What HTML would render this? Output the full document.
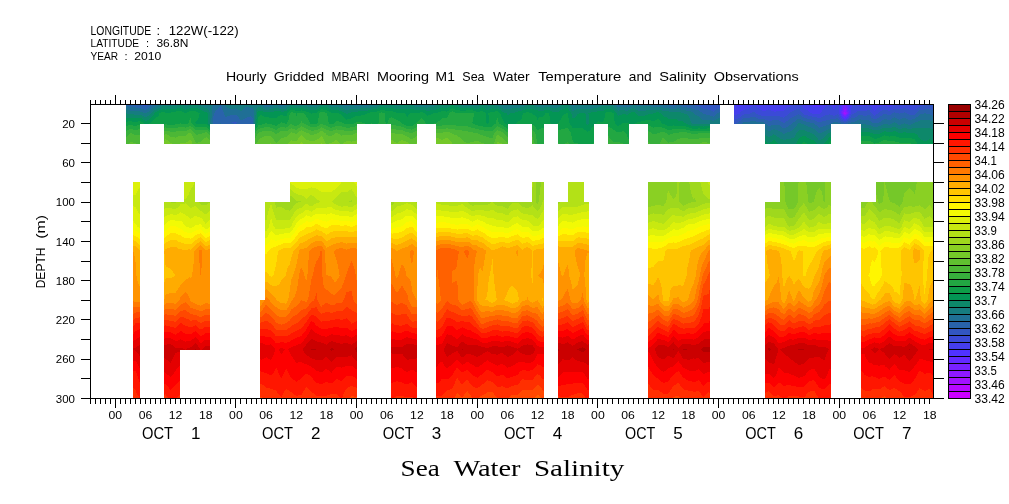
<!DOCTYPE html>
<html><head><meta charset="utf-8"><title>Sea Water Salinity</title>
<style>html,body{margin:0;padding:0;background:#fff;width:1009px;height:504px;overflow:hidden}</style></head>
<body>
<svg width="1009" height="504" viewBox="0 0 1009 504" style="position:absolute;left:0;top:0">
<rect width="1009" height="504" fill="#fff"/>
<g shape-rendering="crispEdges"><path fill="#a311ff" d="M844 112h1v1h-1zM844 113h2v1h-2z"/>
<path fill="#8e19ff" d="M843 112h1v2h-1zM844 109h2v3h-2zM844 114h2v1h-2zM845 112h2v1h-2zM846 113h1v1h-1z"/>
<path fill="#7921ff" d="M842 112h1v2h-1zM842 111h2v1h-2zM843 109h1v2h-1zM843 114h1v1h-1zM843 108h4v1h-4zM844 106h2v2h-2zM844 115h2v1h-2zM846 109h1v3h-1zM846 114h1v1h-1zM847 112h1v2h-1z"/>
<path fill="#6429ff" d="M841 111h1v3h-1zM842 108h1v3h-1zM842 114h1v1h-1zM842 106h2v2h-2zM842 115h2v1h-2zM843 104h4v2h-4zM843 116h4v1h-4zM844 117h1v1h-1zM846 115h1v1h-1zM846 106h2v2h-2zM847 108h1v3h-1zM847 114h1v1h-1zM847 111h2v1h-2zM848 112h1v2h-1z"/>
<path fill="#5032ff" d="M736 104h9v1h-9zM737 105h4v1h-4zM774 104h6v1h-6zM811 104h10v1h-10zM812 105h8v1h-8zM813 106h7v1h-7zM840 111h1v3h-1zM840 108h2v3h-2zM841 106h1v2h-1zM841 114h1v2h-1zM841 104h2v2h-2zM842 116h1v1h-1zM843 117h1v1h-1zM844 118h2v1h-2zM845 117h2v1h-2zM847 116h1v1h-1zM847 115h2v1h-2zM847 104h3v2h-3zM848 114h1v1h-1zM848 106h2v5h-2zM849 111h1v3h-1z"/>
<path fill="#453eec" d="M734 104h2v1h-2zM734 105h3v1h-3zM734 114h3v1h-3zM734 112h6v2h-6zM734 111h7v1h-7zM734 110h9v1h-9zM734 109h11v1h-11zM734 108h15v1h-15zM734 107h17v1h-17zM734 106h18v1h-18zM741 105h50v1h-50zM745 104h29v1h-29zM756 106h34v1h-34zM757 107h31v1h-31zM759 108h27v1h-27zM760 109h8v1h-8zM762 110h4v1h-4zM769 109h16v1h-16zM771 110h13v1h-13zM774 111h2v1h-2zM780 104h12v1h-12zM801 104h10v1h-10zM802 105h10v1h-10zM803 106h10v1h-10zM803 107h22v1h-22zM804 108h20v1h-20zM806 109h17v1h-17zM808 110h14v1h-14zM809 111h13v1h-13zM810 112h11v1h-11zM812 113h8v1h-8zM820 106h6v1h-6zM820 105h8v1h-8zM821 104h16v1h-16zM831 105h6v1h-6zM832 106h4v1h-4zM833 107h2v2h-2zM838 104h3v1h-3zM839 108h1v6h-1zM839 105h2v3h-2zM840 114h1v2h-1zM841 116h1v1h-1zM841 117h2v1h-2zM842 118h2v1h-2zM844 119h2v1h-2zM846 118h2v1h-2zM847 117h2v1h-2zM848 116h1v1h-1zM849 114h1v2h-1zM850 108h1v6h-1zM850 105h2v3h-2zM850 104h52v1h-52zM857 105h11v1h-11zM870 105h23v1h-23zM871 106h10v1h-10zM872 108h5v1h-5zM872 107h6v1h-6zM873 109h3v1h-3zM874 110h1v1h-1zM887 106h4v1h-4zM908 104h7v1h-7z"/>
<path fill="#3b4ad7" d="M712 104h8v1h-8zM734 119h1v1h-1zM734 118h4v1h-4zM734 117h6v1h-6zM734 116h7v1h-7zM734 115h8v1h-8zM737 114h7v1h-7zM740 113h10v1h-10zM740 112h12v1h-12zM741 111h33v1h-33zM743 110h19v1h-19zM745 109h15v1h-15zM749 108h10v1h-10zM751 107h6v1h-6zM752 106h4v1h-4zM755 112h35v1h-35zM756 113h33v1h-33zM758 114h30v1h-30zM761 115h26v1h-26zM766 110h5v1h-5zM768 109h1v1h-1zM776 111h16v1h-16zM780 116h5v1h-5zM783 117h1v1h-1zM784 110h10v1h-10zM785 109h11v1h-11zM786 108h18v1h-18zM788 107h15v1h-15zM790 106h13v1h-13zM791 105h11v1h-11zM792 104h9v1h-9zM800 109h6v1h-6zM800 110h8v1h-8zM801 111h8v1h-8zM802 112h8v1h-8zM803 113h9v1h-9zM804 114h25v1h-25zM808 115h17v1h-17zM812 116h11v1h-11zM817 117h4v1h-4zM820 113h19v1h-19zM821 112h18v1h-18zM822 110h17v2h-17zM823 109h16v1h-16zM824 108h9v1h-9zM825 107h8v1h-8zM826 106h6v1h-6zM828 105h3v1h-3zM830 114h7v1h-7zM833 115h2v1h-2zM835 107h4v2h-4zM836 106h3v1h-3zM837 104h1v1h-1zM837 105h2v1h-2zM838 114h2v1h-2zM839 115h1v1h-1zM839 116h2v1h-2zM840 117h1v1h-1zM840 118h2v1h-2zM841 119h3v1h-3zM843 120h4v1h-4zM846 119h2v1h-2zM848 118h1v1h-1zM849 117h1v1h-1zM849 116h2v1h-2zM850 115h1v1h-1zM850 114h2v1h-2zM851 113h3v1h-3zM851 112h5v1h-5zM851 111h6v1h-6zM851 110h16v1h-16zM851 108h21v1h-21zM851 109h22v1h-22zM852 105h5v1h-5zM852 106h19v1h-19zM852 107h20v1h-20zM868 105h2v1h-2zM870 110h4v1h-4zM870 111h10v1h-10zM871 112h8v1h-8zM872 113h6v1h-6zM873 114h3v1h-3zM874 115h1v1h-1zM875 110h7v1h-7zM876 109h17v1h-17zM877 108h26v1h-26zM878 107h40v1h-40zM881 106h6v1h-6zM888 110h2v1h-2zM891 106h29v1h-29zM893 105h31v1h-31zM902 104h6v1h-6zM906 108h11v1h-11zM909 109h6v1h-6zM915 104h13v1h-13z"/>
<path fill="#3256c1" d="M138 104h10v1h-10zM142 105h5v1h-5zM232 122h5v1h-5zM234 123h2v1h-2zM688 104h24v1h-24zM695 105h25v1h-25zM699 106h21v1h-21zM701 107h19v1h-19zM703 108h16v1h-16zM708 109h8v1h-8zM711 110h4v1h-4zM713 111h1v1h-1zM734 123h2v1h-2zM734 122h4v1h-4zM734 121h5v1h-5zM734 120h7v1h-7zM735 119h7v1h-7zM738 118h5v1h-5zM740 117h10v1h-10zM741 116h39v1h-39zM742 115h19v1h-19zM744 114h14v1h-14zM750 113h6v1h-6zM752 112h3v1h-3zM756 117h27v1h-27zM758 118h32v1h-32zM765 119h24v1h-24zM768 120h4v1h-4zM779 120h9v1h-9zM781 121h5v1h-5zM783 122h2v1h-2zM784 117h8v1h-8zM785 116h9v1h-9zM787 115h9v1h-9zM788 114h10v1h-10zM789 113h14v1h-14zM790 112h12v1h-12zM792 111h9v1h-9zM794 110h6v1h-6zM796 109h4v1h-4zM799 114h5v1h-5zM801 115h7v1h-7zM802 116h10v1h-10zM804 117h13v1h-13zM807 118h29v1h-29zM811 119h19v1h-19zM815 120h11v1h-11zM817 121h5v1h-5zM821 117h19v1h-19zM823 116h16v1h-16zM825 115h8v1h-8zM829 114h1v1h-1zM835 115h4v1h-4zM837 114h1v1h-1zM838 118h2v1h-2zM839 119h2v1h-2zM840 120h3v1h-3zM841 121h7v1h-7zM844 122h2v1h-2zM847 120h3v1h-3zM848 119h3v1h-3zM849 118h2v1h-2zM850 117h5v1h-5zM851 116h6v1h-6zM851 115h7v1h-7zM852 114h21v1h-21zM854 113h18v1h-18zM856 112h15v1h-15zM857 111h13v1h-13zM863 115h4v1h-4zM867 110h3v1h-3zM870 115h4v1h-4zM871 117h8v1h-8zM871 116h9v1h-9zM873 118h4v1h-4zM875 115h7v1h-7zM876 114h7v1h-7zM878 113h14v1h-14zM879 112h15v1h-15zM880 111h38v1h-38zM882 110h6v1h-6zM887 114h4v1h-4zM890 110h29v1h-29zM893 109h16v1h-16zM895 112h9v1h-9zM899 113h1v1h-1zM903 108h3v1h-3zM905 112h12v1h-12zM907 113h9v1h-9zM909 114h6v1h-6zM915 109h9v1h-9zM917 108h17v1h-17zM918 107h16v1h-16zM920 106h14v1h-14zM924 105h10v1h-10zM928 104h6v1h-6zM931 109h3v1h-3z"/>
<path fill="#2963ab" d="M126 104h12v1h-12zM126 105h16v1h-16zM129 106h21v1h-21zM136 107h13v1h-13zM141 108h7v1h-7zM144 109h2v1h-2zM147 105h5v1h-5zM148 104h6v1h-6zM213 123h7v1h-7zM213 116h12v1h-12zM213 122h19v1h-19zM213 117h26v2h-26zM213 119h27v1h-27zM213 120h40v2h-40zM214 113h10v2h-10zM214 115h11v1h-11zM215 111h8v1h-8zM215 112h9v1h-9zM216 110h7v1h-7zM217 109h5v1h-5zM218 108h4v1h-4zM219 107h3v1h-3zM220 105h1v2h-1zM221 123h13v1h-13zM227 116h11v1h-11zM230 115h7v1h-7zM236 123h17v1h-17zM237 122h16v1h-16zM243 119h10v1h-10zM245 118h8v1h-8zM247 117h5v1h-5zM250 116h1v1h-1zM265 104h2v1h-2zM665 104h23v1h-23zM669 105h7v1h-7zM673 106h1v1h-1zM680 105h15v1h-15zM682 106h17v1h-17zM687 107h14v1h-14zM692 108h11v1h-11zM695 109h13v1h-13zM699 110h12v1h-12zM700 111h13v1h-13zM702 112h17v1h-17zM703 113h14v1h-14zM706 114h10v1h-10zM710 115h5v1h-5zM713 116h1v1h-1zM714 111h6v1h-6zM715 110h5v1h-5zM716 109h4v1h-4zM719 108h1v1h-1zM736 123h6v1h-6zM738 122h5v1h-5zM739 121h11v1h-11zM741 120h27v1h-27zM742 119h23v1h-23zM743 118h15v1h-15zM750 117h6v1h-6zM756 121h25v1h-25zM764 122h19v1h-19zM765 123h27v1h-27zM767 124h24v1h-24zM768 125h3v1h-3zM772 120h7v1h-7zM780 125h9v1h-9zM781 126h7v1h-7zM782 127h4v1h-4zM785 122h8v1h-8zM786 121h9v1h-9zM788 120h8v1h-8zM789 119h8v1h-8zM790 118h17v1h-17zM792 117h12v1h-12zM794 116h8v1h-8zM796 115h5v1h-5zM798 114h1v1h-1zM801 119h10v1h-10zM803 120h12v1h-12zM806 121h11v1h-11zM810 122h23v1h-23zM814 123h17v1h-17zM815 124h14v1h-14zM817 125h9v1h-9zM818 126h5v1h-5zM819 127h1v1h-1zM822 121h19v1h-19zM826 120h14v1h-14zM830 119h9v1h-9zM836 118h2v1h-2zM838 122h6v1h-6zM841 123h7v1h-7zM846 122h5v1h-5zM848 121h7v1h-7zM850 120h7v1h-7zM851 119h8v1h-8zM851 118h22v1h-22zM855 117h16v1h-16zM857 116h14v1h-14zM858 115h5v1h-5zM861 119h23v1h-23zM867 115h3v1h-3zM869 120h13v1h-13zM871 121h10v1h-10zM872 122h7v1h-7zM877 118h15v1h-15zM879 117h15v1h-15zM880 116h38v1h-38zM882 115h37v1h-37zM883 114h4v1h-4zM887 119h4v1h-4zM891 114h18v1h-18zM892 113h7v1h-7zM894 112h1v1h-1zM895 117h21v1h-21zM897 118h5v1h-5zM899 119h1v1h-1zM900 113h7v1h-7zM904 112h1v1h-1zM906 118h9v1h-9zM908 119h4v1h-4zM915 114h5v1h-5zM916 113h8v1h-8zM917 112h17v1h-17zM918 111h16v1h-16zM919 110h15v1h-15zM924 109h7v1h-7zM926 113h8v1h-8zM930 114h4v1h-4zM932 115h2v1h-2z"/>
<path fill="#1f6f95" d="M126 106h3v1h-3zM126 107h10v1h-10zM126 108h15v1h-15zM127 109h17v1h-17zM130 110h20v1h-20zM140 111h9v1h-9zM143 112h4v1h-4zM146 109h5v1h-5zM148 108h4v1h-4zM149 107h5v1h-5zM150 106h6v1h-6zM152 105h6v1h-6zM154 104h6v1h-6zM206 104h2v1h-2zM211 118h2v5h-2zM212 116h1v2h-1zM212 123h1v1h-1zM212 113h2v3h-2zM212 111h3v2h-3zM212 110h4v1h-4zM212 109h5v1h-5zM212 108h6v1h-6zM212 107h7v1h-7zM212 106h8v1h-8zM213 105h7v1h-7zM213 104h12v1h-12zM220 123h1v1h-1zM221 105h4v1h-4zM221 106h5v1h-5zM222 107h5v1h-5zM222 108h7v1h-7zM222 109h16v1h-16zM223 110h17v1h-17zM223 111h31v1h-31zM224 112h30v3h-30zM225 116h2v1h-2zM225 115h5v1h-5zM235 108h1v1h-1zM237 115h17v1h-17zM238 116h12v1h-12zM239 118h6v1h-6zM239 117h8v1h-8zM240 119h3v1h-3zM242 110h12v1h-12zM243 109h10v1h-10zM244 108h9v1h-9zM245 107h4v1h-4zM251 116h3v1h-3zM252 117h2v1h-2zM253 118h1v6h-1zM261 104h4v1h-4zM263 105h10v1h-10zM264 106h6v1h-6zM267 104h21v1h-21zM278 105h8v1h-8zM281 106h1v1h-1zM313 104h4v1h-4zM339 104h34v1h-34zM343 105h7v1h-7zM354 105h7v1h-7zM363 105h5v1h-5zM501 104h4v1h-4zM571 104h6v1h-6zM572 105h3v1h-3zM582 104h2v1h-2zM591 104h4v1h-4zM615 104h50v1h-50zM616 105h16v1h-16zM617 106h13v1h-13zM627 107h1v1h-1zM636 105h33v1h-33zM651 106h22v1h-22zM663 107h24v1h-24zM669 108h8v1h-8zM674 106h8v1h-8zM676 105h4v1h-4zM679 108h13v1h-13zM681 109h14v1h-14zM686 110h13v1h-13zM691 111h9v1h-9zM693 112h9v1h-9zM694 113h9v1h-9zM695 114h11v1h-11zM697 115h13v1h-13zM699 116h14v1h-14zM700 117h20v1h-20zM701 118h17v1h-17zM702 119h14v1h-14zM712 120h2v1h-2zM714 116h6v1h-6zM715 115h5v1h-5zM716 114h4v1h-4zM717 113h3v1h-3zM719 112h1v1h-1zM742 123h23v1h-23zM743 122h21v1h-21zM750 121h6v1h-6zM765 124h2v1h-2zM765 125h3v1h-3zM765 126h16v1h-16zM765 127h17v1h-17zM765 128h29v1h-29zM766 129h7v1h-7zM768 130h3v1h-3zM771 125h9v1h-9zM775 129h18v1h-18zM778 130h14v1h-14zM780 131h10v1h-10zM782 132h5v1h-5zM783 133h2v1h-2zM786 127h9v1h-9zM788 126h8v1h-8zM789 125h8v1h-8zM791 124h6v1h-6zM792 123h6v1h-6zM793 122h17v1h-17zM795 121h11v1h-11zM796 120h7v1h-7zM797 119h4v1h-4zM801 123h13v1h-13zM804 124h11v1h-11zM806 125h11v1h-11zM808 126h10v1h-10zM811 127h8v1h-8zM813 128h17v1h-17zM815 129h13v1h-13zM816 130h10v1h-10zM817 131h7v1h-7zM818 132h4v1h-4zM820 127h11v1h-11zM823 126h8v1h-8zM826 125h5v1h-5zM829 124h2v1h-2zM831 123h10v1h-10zM833 122h5v1h-5zM848 123h11v1h-11zM851 122h21v1h-21zM855 121h16v1h-16zM857 120h12v1h-12zM859 119h2v1h-2zM860 123h32v1h-32zM866 124h17v1h-17zM871 125h10v1h-10zM873 126h5v1h-5zM879 122h15v1h-15zM881 121h37v1h-37zM882 120h38v1h-38zM884 119h3v1h-3zM888 124h2v1h-2zM891 119h8v1h-8zM892 118h5v1h-5zM894 117h1v1h-1zM895 122h20v1h-20zM897 123h7v1h-7zM898 124h3v1h-3zM900 119h8v1h-8zM902 118h4v1h-4zM905 123h8v1h-8zM908 124h3v1h-3zM912 119h22v1h-22zM915 118h19v1h-19zM916 117h18v1h-18zM918 116h16v1h-16zM919 115h13v1h-13zM920 114h10v1h-10zM924 113h2v1h-2zM930 120h4v1h-4zM933 121h1v1h-1z"/>
<path fill="#167c80" d="M126 109h1v1h-1zM126 110h4v1h-4zM126 111h14v1h-14zM126 112h17v1h-17zM127 113h24v1h-24zM134 114h16v1h-16zM142 115h7v1h-7zM144 116h3v1h-3zM147 112h5v1h-5zM149 111h4v1h-4zM150 110h4v1h-4zM151 109h5v1h-5zM152 108h6v1h-6zM154 107h6v1h-6zM156 106h6v1h-6zM158 105h19v1h-19zM160 104h19v1h-19zM182 104h11v1h-11zM184 105h4v1h-4zM197 104h9v1h-9zM199 105h14v1h-14zM201 106h11v1h-11zM204 107h8v1h-8zM207 108h5v1h-5zM208 109h4v1h-4zM208 104h5v1h-5zM209 110h3v2h-3zM210 118h1v5h-1zM210 112h2v6h-2zM210 123h2v1h-2zM225 104h36v1h-36zM225 105h38v1h-38zM226 106h38v1h-38zM227 107h18v1h-18zM229 108h6v1h-6zM236 108h8v1h-8zM238 109h5v1h-5zM240 110h2v1h-2zM249 107h9v1h-9zM253 109h3v1h-3zM253 108h4v1h-4zM254 115h1v9h-1zM254 110h2v5h-2zM261 107h26v1h-26zM263 108h10v1h-10zM265 109h4v1h-4zM270 106h11v1h-11zM273 105h5v1h-5zM279 108h7v1h-7zM282 106h7v1h-7zM286 105h4v1h-4zM288 104h25v1h-25zM295 105h25v1h-25zM307 106h11v1h-11zM315 107h1v1h-1zM317 104h4v1h-4zM326 104h13v1h-13zM329 105h14v1h-14zM331 106h46v1h-46zM339 107h31v1h-31zM343 108h17v1h-17zM345 109h4v1h-4zM350 105h4v1h-4zM361 105h2v1h-2zM368 105h11v1h-11zM373 104h8v1h-8zM384 104h7v1h-7zM392 104h48v1h-48zM395 105h5v1h-5zM413 105h24v1h-24zM415 106h19v1h-19zM426 107h2v1h-2zM445 104h3v1h-3zM458 104h23v1h-23zM462 105h17v1h-17zM484 104h17v1h-17zM487 105h3v1h-3zM495 105h32v1h-32zM499 106h25v1h-25zM501 107h19v1h-19zM503 108h9v1h-9zM505 104h26v1h-26zM533 104h29v1h-29zM534 105h27v1h-27zM536 106h24v1h-24zM541 107h3v1h-3zM551 107h7v1h-7zM569 104h2v1h-2zM569 105h3v1h-3zM570 107h28v1h-28zM570 106h31v1h-31zM571 108h22v1h-22zM572 110h2v1h-2zM572 109h4v1h-4zM575 105h41v1h-41zM577 104h5v1h-5zM584 104h7v1h-7zM595 104h20v1h-20zM613 106h4v1h-4zM614 107h13v1h-13zM616 108h16v1h-16zM617 109h13v1h-13zM618 110h1v1h-1zM625 110h3v1h-3zM628 107h35v1h-35zM630 106h21v1h-21zM632 105h4v1h-4zM634 108h35v1h-35zM636 109h45v1h-45zM638 110h8v1h-8zM662 110h24v1h-24zM669 111h22v1h-22zM677 108h2v1h-2zM681 112h12v1h-12zM684 113h10v1h-10zM687 114h8v1h-8zM688 115h9v1h-9zM689 116h10v1h-10zM689 117h11v1h-11zM690 118h11v1h-11zM690 119h12v1h-12zM690 120h22v1h-22zM691 121h29v2h-29zM692 123h28v1h-28zM714 120h6v1h-6zM716 119h4v1h-4zM718 118h2v1h-2zM765 129h1v1h-1zM765 130h3v1h-3zM765 134h8v1h-8zM765 131h15v1h-15zM765 132h17v1h-17zM765 133h18v1h-18zM766 135h6v1h-6zM768 136h2v1h-2zM771 130h7v1h-7zM773 129h2v1h-2zM774 134h22v1h-22zM776 135h19v1h-19zM777 136h18v1h-18zM779 137h15v1h-15zM780 138h11v1h-11zM783 139h3v1h-3zM785 133h11v1h-11zM787 132h10v1h-10zM790 131h8v1h-8zM792 130h7v1h-7zM793 129h22v1h-22zM794 128h19v1h-19zM795 127h16v1h-16zM796 126h12v1h-12zM797 124h7v1h-7zM797 125h9v1h-9zM798 123h3v1h-3zM805 130h11v1h-11zM807 131h10v1h-10zM810 132h8v1h-8zM812 133h16v1h-16zM814 134h13v1h-13zM815 135h11v1h-11zM816 136h9v1h-9zM817 137h7v1h-7zM818 139h3v1h-3zM818 138h5v1h-5zM822 132h8v1h-8zM824 131h7v1h-7zM826 130h5v1h-5zM828 129h3v1h-3zM830 128h1v1h-1zM859 123h1v1h-1zM861 124h5v1h-5zM861 125h10v1h-10zM861 126h12v1h-12zM861 127h31v1h-31zM869 128h13v1h-13zM872 129h8v1h-8zM878 126h56v1h-56zM881 125h53v1h-53zM883 124h5v1h-5zM890 124h8v1h-8zM892 123h5v1h-5zM894 122h1v1h-1zM896 127h38v1h-38zM898 128h4v1h-4zM901 124h7v1h-7zM904 123h1v1h-1zM907 128h5v1h-5zM911 124h23v1h-23zM913 123h21v1h-21zM915 122h19v1h-19zM918 121h15v1h-15zM920 120h10v1h-10zM930 128h4v1h-4zM933 129h1v1h-1z"/>
<path fill="#0d886a" d="M126 113h1v1h-1zM126 114h8v1h-8zM126 115h16v1h-16zM126 116h18v1h-18zM126 117h25v1h-25zM142 118h8v1h-8zM143 119h6v1h-6zM145 120h2v1h-2zM147 116h5v1h-5zM149 115h4v1h-4zM150 114h4v1h-4zM151 113h3v1h-3zM152 112h3v1h-3zM153 111h4v1h-4zM154 110h5v1h-5zM156 109h6v1h-6zM158 108h19v1h-19zM160 107h20v1h-20zM162 106h39v1h-39zM165 109h1v1h-1zM177 105h7v1h-7zM179 104h3v1h-3zM181 107h23v1h-23zM183 108h6v1h-6zM185 109h1v1h-1zM188 105h11v1h-11zM193 104h4v1h-4zM198 108h9v1h-9zM200 109h8v1h-8zM202 110h7v1h-7zM204 111h5v1h-5zM207 112h3v1h-3zM208 113h2v11h-2zM209 124h1v1h-1zM255 119h1v6h-1zM255 115h2v4h-2zM256 112h1v3h-1zM256 111h2v1h-2zM256 109h9v1h-9zM256 110h31v1h-31zM257 108h6v1h-6zM258 107h3v1h-3zM263 111h11v1h-11zM269 109h19v1h-19zM273 108h6v1h-6zM281 111h3v1h-3zM286 108h4v1h-4zM287 107h4v1h-4zM289 106h18v1h-18zM290 105h5v1h-5zM292 107h23v1h-23zM304 108h15v1h-15zM308 109h9v1h-9zM316 107h4v1h-4zM318 106h13v1h-13zM320 105h9v1h-9zM321 104h5v1h-5zM327 107h12v1h-12zM329 108h14v1h-14zM331 109h14v1h-14zM339 110h29v1h-29zM342 111h16v1h-16zM344 112h7v1h-7zM346 113h2v1h-2zM349 109h23v1h-23zM360 108h18v1h-18zM370 107h10v1h-10zM377 106h38v1h-38zM379 105h16v1h-16zM381 104h3v1h-3zM385 107h41v1h-41zM391 104h1v1h-1zM394 108h45v1h-45zM400 105h13v1h-13zM414 109h22v1h-22zM426 110h4v1h-4zM428 107h14v1h-14zM434 106h16v1h-16zM437 105h14v1h-14zM440 104h5v1h-5zM443 107h5v1h-5zM448 104h10v1h-10zM453 105h9v1h-9zM455 106h44v1h-44zM459 107h23v1h-23zM474 108h5v1h-5zM479 105h8v1h-8zM481 104h3v1h-3zM483 107h18v1h-18zM485 108h7v1h-7zM486 109h3v1h-3zM490 105h5v1h-5zM494 108h9v1h-9zM499 109h26v1h-26zM501 110h21v1h-21zM502 111h16v1h-16zM504 112h11v1h-11zM507 114h2v1h-2zM507 113h3v1h-3zM512 108h53v1h-53zM520 107h21v1h-21zM524 106h12v1h-12zM527 105h7v1h-7zM531 104h2v1h-2zM534 109h28v1h-28zM538 110h6v1h-6zM544 107h7v1h-7zM550 110h10v1h-10zM552 111h7v1h-7zM558 107h12v1h-12zM560 106h10v1h-10zM561 105h8v1h-8zM562 104h7v1h-7zM568 108h3v1h-3zM569 109h3v2h-3zM570 111h27v1h-27zM571 113h8v1h-8zM571 112h20v1h-20zM572 117h3v1h-3zM572 116h4v1h-4zM572 114h5v2h-5zM574 110h30v1h-30zM576 109h29v1h-29zM585 113h3v1h-3zM586 114h3v10h-3zM587 124h1v1h-1zM593 108h23v1h-23zM598 107h16v1h-16zM601 106h12v1h-12zM612 109h5v1h-5zM614 110h4v1h-4zM615 111h54v1h-54zM616 112h15v1h-15zM617 114h5v1h-5zM617 113h12v1h-12zM618 115h1v1h-1zM619 110h6v1h-6zM626 114h2v1h-2zM628 110h10v1h-10zM630 109h6v1h-6zM632 108h2v1h-2zM635 112h21v1h-21zM636 113h17v1h-17zM637 114h11v1h-11zM638 115h7v1h-7zM646 110h16v1h-16zM659 112h22v1h-22zM661 113h23v1h-23zM662 114h25v1h-25zM663 115h25v1h-25zM664 116h25v1h-25zM667 117h22v1h-22zM668 118h22v1h-22zM677 119h13v1h-13zM678 120h12v1h-12zM683 121h8v1h-8zM684 122h7v1h-7zM686 123h6v1h-6zM688 124h22v1h-22zM691 125h19v1h-19zM703 126h1v1h-1zM765 135h1v1h-1zM765 136h3v1h-3zM765 140h8v1h-8zM765 137h14v1h-14zM765 138h15v1h-15zM765 139h18v1h-18zM766 141h6v1h-6zM767 142h3v1h-3zM768 143h1v1h-1zM770 136h7v1h-7zM772 135h4v1h-4zM773 134h1v1h-1zM775 140h23v1h-23zM776 141h21v1h-21zM777 142h20v1h-20zM778 143h18v1h-18zM786 139h12v1h-12zM791 138h8v1h-8zM794 137h6v1h-6zM795 136h7v1h-7zM795 135h20v1h-20zM796 133h16v1h-16zM796 134h18v1h-18zM797 132h13v1h-13zM798 131h9v1h-9zM799 130h6v1h-6zM806 136h10v1h-10zM807 137h10v1h-10zM809 138h9v1h-9zM811 139h7v1h-7zM814 140h13v1h-13zM815 141h11v1h-11zM816 142h9v1h-9zM817 143h7v1h-7zM821 139h7v1h-7zM823 138h5v1h-5zM824 137h5v1h-5zM825 136h6v1h-6zM826 135h5v1h-5zM827 134h4v1h-4zM828 133h3v1h-3zM830 132h1v1h-1zM861 128h8v1h-8zM861 129h11v1h-11zM861 131h23v1h-23zM861 130h73v1h-73zM870 132h12v1h-12zM873 133h7v1h-7zM880 129h53v1h-53zM882 128h16v1h-16zM886 131h7v1h-7zM892 127h4v1h-4zM896 131h38v1h-38zM898 132h5v1h-5zM902 128h5v1h-5zM906 132h28v1h-28zM912 128h18v1h-18zM915 133h19v1h-19zM917 134h17v1h-17zM918 135h16v2h-16zM919 137h15v1h-15zM920 138h14v1h-14zM921 139h8v1h-8zM923 140h4v1h-4zM930 139h4v1h-4zM933 140h1v1h-1z"/>
<path fill="#039554" d="M126 121h2v1h-2zM126 118h16v1h-16zM126 119h17v1h-17zM126 120h19v1h-19zM132 121h6v1h-6zM141 121h11v1h-11zM143 122h8v1h-8zM144 123h5v1h-5zM147 120h6v1h-6zM149 119h5v1h-5zM150 118h5v1h-5zM151 117h5v1h-5zM152 116h6v1h-6zM153 115h6v1h-6zM154 113h5v2h-5zM155 112h6v1h-6zM157 111h19v1h-19zM159 110h43v1h-43zM162 109h3v1h-3zM165 112h6v1h-6zM166 109h19v1h-19zM177 108h6v1h-6zM180 107h1v1h-1zM182 111h7v1h-7zM184 112h3v1h-3zM186 109h14v1h-14zM189 108h9v1h-9zM195 122h13v1h-13zM196 111h8v1h-8zM196 121h12v1h-12zM196 123h12v1h-12zM197 120h11v1h-11zM198 112h9v1h-9zM198 118h10v2h-10zM199 114h9v4h-9zM200 113h8v1h-8zM207 124h2v1h-2zM208 125h2v1h-2zM209 126h1v1h-1zM255 125h1v2h-1zM256 123h1v2h-1zM256 119h2v4h-2zM257 117h1v2h-1zM257 116h2v1h-2zM257 115h3v1h-3zM257 113h30v2h-30zM257 112h31v1h-31zM258 111h5v1h-5zM262 115h18v1h-18zM264 116h14v1h-14zM269 117h8v1h-8zM274 111h7v1h-7zM283 115h4v1h-4zM284 111h5v1h-5zM287 110h3v1h-3zM288 109h20v1h-20zM290 108h14v1h-14zM291 107h1v1h-1zM295 110h6v1h-6zM302 110h18v1h-18zM306 111h12v1h-12zM309 112h8v1h-8zM311 113h1v1h-1zM317 109h4v1h-4zM319 108h10v1h-10zM320 107h7v1h-7zM323 109h8v1h-8zM327 110h12v1h-12zM329 111h13v1h-13zM331 112h13v1h-13zM339 113h7v1h-7zM341 114h24v1h-24zM342 115h19v1h-19zM343 116h12v1h-12zM344 117h9v1h-9zM345 118h6v1h-6zM346 119h1v1h-1zM348 113h19v1h-19zM351 112h19v1h-19zM358 111h19v1h-19zM368 110h12v1h-12zM372 109h42v1h-42zM378 108h16v1h-16zM380 107h5v1h-5zM385 110h41v1h-41zM393 111h48v1h-48zM396 112h24v1h-24zM405 113h5v1h-5zM406 115h2v1h-2zM406 114h3v1h-3zM407 116h1v1h-1zM423 112h15v1h-15zM425 113h8v1h-8zM426 114h5v1h-5zM427 115h1v1h-1zM430 110h19v1h-19zM436 109h14v1h-14zM439 108h13v1h-13zM442 107h1v1h-1zM446 111h1v1h-1zM448 107h11v1h-11zM450 106h5v1h-5zM451 105h2v1h-2zM453 108h21v1h-21zM455 109h31v1h-31zM460 110h6v1h-6zM473 110h28v1h-28zM476 111h4v1h-4zM479 108h6v1h-6zM482 107h1v1h-1zM483 111h12v1h-12zM485 112h5v1h-5zM486 113h2v2h-2zM486 115h3v8h-3zM487 123h1v1h-1zM489 109h10v1h-10zM492 108h2v1h-2zM498 111h4v1h-4zM499 112h5v1h-5zM500 113h7v1h-7zM501 114h6v1h-6zM501 115h21v2h-21zM502 117h20v2h-20zM503 120h17v1h-17zM503 119h18v1h-18zM504 122h13v1h-13zM504 121h14v1h-14zM505 123h11v1h-11zM507 124h1v1h-1zM509 114h14v1h-14zM510 113h13v1h-13zM515 112h11v1h-11zM518 111h34v1h-34zM522 110h16v1h-16zM525 109h9v1h-9zM529 112h42v1h-42zM532 113h13v1h-13zM533 114h12v1h-12zM535 115h9v1h-9zM536 116h7v1h-7zM537 118h1v2h-1zM537 117h2v1h-2zM544 110h6v1h-6zM549 115h14v1h-14zM549 114h15v1h-15zM549 113h17v1h-17zM550 121h9v2h-9zM550 120h10v1h-10zM550 118h11v2h-11zM550 116h12v2h-12zM551 123h6v1h-6zM559 111h11v1h-11zM560 110h9v1h-9zM562 109h7v1h-7zM565 108h3v1h-3zM568 113h3v1h-3zM568 114h4v4h-4zM569 118h17v5h-17zM570 123h16v1h-16zM570 124h17v1h-17zM571 125h23v1h-23zM572 127h20v1h-20zM572 126h21v1h-21zM575 117h11v1h-11zM576 116h10v1h-10zM577 114h9v2h-9zM579 113h6v1h-6zM583 128h8v1h-8zM584 129h7v1h-7zM586 130h4v1h-4zM587 131h1v1h-1zM588 124h6v1h-6zM588 113h17v1h-17zM589 123h7v1h-7zM589 122h8v1h-8zM589 121h9v1h-9zM589 118h15v3h-15zM589 114h16v4h-16zM591 112h15v1h-15zM597 111h18v1h-18zM599 121h4v1h-4zM604 110h10v1h-10zM605 109h7v1h-7zM612 112h4v1h-4zM614 113h3v2h-3zM614 115h4v1h-4zM614 120h31v1h-31zM614 119h43v1h-43zM614 116h50v1h-50zM614 117h53v1h-53zM614 118h54v1h-54zM615 123h7v1h-7zM615 122h22v1h-22zM615 121h26v1h-26zM616 124h5v1h-5zM617 125h2v1h-2zM619 115h19v1h-19zM622 114h4v1h-4zM628 114h9v1h-9zM629 123h6v1h-6zM629 113h7v1h-7zM631 112h4v1h-4zM645 115h18v1h-18zM648 114h14v1h-14zM651 120h4v1h-4zM653 113h8v1h-8zM656 112h3v1h-3zM659 119h18v1h-18zM660 120h18v1h-18zM661 121h22v1h-22zM661 122h23v1h-23zM662 123h24v1h-24zM665 124h23v1h-23zM667 125h6v1h-6zM674 125h17v1h-17zM686 126h17v1h-17zM689 127h21v1h-21zM692 128h6v1h-6zM700 128h7v1h-7zM704 126h6v1h-6zM765 141h1v1h-1zM765 142h2v1h-2zM765 143h3v1h-3zM769 143h9v1h-9zM770 142h7v1h-7zM772 141h4v1h-4zM773 140h2v1h-2zM796 143h6v1h-6zM797 142h6v1h-6zM797 141h18v1h-18zM798 139h13v1h-13zM798 140h16v1h-16zM799 138h10v1h-10zM800 137h7v1h-7zM802 136h4v1h-4zM805 142h11v1h-11zM807 143h10v1h-10zM824 143h5v1h-5zM825 142h4v1h-4zM826 141h4v1h-4zM827 140h4v1h-4zM828 138h3v2h-3zM829 137h2v1h-2zM861 132h9v1h-9zM861 133h12v1h-12zM861 135h23v1h-23zM861 134h56v1h-56zM870 136h12v1h-12zM872 137h8v1h-8zM874 138h3v1h-3zM880 133h35v1h-35zM882 132h16v1h-16zM884 131h2v1h-2zM885 135h33v1h-33zM889 136h1v1h-1zM893 131h3v1h-3zM896 136h22v1h-22zM899 137h20v1h-20zM903 132h3v1h-3zM912 138h8v1h-8zM915 139h6v1h-6zM915 140h8v1h-8zM916 141h18v1h-18zM917 142h17v2h-17zM927 140h6v1h-6zM929 139h1v1h-1z"/>
<path fill="#0d9e48" d="M126 125h2v1h-2zM126 124h14v1h-14zM126 122h17v1h-17zM126 123h18v1h-18zM128 121h4v1h-4zM133 125h4v1h-4zM138 121h3v1h-3zM149 123h31v1h-31zM151 122h38v1h-38zM152 121h37v1h-37zM153 120h36v1h-36zM154 119h36v1h-36zM155 118h35v1h-35zM156 117h43v1h-43zM158 116h41v1h-41zM159 114h40v2h-40zM159 113h41v1h-41zM161 112h4v1h-4zM164 124h1v1h-1zM167 124h8v1h-8zM171 112h13v1h-13zM176 111h6v1h-6zM181 123h7v1h-7zM187 112h11v1h-11zM189 111h7v1h-7zM191 122h4v1h-4zM191 121h5v1h-5zM191 120h6v1h-6zM191 118h7v2h-7zM192 123h4v1h-4zM193 124h14v1h-14zM194 125h14v1h-14zM195 126h14v1h-14zM207 127h3v1h-3zM208 128h2v1h-2zM209 129h1v1h-1zM255 128h1v2h-1zM255 127h2v1h-2zM256 125h2v2h-2zM257 124h5v1h-5zM257 123h8v1h-8zM258 117h11v1h-11zM258 122h23v1h-23zM258 120h30v2h-30zM258 118h31v2h-31zM259 116h5v1h-5zM260 115h2v1h-2zM267 123h13v1h-13zM272 124h6v1h-6zM275 125h2v1h-2zM277 117h12v1h-12zM278 116h11v1h-11zM280 115h3v1h-3zM282 122h5v1h-5zM285 123h2v1h-2zM287 115h2v1h-2zM287 113h3v2h-3zM288 112h3v1h-3zM289 111h17v1h-17zM290 110h5v1h-5zM293 112h16v1h-16zM296 113h1v3h-1zM301 110h1v1h-1zM304 113h7v1h-7zM305 114h14v1h-14zM306 115h13v2h-13zM307 117h12v1h-12zM308 118h10v2h-10zM309 120h9v2h-9zM310 123h7v1h-7zM310 122h8v1h-8zM312 113h7v1h-7zM317 112h3v1h-3zM318 111h11v1h-11zM320 110h7v1h-7zM321 109h2v1h-2zM325 112h6v1h-6zM327 113h12v1h-12zM327 114h14v1h-14zM327 115h15v1h-15zM328 121h8v1h-8zM328 116h15v1h-15zM328 117h16v1h-16zM328 118h17v1h-17zM328 119h18v1h-18zM328 120h51v1h-51zM329 123h5v1h-5zM329 122h6v1h-6zM339 121h40v1h-40zM342 122h14v1h-14zM344 123h10v1h-10zM347 119h32v1h-32zM351 118h28v1h-28zM353 117h26v1h-26zM355 116h24v1h-24zM361 115h18v1h-18zM362 122h17v1h-17zM365 123h6v1h-6zM365 114h14v1h-14zM367 113h12v1h-12zM370 112h11v1h-11zM372 123h6v1h-6zM377 111h16v1h-16zM380 110h5v1h-5zM382 112h14v1h-14zM385 120h3v2h-3zM385 118h4v2h-4zM385 117h6v1h-6zM385 113h20v1h-20zM385 114h21v2h-21zM385 116h22v1h-22zM386 123h1v1h-1zM386 122h2v1h-2zM392 117h55v1h-55zM394 118h27v1h-27zM396 119h24v1h-24zM398 120h21v1h-21zM400 121h18v1h-18zM401 122h16v1h-16zM402 123h14v1h-14zM404 124h10v1h-10zM406 125h7v1h-7zM408 115h19v1h-19zM408 116h40v1h-40zM409 114h17v1h-17zM410 113h15v1h-15zM420 112h3v1h-3zM422 118h20v1h-20zM423 119h18v1h-18zM424 120h16v1h-16zM425 122h12v1h-12zM425 121h13v1h-13zM426 123h8v1h-8zM428 115h20v1h-20zM431 114h18v1h-18zM433 113h16v1h-16zM438 112h12v1h-12zM441 111h5v1h-5zM447 111h5v1h-5zM449 110h11v1h-11zM450 109h5v1h-5zM452 108h1v1h-1zM453 111h23v1h-23zM455 112h30v1h-30zM466 110h7v1h-7zM472 122h14v1h-14zM473 117h13v5h-13zM473 123h14v1h-14zM474 113h12v4h-12zM475 124h19v1h-19zM478 125h15v1h-15zM480 111h3v1h-3zM483 126h9v1h-9zM488 123h8v1h-8zM488 113h12v1h-12zM488 114h13v1h-13zM489 120h7v3h-7zM489 118h8v2h-8zM489 115h12v2h-12zM489 117h13v1h-13zM490 112h9v1h-9zM495 111h3v1h-3zM498 118h4v1h-4zM498 119h5v2h-5zM498 121h6v1h-6zM499 122h5v1h-5zM499 123h6v1h-6zM501 124h6v1h-6zM503 125h5v1h-5zM504 126h4v1h-4zM506 127h2v1h-2zM507 128h1v1h-1zM516 123h35v1h-35zM517 122h33v1h-33zM518 121h32v1h-32zM520 120h30v1h-30zM521 119h16v1h-16zM522 115h13v1h-13zM522 116h14v1h-14zM522 117h15v2h-15zM523 113h9v1h-9zM523 114h10v1h-10zM526 112h3v1h-3zM532 124h12v1h-12zM534 125h10v1h-10zM535 126h9v1h-9zM536 128h5v1h-5zM536 127h8v1h-8zM537 129h2v1h-2zM538 118h12v2h-12zM539 117h11v1h-11zM543 116h7v1h-7zM544 115h5v1h-5zM545 113h4v2h-4zM557 123h13v1h-13zM558 129h3v1h-3zM558 128h7v1h-7zM558 124h12v1h-12zM558 125h13v1h-13zM558 126h14v2h-14zM559 121h10v2h-10zM560 120h9v1h-9zM561 118h8v2h-8zM562 116h6v2h-6zM563 115h5v1h-5zM564 114h4v1h-4zM566 113h2v1h-2zM568 128h15v1h-15zM569 129h15v1h-15zM569 130h17v1h-17zM570 131h17v1h-17zM571 132h23v4h-23zM572 136h22v4h-22zM573 140h21v2h-21zM574 142h20v1h-20zM578 143h15v1h-15zM588 131h6v1h-6zM590 130h4v1h-4zM591 128h3v2h-3zM592 127h2v1h-2zM593 126h1v1h-1zM596 123h19v1h-19zM597 122h18v1h-18zM598 121h1v1h-1zM603 121h12v1h-12zM604 118h10v3h-10zM605 113h9v5h-9zM606 112h6v1h-6zM608 124h8v1h-8zM608 125h9v1h-9zM608 126h21v1h-21zM610 127h19v1h-19zM612 128h17v1h-17zM613 129h16v1h-16zM615 130h14v1h-14zM616 131h6v1h-6zM619 125h10v1h-10zM621 124h8v1h-8zM622 123h7v1h-7zM624 131h5v1h-5zM625 132h4v1h-4zM626 133h3v1h-3zM627 134h2v3h-2zM628 137h1v2h-1zM635 123h27v1h-27zM637 122h24v1h-24zM641 121h20v1h-20zM645 120h6v1h-6zM648 124h17v1h-17zM649 125h18v1h-18zM651 126h35v1h-35zM653 127h1v1h-1zM655 120h5v1h-5zM657 119h2v1h-2zM662 127h27v1h-27zM665 128h27v1h-27zM667 129h5v1h-5zM673 125h1v1h-1zM686 129h24v1h-24zM690 130h20v1h-20zM698 128h2v1h-2zM707 128h3v1h-3zM802 143h5v1h-5zM803 142h2v1h-2zM829 142h2v2h-2zM830 141h1v1h-1zM861 136h9v1h-9zM861 137h11v1h-11zM861 138h13v1h-13zM861 140h22v1h-22zM861 139h54v1h-54zM871 141h10v1h-10zM873 142h6v1h-6zM874 143h1v1h-1zM877 138h35v1h-35zM880 137h19v1h-19zM882 136h7v1h-7zM884 135h1v1h-1zM887 140h28v1h-28zM890 136h6v1h-6zM895 141h21v1h-21zM899 142h18v1h-18zM911 143h6v1h-6z"/>
<path fill="#22a742" d="M126 130h1v1h-1zM126 129h3v1h-3zM126 126h14v3h-14zM128 125h5v1h-5zM133 129h5v1h-5zM137 125h3v1h-3zM164 127h1v1h-1zM164 126h25v1h-25zM164 125h30v1h-30zM165 124h2v1h-2zM166 127h12v1h-12zM175 124h18v1h-18zM180 123h1v1h-1zM185 127h1v1h-1zM188 123h4v1h-4zM189 120h2v3h-2zM190 118h1v2h-1zM191 126h4v1h-4zM193 127h14v1h-14zM194 128h14v1h-14zM195 129h14v1h-14zM208 130h2v1h-2zM209 131h1v1h-1zM255 131h1v2h-1zM255 130h2v1h-2zM256 129h2v1h-2zM256 128h4v1h-4zM257 127h7v1h-7zM258 125h17v1h-17zM258 126h30v1h-30zM262 124h10v1h-10zM265 123h2v1h-2zM270 127h10v1h-10zM273 128h5v1h-5zM275 129h2v1h-2zM277 125h12v1h-12zM278 124h12v1h-12zM280 123h5v1h-5zM281 122h1v1h-1zM285 127h1v1h-1zM287 123h13v1h-13zM287 122h14v1h-14zM288 121h13v1h-13zM288 120h21v1h-21zM289 115h7v1h-7zM289 116h17v1h-17zM289 117h18v1h-18zM289 118h19v2h-19zM290 113h6v2h-6zM291 112h2v1h-2zM292 124h7v1h-7zM294 125h3v1h-3zM297 113h7v1h-7zM297 114h8v1h-8zM297 115h9v1h-9zM302 121h7v1h-7zM302 122h8v1h-8zM304 123h6v1h-6zM306 124h14v1h-14zM308 125h11v1h-11zM310 126h7v1h-7zM317 123h12v1h-12zM318 118h10v4h-10zM318 122h11v1h-11zM319 113h8v3h-8zM319 116h9v2h-9zM320 112h5v1h-5zM323 124h34v1h-34zM326 125h31v1h-31zM328 126h7v1h-7zM330 127h2v1h-2zM334 123h10v1h-10zM335 122h7v1h-7zM336 121h3v1h-3zM342 126h13v1h-13zM346 127h4v1h-4zM354 123h11v1h-11zM356 122h6v1h-6zM371 123h1v1h-1zM378 123h8v1h-8zM379 113h6v9h-6zM379 122h7v1h-7zM381 112h1v1h-1zM387 123h15v1h-15zM388 120h10v1h-10zM388 121h12v1h-12zM388 122h13v1h-13zM389 118h5v1h-5zM389 119h7v1h-7zM391 117h1v1h-1zM391 124h13v1h-13zM396 125h10v1h-10zM401 126h16v1h-16zM404 127h12v1h-12zM406 128h8v1h-8zM411 129h1v1h-1zM413 125h4v1h-4zM414 124h3v1h-3zM416 123h10v1h-10zM417 122h8v1h-8zM418 121h7v1h-7zM419 120h5v1h-5zM420 119h3v1h-3zM421 118h1v1h-1zM434 123h39v1h-39zM436 125h6v1h-6zM436 124h39v1h-39zM437 122h35v1h-35zM438 121h35v1h-35zM440 120h33v1h-33zM441 119h32v1h-32zM442 118h31v1h-31zM447 117h26v1h-26zM448 115h26v2h-26zM449 113h25v2h-25zM450 112h5v1h-5zM452 111h1v1h-1zM456 125h22v1h-22zM468 126h15v1h-15zM471 127h25v1h-25zM475 128h20v1h-20zM479 129h15v1h-15zM484 130h9v1h-9zM492 126h5v1h-5zM493 125h10v1h-10zM494 124h7v1h-7zM496 120h2v2h-2zM496 122h3v2h-3zM497 118h1v2h-1zM498 126h6v1h-6zM500 127h6v1h-6zM502 128h5v1h-5zM504 129h4v1h-4zM505 130h3v1h-3zM506 131h2v1h-2zM532 125h2v1h-2zM532 126h3v1h-3zM532 127h4v2h-4zM532 129h5v1h-5zM533 130h11v1h-11zM534 131h10v1h-10zM535 132h9v2h-9zM536 134h8v5h-8zM537 139h7v5h-7zM539 129h5v1h-5zM541 128h3v1h-3zM558 142h9v1h-9zM558 130h11v1h-11zM558 131h12v1h-12zM558 132h13v4h-13zM558 136h14v4h-14zM558 140h15v2h-15zM559 143h6v1h-6zM561 129h8v1h-8zM565 128h3v1h-3zM568 142h6v1h-6zM569 143h9v1h-9zM593 143h1v1h-1zM608 127h2v1h-2zM608 128h4v1h-4zM608 129h5v1h-5zM608 130h7v1h-7zM608 131h8v1h-8zM608 132h17v1h-17zM608 133h18v1h-18zM608 134h19v2h-19zM609 136h18v1h-18zM609 137h19v1h-19zM610 138h18v1h-18zM611 139h18v1h-18zM612 140h17v1h-17zM613 141h16v1h-16zM620 142h9v1h-9zM622 131h2v1h-2zM623 143h6v1h-6zM648 125h1v1h-1zM648 126h3v1h-3zM648 127h5v1h-5zM648 128h17v1h-17zM648 129h19v1h-19zM648 130h42v1h-42zM649 131h61v1h-61zM651 132h9v1h-9zM652 133h5v1h-5zM654 127h8v1h-8zM665 132h14v1h-14zM667 133h6v1h-6zM668 134h2v1h-2zM672 129h14v1h-14zM687 132h23v1h-23zM691 133h7v1h-7zM861 141h10v1h-10zM861 142h12v1h-12zM861 143h13v1h-13zM875 143h36v1h-36zM879 142h20v1h-20zM881 141h14v1h-14zM883 140h4v1h-4z"/>
<path fill="#37af3c" d="M126 136h1v1h-1zM126 135h2v1h-2zM126 134h3v1h-3zM126 133h4v1h-4zM126 131h14v2h-14zM127 130h13v1h-13zM129 129h4v1h-4zM132 133h8v1h-8zM134 134h6v1h-6zM138 129h2v1h-2zM164 130h23v1h-23zM164 129h25v1h-25zM164 128h30v1h-30zM165 127h1v1h-1zM170 131h6v1h-6zM178 127h7v1h-7zM186 127h7v1h-7zM189 126h2v1h-2zM191 129h4v1h-4zM192 130h16v1h-16zM193 131h16v1h-16zM194 132h11v1h-11zM195 133h7v1h-7zM196 134h2v1h-2zM207 132h3v1h-3zM208 133h2v1h-2zM209 134h1v1h-1zM255 136h1v2h-1zM255 134h2v2h-2zM255 133h3v1h-3zM256 132h3v1h-3zM256 131h6v1h-6zM257 130h31v1h-31zM258 129h17v1h-17zM260 128h13v1h-13zM264 127h6v1h-6zM272 131h8v1h-8zM274 132h5v1h-5zM275 133h2v1h-2zM277 129h12v1h-12zM278 128h13v1h-13zM280 127h5v1h-5zM286 127h14v1h-14zM288 126h13v1h-13zM289 125h5v1h-5zM290 124h2v1h-2zM292 128h6v1h-6zM295 129h2v1h-2zM297 125h11v1h-11zM299 124h7v1h-7zM300 123h4v1h-4zM301 121h1v2h-1zM302 126h8v1h-8zM304 127h17v1h-17zM306 128h14v1h-14zM308 129h10v1h-10zM311 130h3v1h-3zM317 126h11v1h-11zM319 125h7v1h-7zM320 124h3v1h-3zM322 127h8v1h-8zM324 128h33v1h-33zM326 129h10v1h-10zM329 130h4v1h-4zM332 127h14v1h-14zM335 126h7v1h-7zM337 129h20v1h-20zM344 130h9v1h-9zM350 127h7v1h-7zM355 126h2v1h-2zM391 125h5v1h-5zM391 126h10v1h-10zM391 127h13v1h-13zM391 128h15v1h-15zM396 129h15v1h-15zM403 130h14v1h-14zM405 131h10v1h-10zM409 132h4v1h-4zM412 129h5v1h-5zM414 128h3v1h-3zM416 127h1v1h-1zM436 128h10v1h-10zM436 126h32v1h-32zM436 127h35v1h-35zM442 125h14v1h-14zM448 128h27v1h-27zM455 129h24v1h-24zM462 130h22v1h-22zM468 131h28v1h-28zM473 132h22v1h-22zM478 133h16v1h-16zM480 134h14v1h-14zM483 135h10v1h-10zM486 136h7v1h-7zM489 137h4v1h-4zM493 130h4v1h-4zM494 129h10v1h-10zM495 128h7v1h-7zM496 127h4v1h-4zM497 126h1v1h-1zM498 130h7v1h-7zM501 131h5v1h-5zM503 132h5v1h-5zM504 133h4v1h-4zM505 134h3v1h-3zM506 135h2v1h-2zM507 136h1v1h-1zM532 130h1v1h-1zM532 131h2v1h-2zM532 132h3v2h-3zM532 134h4v3h-4zM533 137h3v2h-3zM533 139h4v1h-4zM534 140h3v3h-3zM535 143h2v1h-2zM558 143h1v1h-1zM565 143h4v1h-4zM567 142h1v1h-1zM608 136h1v2h-1zM608 138h2v1h-2zM608 139h3v1h-3zM608 140h4v1h-4zM608 141h5v1h-5zM608 142h12v1h-12zM608 143h15v1h-15zM648 131h1v1h-1zM648 132h3v1h-3zM648 133h4v1h-4zM648 140h13v2h-13zM648 138h14v2h-14zM648 134h20v1h-20zM648 135h62v3h-62zM649 142h11v1h-11zM650 143h10v1h-10zM657 133h10v1h-10zM660 132h5v1h-5zM664 138h16v1h-16zM665 139h12v1h-12zM666 140h10v1h-10zM667 141h7v1h-7zM668 142h1v1h-1zM670 134h40v1h-40zM673 133h18v1h-18zM679 132h8v1h-8zM688 138h11v1h-11zM698 133h12v1h-12z"/>
<path fill="#4cb736" d="M126 143h3v1h-3zM126 142h4v1h-4zM126 137h14v5h-14zM127 136h13v1h-13zM128 135h12v1h-12zM129 134h5v1h-5zM130 133h2v1h-2zM133 142h7v1h-7zM136 143h4v1h-4zM164 134h1v1h-1zM164 131h6v1h-6zM164 133h24v1h-24zM164 132h30v1h-30zM167 134h20v1h-20zM169 135h17v1h-17zM170 136h8v1h-8zM175 137h1v1h-1zM176 131h17v1h-17zM187 130h5v1h-5zM189 129h2v1h-2zM191 133h4v1h-4zM192 134h4v1h-4zM192 135h18v1h-18zM193 137h13v1h-13zM193 136h17v1h-17zM194 139h9v1h-9zM194 138h10v1h-10zM195 141h6v1h-6zM195 140h7v1h-7zM196 142h2v1h-2zM198 134h11v1h-11zM202 133h6v1h-6zM205 132h2v1h-2zM207 137h3v1h-3zM208 138h2v1h-2zM209 139h1v1h-1zM255 143h1v1h-1zM255 142h2v1h-2zM255 140h3v2h-3zM255 139h4v1h-4zM255 138h5v1h-5zM256 137h6v1h-6zM256 136h8v1h-8zM257 135h31v1h-31zM257 134h32v1h-32zM258 133h17v1h-17zM259 132h15v1h-15zM262 131h10v1h-10zM271 136h16v1h-16zM272 137h12v1h-12zM273 138h8v1h-8zM274 140h5v1h-5zM274 139h6v1h-6zM275 141h3v1h-3zM276 142h1v1h-1zM277 133h13v1h-13zM279 132h12v1h-12zM280 131h19v1h-19zM288 130h13v1h-13zM289 129h6v1h-6zM291 128h1v1h-1zM292 132h6v1h-6zM295 133h2v1h-2zM297 129h11v1h-11zM298 128h8v1h-8zM300 127h4v1h-4zM301 126h1v1h-1zM302 130h9v1h-9zM304 131h16v1h-16zM306 132h13v1h-13zM309 133h8v1h-8zM310 134h4v1h-4zM314 130h15v1h-15zM318 129h8v1h-8zM320 128h4v1h-4zM321 127h1v1h-1zM323 131h34v1h-34zM324 132h33v1h-33zM326 134h8v1h-8zM326 133h9v1h-9zM328 135h4v1h-4zM333 130h11v1h-11zM336 129h1v1h-1zM338 133h17v1h-17zM340 134h13v1h-13zM341 135h1v1h-1zM353 130h4v1h-4zM391 129h5v1h-5zM391 130h12v1h-12zM391 131h14v1h-14zM391 132h18v1h-18zM395 133h22v1h-22zM403 134h14v1h-14zM405 135h12v1h-12zM407 136h9v1h-9zM409 137h6v1h-6zM410 138h3v1h-3zM413 132h4v1h-4zM415 131h2v1h-2zM436 132h7v1h-7zM436 129h19v1h-19zM436 130h26v1h-26zM436 131h32v1h-32zM446 128h2v1h-2zM450 132h23v1h-23zM452 133h26v1h-26zM454 134h26v1h-26zM457 135h26v1h-26zM458 136h28v1h-28zM460 137h29v1h-29zM461 138h35v1h-35zM462 139h33v1h-33zM463 140h32v1h-32zM464 141h10v1h-10zM466 142h4v1h-4zM479 141h16v1h-16zM481 142h13v1h-13zM484 143h10v1h-10zM493 136h3v2h-3zM493 135h4v1h-4zM494 133h10v1h-10zM494 134h11v1h-11zM495 132h8v1h-8zM496 131h5v1h-5zM497 130h1v1h-1zM499 135h7v1h-7zM500 136h7v1h-7zM502 137h6v1h-6zM503 138h5v1h-5zM504 139h4v1h-4zM505 140h3v1h-3zM506 141h2v1h-2zM507 142h1v1h-1zM532 137h1v3h-1zM532 140h2v3h-2zM532 143h3v1h-3zM648 142h1v1h-1zM648 143h2v1h-2zM660 142h8v1h-8zM660 143h40v1h-40zM661 140h5v1h-5zM661 141h6v1h-6zM662 138h2v1h-2zM662 139h3v1h-3zM669 142h33v1h-33zM674 141h36v1h-36zM676 140h34v1h-34zM677 139h33v1h-33zM680 138h8v1h-8zM699 138h11v1h-11zM707 142h3v1h-3z"/>
<path fill="#60c030" d="M129 143h7v1h-7zM130 142h3v1h-3zM164 139h1v2h-1zM164 135h5v1h-5zM164 136h6v1h-6zM164 137h11v1h-11zM164 138h30v1h-30zM165 134h2v1h-2zM166 139h28v1h-28zM168 140h21v1h-21zM169 141h19v1h-19zM170 142h16v1h-16zM172 143h8v1h-8zM176 137h17v1h-17zM178 136h15v1h-15zM186 135h6v1h-6zM187 134h5v1h-5zM188 133h3v1h-3zM191 140h4v1h-4zM192 141h3v1h-3zM192 142h4v1h-4zM192 143h18v1h-18zM198 142h12v1h-12zM201 141h9v1h-9zM202 140h8v1h-8zM203 139h6v1h-6zM204 138h4v1h-4zM206 137h1v1h-1zM256 143h14v1h-14zM257 142h19v1h-19zM258 140h16v1h-16zM258 141h17v1h-17zM259 139h15v1h-15zM260 138h13v1h-13zM262 137h10v1h-10zM264 136h7v1h-7zM271 143h17v1h-17zM277 142h12v1h-12zM278 141h12v1h-12zM279 140h12v1h-12zM280 139h18v1h-18zM281 138h17v1h-17zM284 137h15v1h-15zM287 136h13v1h-13zM288 135h13v1h-13zM289 134h21v1h-21zM290 133h5v1h-5zM291 132h1v1h-1zM292 140h5v1h-5zM297 133h12v1h-12zM298 132h8v1h-8zM299 131h5v1h-5zM301 130h1v1h-1zM302 135h26v1h-26zM303 136h18v1h-18zM304 137h16v1h-16zM305 138h14v1h-14zM306 139h11v1h-11zM309 140h6v1h-6zM314 134h12v1h-12zM317 133h9v1h-9zM319 132h5v1h-5zM320 131h3v1h-3zM322 136h35v1h-35zM323 137h34v2h-34zM324 140h11v1h-11zM324 139h33v1h-33zM325 142h7v1h-7zM325 141h9v1h-9zM326 143h3v1h-3zM332 135h9v1h-9zM334 134h6v1h-6zM335 133h3v1h-3zM337 140h19v1h-19zM338 141h8v1h-8zM339 142h5v1h-5zM340 143h3v1h-3zM342 135h15v1h-15zM351 141h1v1h-1zM353 134h4v1h-4zM355 133h2v1h-2zM391 133h4v1h-4zM391 134h12v1h-12zM391 135h14v1h-14zM391 136h16v1h-16zM391 137h18v1h-18zM391 138h19v1h-19zM391 139h26v1h-26zM393 140h8v1h-8zM394 141h5v1h-5zM396 142h2v1h-2zM403 140h14v1h-14zM406 141h11v1h-11zM408 142h9v1h-9zM409 143h7v1h-7zM413 138h4v1h-4zM415 137h2v1h-2zM416 136h1v1h-1zM436 133h16v1h-16zM436 134h18v1h-18zM436 135h21v1h-21zM436 136h22v1h-22zM436 137h24v1h-24zM439 138h6v1h-6zM441 139h2v1h-2zM443 132h7v1h-7zM448 138h13v1h-13zM449 139h13v1h-13zM450 140h13v1h-13zM451 141h13v1h-13zM452 142h14v1h-14zM452 143h32v1h-32zM470 142h11v1h-11zM474 141h5v1h-5zM494 142h3v2h-3zM495 139h9v1h-9zM495 140h10v1h-10zM495 141h11v1h-11zM496 136h4v1h-4zM496 137h6v1h-6zM496 138h7v1h-7zM497 135h2v1h-2zM499 142h8v1h-8zM502 143h6v1h-6zM700 143h10v1h-10zM702 142h5v1h-5z"/>
<path fill="#75c829" d="M164 141h5v1h-5zM164 142h6v1h-6zM164 143h8v1h-8zM165 139h1v1h-1zM165 140h3v1h-3zM180 143h12v1h-12zM186 142h6v1h-6zM188 141h4v1h-4zM189 140h2v1h-2zM270 143h1v1h-1zM288 143h12v1h-12zM289 142h12v1h-12zM290 141h35v1h-35zM291 140h1v1h-1zM297 140h12v1h-12zM298 138h7v1h-7zM298 139h8v1h-8zM299 137h5v1h-5zM300 136h3v1h-3zM301 135h1v1h-1zM302 142h23v1h-23zM303 143h18v1h-18zM315 140h9v1h-9zM317 139h7v1h-7zM319 138h4v1h-4zM320 137h3v1h-3zM321 136h1v1h-1zM322 143h4v1h-4zM329 143h11v1h-11zM332 142h7v1h-7zM334 141h4v1h-4zM335 140h2v1h-2zM343 143h14v1h-14zM344 142h13v1h-13zM346 141h5v1h-5zM352 141h5v1h-5zM356 140h1v1h-1zM391 140h2v1h-2zM391 141h3v1h-3zM391 142h5v1h-5zM391 143h18v1h-18zM398 142h10v1h-10zM399 141h7v1h-7zM401 140h2v1h-2zM416 143h1v1h-1zM436 138h3v1h-3zM436 139h5v1h-5zM436 140h14v1h-14zM436 141h15v1h-15zM436 142h16v2h-16zM443 139h6v1h-6zM445 138h3v1h-3zM497 142h2v1h-2zM497 143h5v1h-5zM784 183h14v3h-14zM784 182h15v1h-15zM785 186h13v16h-13zM786 203h11v2h-11zM786 202h12v1h-12zM787 205h9v2h-9zM788 208h6v1h-6zM788 207h7v1h-7zM806 182h19v3h-19zM807 192h9v2h-9zM807 190h10v2h-10zM807 189h11v1h-11zM807 188h12v1h-12zM807 185h18v3h-18zM808 199h6v3h-6zM808 195h7v4h-7zM808 194h8v1h-8zM809 202h3v1h-3zM820 188h5v2h-5zM821 190h4v1h-4zM822 191h3v4h-3zM823 195h2v6h-2zM824 201h1v1h-1zM876 182h8v13h-8zM877 196h6v3h-6zM877 195h7v1h-7zM878 202h4v1h-4zM878 199h5v3h-5zM879 203h1v1h-1zM885 184h31v1h-31zM885 182h32v2h-32zM886 188h23v1h-23zM886 185h30v3h-30zM887 192h18v1h-18zM887 191h19v1h-19zM887 190h20v1h-20zM887 189h21v1h-21zM888 193h16v4h-16zM889 197h14v3h-14zM890 200h13v2h-13zM892 202h10v1h-10zM895 203h7v1h-7zM896 204h5v1h-5zM898 205h2v1h-2zM899 206h1v1h-1zM910 188h6v1h-6zM911 189h5v1h-5zM912 190h3v1h-3zM913 191h2v1h-2zM914 192h1v2h-1zM933 182h1v20h-1z"/>
<path fill="#8ad023" d="M300 143h3v1h-3zM301 142h1v1h-1zM321 143h1v1h-1zM536 202h2v1h-2zM536 195h3v7h-3zM536 187h4v8h-4zM536 182h5v5h-5zM537 203h1v1h-1zM648 206h3v1h-3zM648 205h7v1h-7zM648 204h16v1h-16zM648 203h17v1h-17zM648 200h18v3h-18zM648 193h19v7h-19zM648 191h20v2h-20zM648 182h29v9h-29zM661 205h3v1h-3zM669 191h8v2h-8zM670 194h6v1h-6zM670 193h7v1h-7zM671 195h5v1h-5zM672 197h3v1h-3zM672 196h4v1h-4zM673 198h1v1h-1zM679 183h10v1h-10zM679 184h11v6h-11zM679 190h12v4h-12zM679 194h13v3h-13zM679 197h14v2h-14zM679 199h16v1h-16zM679 200h17v2h-17zM680 182h9v1h-9zM680 202h11v1h-11zM681 203h7v1h-7zM682 204h4v1h-4zM683 205h1v1h-1zM694 198h1v1h-1zM765 208h1v1h-1zM765 202h21v3h-21zM765 205h22v2h-22zM765 207h23v1h-23zM772 208h16v1h-16zM780 182h4v4h-4zM780 186h5v16h-5zM784 209h15v1h-15zM785 210h13v2h-13zM786 213h10v1h-10zM786 212h11v1h-11zM787 215h8v1h-8zM787 214h9v1h-9zM788 216h7v1h-7zM789 217h4v1h-4zM794 208h5v1h-5zM795 207h5v1h-5zM796 206h5v1h-5zM796 205h6v1h-6zM797 203h6v2h-6zM798 183h8v2h-8zM798 185h9v9h-9zM798 194h10v8h-10zM798 202h11v1h-11zM799 182h7v1h-7zM804 203h27v1h-27zM805 205h23v1h-23zM805 204h26v1h-26zM806 206h12v1h-12zM807 208h9v1h-9zM807 207h10v1h-10zM808 210h5v1h-5zM808 209h7v1h-7zM809 211h1v1h-1zM812 202h19v1h-19zM814 199h9v2h-9zM814 201h10v1h-10zM815 195h8v4h-8zM816 192h6v3h-6zM817 190h4v1h-4zM817 191h5v1h-5zM818 189h2v1h-2zM819 188h1v1h-1zM820 206h8v1h-8zM821 207h6v1h-6zM823 208h2v1h-2zM825 182h6v20h-6zM830 205h1v1h-1zM861 206h4v2h-4zM861 204h5v2h-5zM861 203h6v1h-6zM861 202h7v1h-7zM872 202h6v1h-6zM873 203h6v1h-6zM873 204h23v1h-23zM874 205h24v1h-24zM875 206h24v1h-24zM876 195h1v4h-1zM876 199h2v3h-2zM876 207h28v1h-28zM877 209h7v1h-7zM877 208h26v1h-26zM878 210h4v1h-4zM879 211h2v1h-2zM880 203h15v1h-15zM882 202h10v1h-10zM883 196h5v1h-5zM883 197h6v3h-6zM883 200h7v2h-7zM884 182h1v3h-1zM884 185h2v4h-2zM884 189h3v4h-3zM884 193h4v3h-4zM887 209h16v1h-16zM892 210h10v1h-10zM894 211h7v1h-7zM896 212h5v1h-5zM897 213h3v1h-3zM899 214h1v1h-1zM900 206h8v1h-8zM900 205h19v1h-19zM901 204h33v1h-33zM902 202h32v2h-32zM903 197h30v5h-30zM904 193h10v1h-10zM904 194h29v3h-29zM905 192h9v1h-9zM906 191h7v1h-7zM907 190h5v1h-5zM908 189h3v1h-3zM909 188h1v1h-1zM912 206h3v1h-3zM915 190h18v4h-18zM916 184h17v6h-17zM917 182h16v2h-16zM920 205h9v1h-9zM921 206h7v1h-7zM923 207h4v1h-4zM924 208h2v1h-2zM930 205h4v1h-4zM931 206h3v2h-3zM932 208h2v2h-2zM933 210h1v1h-1z"/>
<path fill="#9fd81d" d="M171 202h5v1h-5zM199 202h11v1h-11zM200 203h8v1h-8zM201 204h6v1h-6zM275 204h20v1h-20zM275 203h21v1h-21zM275 202h23v1h-23zM276 207h1v1h-1zM276 206h17v1h-17zM276 205h18v1h-18zM282 207h11v1h-11zM284 208h8v1h-8zM285 209h6v1h-6zM289 210h1v1h-1zM290 196h2v1h-2zM290 197h3v1h-3zM290 198h4v1h-4zM290 199h5v1h-5zM290 200h6v1h-6zM290 201h11v1h-11zM349 201h3v1h-3zM351 200h1v1h-1zM391 204h2v1h-2zM391 202h3v2h-3zM416 202h1v1h-1zM468 202h23v1h-23zM469 203h21v1h-21zM470 204h18v1h-18zM472 205h2v1h-2zM493 202h43v1h-43zM494 203h18v1h-18zM495 204h16v1h-16zM497 205h13v1h-13zM503 206h6v1h-6zM505 207h4v1h-4zM507 208h1v1h-1zM519 203h18v1h-18zM520 204h22v1h-22zM521 205h11v1h-11zM522 206h9v1h-9zM525 207h4v1h-4zM532 187h4v15h-4zM533 182h3v5h-3zM533 205h8v2h-8zM534 207h6v1h-6zM535 208h5v1h-5zM536 209h3v1h-3zM537 210h1v1h-1zM538 202h4v2h-4zM539 200h4v2h-4zM539 195h5v5h-5zM540 187h4v8h-4zM541 182h3v5h-3zM558 203h1v1h-1zM558 202h2v1h-2zM648 214h2v1h-2zM648 213h5v1h-5zM648 212h17v1h-17zM648 211h18v1h-18zM648 210h19v1h-19zM648 209h20v1h-20zM648 208h22v1h-22zM648 207h47v1h-47zM651 206h47v1h-47zM654 213h11v1h-11zM655 205h6v1h-6zM662 214h2v1h-2zM664 204h18v1h-18zM664 205h19v1h-19zM665 203h16v1h-16zM666 200h13v2h-13zM666 202h14v1h-14zM667 193h3v2h-3zM667 195h4v1h-4zM667 196h5v2h-5zM667 198h6v1h-6zM667 199h12v1h-12zM668 191h1v2h-1zM674 198h5v1h-5zM675 197h4v1h-4zM676 194h3v3h-3zM677 183h2v11h-2zM677 182h3v1h-3zM679 208h9v1h-9zM680 209h6v1h-6zM682 210h3v1h-3zM684 205h16v1h-16zM686 204h16v1h-16zM688 203h17v1h-17zM689 182h11v1h-11zM689 183h12v1h-12zM690 184h11v3h-11zM690 187h12v3h-12zM691 190h11v1h-11zM691 191h12v3h-12zM691 202h19v1h-19zM692 194h12v1h-12zM692 195h13v1h-13zM692 196h14v1h-14zM693 198h1v1h-1zM693 197h14v1h-14zM695 198h13v1h-13zM695 199h15v1h-15zM696 200h14v2h-14zM765 217h1v1h-1zM765 216h2v1h-2zM765 209h19v1h-19zM765 210h20v2h-20zM765 212h21v2h-21zM765 214h22v2h-22zM766 208h6v1h-6zM771 216h17v1h-17zM774 217h15v1h-15zM784 218h15v1h-15zM785 219h13v2h-13zM786 222h10v1h-10zM786 221h11v1h-11zM787 224h8v1h-8zM787 223h9v1h-9zM788 225h6v1h-6zM789 226h1v1h-1zM793 217h7v1h-7zM795 215h6v2h-6zM796 214h6v1h-6zM796 213h7v1h-7zM797 212h34v1h-34zM798 210h10v1h-10zM798 211h11v1h-11zM799 208h8v1h-8zM799 209h9v1h-9zM800 207h7v1h-7zM801 206h5v1h-5zM802 205h3v1h-3zM803 203h1v1h-1zM803 204h2v1h-2zM805 214h13v1h-13zM805 213h26v1h-26zM806 215h11v1h-11zM807 217h8v1h-8zM807 216h9v1h-9zM808 218h6v1h-6zM809 219h3v1h-3zM810 211h21v1h-21zM813 210h18v1h-18zM815 209h16v1h-16zM816 208h7v1h-7zM817 207h4v1h-4zM818 206h2v1h-2zM820 214h8v1h-8zM822 215h5v1h-5zM823 216h2v1h-2zM825 208h6v1h-6zM827 207h4v1h-4zM828 205h2v1h-2zM828 206h3v1h-3zM861 215h4v1h-4zM861 213h5v2h-5zM861 212h6v1h-6zM861 210h7v2h-7zM861 209h8v1h-8zM861 208h16v1h-16zM865 206h10v1h-10zM865 207h11v1h-11zM866 204h7v1h-7zM866 205h8v1h-8zM867 203h6v1h-6zM868 202h4v1h-4zM870 209h7v1h-7zM871 210h7v1h-7zM872 211h7v1h-7zM873 212h23v1h-23zM874 213h23v1h-23zM875 214h24v1h-24zM876 215h27v2h-27zM877 217h25v1h-25zM878 219h4v1h-4zM878 218h5v1h-5zM879 220h1v1h-1zM881 211h13v1h-13zM882 210h10v1h-10zM884 209h3v1h-3zM891 218h11v1h-11zM894 219h7v1h-7zM895 220h6v1h-6zM897 221h3v1h-3zM898 222h2v1h-2zM900 213h4v2h-4zM901 212h13v1h-13zM901 211h33v1h-33zM902 210h31v1h-31zM903 208h21v1h-21zM903 209h29v1h-29zM904 207h19v1h-19zM905 213h6v1h-6zM908 206h4v1h-4zM915 206h6v1h-6zM919 205h1v1h-1zM920 212h14v1h-14zM921 213h13v1h-13zM922 214h12v2h-12zM923 216h6v1h-6zM924 218h1v1h-1zM924 217h3v1h-3zM926 208h6v1h-6zM927 207h4v1h-4zM928 206h3v1h-3zM929 205h1v1h-1zM930 216h4v1h-4zM931 217h3v1h-3zM932 218h2v1h-2zM933 219h1v1h-1z"/>
<path fill="#b3e117" d="M164 208h1v1h-1zM164 202h7v1h-7zM164 207h14v1h-14zM164 206h15v1h-15zM164 204h16v2h-16zM164 203h21v1h-21zM172 208h4v1h-4zM176 202h23v1h-23zM184 199h11v3h-11zM186 198h9v1h-9zM186 203h14v1h-14zM187 196h8v2h-8zM187 204h14v1h-14zM188 195h7v1h-7zM188 205h22v1h-22zM189 206h5v1h-5zM189 192h6v3h-6zM190 207h2v1h-2zM190 190h5v2h-5zM191 188h4v2h-4zM192 187h3v1h-3zM193 185h2v2h-2zM194 182h1v3h-1zM196 206h14v1h-14zM197 207h13v1h-13zM198 208h12v1h-12zM199 209h11v1h-11zM200 210h10v1h-10zM202 211h7v1h-7zM203 212h5v1h-5zM204 213h3v1h-3zM207 204h3v1h-3zM208 203h2v1h-2zM265 215h2v5h-2zM265 211h3v4h-3zM265 208h4v3h-4zM265 205h5v3h-5zM265 202h10v3h-10zM272 205h4v3h-4zM272 208h12v1h-12zM273 209h12v1h-12zM273 210h16v1h-16zM273 211h22v1h-22zM274 214h19v1h-19zM274 212h20v2h-20zM275 217h16v1h-16zM275 216h17v1h-17zM275 215h18v1h-18zM276 219h14v1h-14zM276 218h15v1h-15zM277 207h5v1h-5zM290 189h1v1h-1zM290 190h2v1h-2zM290 191h3v1h-3zM290 192h4v1h-4zM290 193h6v1h-6zM290 210h6v1h-6zM290 194h8v1h-8zM290 195h12v1h-12zM291 209h6v1h-6zM292 208h7v1h-7zM292 196h12v1h-12zM293 207h9v1h-9zM293 206h10v1h-10zM293 197h12v1h-12zM294 205h10v1h-10zM294 198h12v1h-12zM295 204h10v1h-10zM295 199h22v1h-22zM296 203h20v1h-20zM296 200h23v1h-23zM298 202h21v1h-21zM301 201h19v1h-19zM307 198h9v1h-9zM308 204h6v1h-6zM308 197h7v1h-7zM309 205h4v1h-4zM309 196h5v1h-5zM310 195h2v1h-2zM332 201h17v1h-17zM333 200h18v1h-18zM333 202h24v1h-24zM334 199h23v1h-23zM334 203h23v1h-23zM335 198h22v1h-22zM336 204h20v1h-20zM336 197h21v1h-21zM337 196h19v1h-19zM338 205h16v1h-16zM338 195h17v1h-17zM339 194h16v1h-16zM340 193h14v1h-14zM341 206h2v1h-2zM341 192h13v1h-13zM348 191h5v1h-5zM348 206h5v1h-5zM349 190h3v1h-3zM351 189h1v1h-1zM352 200h5v2h-5zM391 210h2v1h-2zM391 209h3v1h-3zM391 208h4v1h-4zM391 207h5v1h-5zM391 206h6v1h-6zM391 205h10v1h-10zM393 204h11v1h-11zM394 203h12v1h-12zM394 202h22v1h-22zM408 203h9v1h-9zM411 204h6v1h-6zM413 205h4v1h-4zM414 206h3v1h-3zM415 207h2v1h-2zM416 208h1v1h-1zM436 202h32v1h-32zM437 203h32v1h-32zM441 204h20v1h-20zM449 205h9v1h-9zM463 204h7v1h-7zM464 205h8v1h-8zM465 206h38v1h-38zM467 207h38v1h-38zM468 208h39v1h-39zM470 209h47v1h-47zM471 210h4v1h-4zM474 205h23v1h-23zM484 210h6v1h-6zM488 204h7v1h-7zM490 203h4v1h-4zM491 202h2v1h-2zM494 210h19v1h-19zM495 211h16v1h-16zM497 212h13v1h-13zM503 213h6v1h-6zM505 214h4v1h-4zM508 208h27v1h-27zM509 206h13v1h-13zM509 207h16v1h-16zM510 205h11v1h-11zM511 204h9v1h-9zM512 203h7v1h-7zM518 209h18v1h-18zM519 210h18v1h-18zM520 211h23v1h-23zM521 212h21v1h-21zM523 213h18v1h-18zM528 214h13v1h-13zM529 207h5v1h-5zM531 206h2v1h-2zM532 182h1v5h-1zM532 205h1v1h-1zM533 215h7v1h-7zM534 216h6v1h-6zM535 217h4v1h-4zM537 218h1v1h-1zM538 210h5v1h-5zM539 209h5v1h-5zM540 207h4v2h-4zM541 205h3v2h-3zM542 202h2v3h-2zM543 200h1v2h-1zM558 210h1v1h-1zM558 209h2v1h-2zM558 208h3v1h-3zM558 207h4v1h-4zM558 206h20v1h-20zM558 205h23v1h-23zM558 204h26v1h-26zM559 203h30v1h-30zM560 202h29v1h-29zM568 182h16v20h-16zM648 222h1v1h-1zM648 221h4v1h-4zM648 220h19v1h-19zM648 219h20v1h-20zM648 218h21v1h-21zM648 217h22v1h-22zM648 216h23v1h-23zM648 215h24v1h-24zM650 214h12v1h-12zM653 213h1v1h-1zM655 221h11v1h-11zM658 222h7v1h-7zM662 223h2v1h-2zM664 214h23v1h-23zM665 213h25v1h-25zM665 212h31v1h-31zM666 211h32v1h-32zM667 210h15v1h-15zM668 209h12v1h-12zM670 208h9v1h-9zM675 215h10v1h-10zM682 216h2v1h-2zM685 210h16v1h-16zM686 209h17v1h-17zM688 208h19v1h-19zM695 207h15v1h-15zM698 206h12v1h-12zM700 182h8v1h-8zM700 205h10v1h-10zM701 183h7v1h-7zM701 184h8v1h-8zM701 185h9v2h-9zM702 187h8v4h-8zM702 204h8v1h-8zM703 191h7v3h-7zM704 194h6v1h-6zM705 195h5v1h-5zM705 203h5v1h-5zM706 196h4v1h-4zM707 197h3v1h-3zM708 198h2v1h-2zM765 226h1v1h-1zM765 225h2v1h-2zM765 224h3v1h-3zM765 218h19v1h-19zM765 219h20v2h-20zM765 221h21v2h-21zM765 223h22v1h-22zM766 217h8v1h-8zM767 216h4v1h-4zM771 224h16v1h-16zM773 225h15v1h-15zM777 226h12v1h-12zM785 227h14v1h-14zM786 228h11v1h-11zM787 229h8v1h-8zM789 230h2v1h-2zM790 226h10v1h-10zM794 225h7v1h-7zM795 224h7v1h-7zM796 223h6v1h-6zM796 222h7v1h-7zM797 221h34v1h-34zM798 219h11v1h-11zM798 220h33v1h-33zM799 218h9v1h-9zM800 217h7v1h-7zM801 215h5v1h-5zM801 216h6v1h-6zM802 214h3v1h-3zM803 213h2v1h-2zM805 223h12v1h-12zM805 222h13v1h-13zM806 224h11v1h-11zM807 225h9v1h-9zM808 226h6v1h-6zM809 227h1v1h-1zM812 219h19v1h-19zM814 218h17v1h-17zM815 217h16v1h-16zM816 216h7v1h-7zM817 215h5v1h-5zM818 214h2v1h-2zM820 222h11v1h-11zM822 223h5v1h-5zM825 216h6v1h-6zM827 215h4v1h-4zM828 214h3v1h-3zM861 222h5v1h-5zM861 221h6v1h-6zM861 220h7v1h-7zM861 219h8v1h-8zM861 216h15v1h-15zM861 217h16v1h-16zM861 218h17v1h-17zM862 223h3v1h-3zM865 215h11v1h-11zM866 213h8v1h-8zM866 214h9v1h-9zM867 212h6v1h-6zM868 210h3v1h-3zM868 211h4v1h-4zM869 209h1v1h-1zM870 219h8v1h-8zM871 220h8v1h-8zM873 221h24v1h-24zM875 222h23v1h-23zM875 223h28v1h-28zM876 224h26v1h-26zM877 226h7v1h-7zM877 225h25v1h-25zM878 227h4v1h-4zM879 228h1v1h-1zM880 220h15v1h-15zM882 219h12v1h-12zM883 218h8v1h-8zM891 226h11v1h-11zM894 227h7v1h-7zM897 228h3v1h-3zM900 222h3v1h-3zM900 221h4v1h-4zM901 220h3v1h-3zM901 219h11v1h-11zM902 218h11v1h-11zM902 217h22v1h-22zM903 215h19v1h-19zM903 216h20v1h-20zM904 213h1v1h-1zM904 214h18v1h-18zM905 220h6v1h-6zM908 221h2v1h-2zM911 213h10v1h-10zM914 212h6v1h-6zM917 218h7v1h-7zM920 219h13v1h-13zM920 220h14v1h-14zM921 221h13v1h-13zM922 222h12v2h-12zM923 224h11v2h-11zM924 226h10v1h-10zM925 218h7v1h-7zM927 217h4v1h-4zM929 216h1v1h-1zM933 227h1v1h-1z"/>
<path fill="#c8e910" d="M133 195h7v11h-7zM134 206h6v1h-6zM136 193h4v2h-4zM136 207h4v2h-4zM137 191h3v2h-3zM137 209h3v2h-3zM138 189h2v2h-2zM138 211h2v2h-2zM139 188h1v1h-1zM139 213h1v1h-1zM164 216h1v1h-1zM164 215h3v1h-3zM164 214h6v1h-6zM164 213h15v1h-15zM164 212h16v1h-16zM164 209h35v1h-35zM164 210h36v1h-36zM164 211h38v1h-38zM165 208h7v1h-7zM173 214h4v1h-4zM176 208h22v1h-22zM178 207h12v1h-12zM179 206h10v1h-10zM180 204h7v1h-7zM180 205h8v1h-8zM181 212h22v1h-22zM183 213h21v1h-21zM184 198h2v1h-2zM184 196h3v2h-3zM184 195h4v1h-4zM184 192h5v3h-5zM184 190h6v2h-6zM184 188h7v2h-7zM184 187h8v1h-8zM184 185h9v2h-9zM184 182h10v3h-10zM185 203h1v1h-1zM185 214h25v1h-25zM186 215h24v1h-24zM188 216h6v1h-6zM189 217h4v1h-4zM190 218h1v1h-1zM192 207h5v1h-5zM194 206h2v1h-2zM197 216h13v1h-13zM200 217h10v1h-10zM202 218h8v1h-8zM203 220h6v1h-6zM203 219h7v1h-7zM204 221h4v1h-4zM205 223h1v1h-1zM205 222h2v1h-2zM207 213h3v1h-3zM208 212h2v1h-2zM209 211h1v1h-1zM265 229h2v2h-2zM265 228h3v1h-3zM265 224h4v4h-4zM265 220h5v4h-5zM267 219h4v1h-4zM267 215h8v3h-8zM267 218h9v1h-9zM268 211h5v1h-5zM268 212h6v3h-6zM269 208h3v1h-3zM269 209h4v2h-4zM270 205h2v3h-2zM272 219h4v1h-4zM272 221h21v2h-21zM272 220h22v1h-22zM273 223h19v3h-19zM274 226h17v1h-17zM275 228h10v1h-10zM275 227h15v1h-15zM290 183h1v1h-1zM290 184h2v1h-2zM290 185h4v1h-4zM290 186h5v1h-5zM290 219h5v1h-5zM290 187h6v1h-6zM290 188h9v1h-9zM291 218h4v1h-4zM291 217h5v1h-5zM291 189h27v1h-27zM292 216h5v1h-5zM292 190h27v1h-27zM293 215h5v1h-5zM293 214h6v1h-6zM293 191h28v1h-28zM294 213h7v1h-7zM294 212h9v1h-9zM294 192h47v1h-47zM295 211h9v1h-9zM296 210h9v1h-9zM296 193h44v1h-44zM297 209h18v1h-18zM298 194h41v1h-41zM299 208h17v1h-17zM302 195h8v1h-8zM302 207h25v1h-25zM303 206h38v1h-38zM304 196h5v1h-5zM304 205h5v1h-5zM305 197h3v1h-3zM305 204h3v1h-3zM306 198h1v1h-1zM308 188h8v1h-8zM309 210h4v1h-4zM311 187h1v1h-1zM311 211h1v1h-1zM312 195h26v1h-26zM313 205h25v1h-25zM314 204h22v1h-22zM314 196h23v1h-23zM315 197h21v1h-21zM316 203h18v1h-18zM316 198h19v1h-19zM317 199h17v1h-17zM319 200h14v1h-14zM319 202h14v1h-14zM320 201h12v1h-12zM332 191h16v1h-16zM332 207h25v1h-25zM333 190h16v1h-16zM333 208h24v1h-24zM335 189h16v1h-16zM335 209h21v1h-21zM336 188h21v1h-21zM337 187h20v1h-20zM338 186h19v1h-19zM339 210h15v1h-15zM339 185h17v1h-17zM340 184h16v1h-16zM341 182h13v1h-13zM341 183h14v1h-14zM343 206h5v1h-5zM349 211h4v1h-4zM352 189h5v2h-5zM353 191h4v1h-4zM353 206h4v1h-4zM354 192h3v2h-3zM354 205h3v1h-3zM355 194h2v2h-2zM356 196h1v1h-1zM356 204h1v1h-1zM391 216h2v1h-2zM391 215h3v1h-3zM391 214h5v1h-5zM391 213h6v1h-6zM391 212h10v1h-10zM391 211h12v1h-12zM393 210h12v1h-12zM394 209h12v1h-12zM395 208h21v1h-21zM396 207h19v1h-19zM397 206h17v1h-17zM401 205h12v1h-12zM404 204h7v1h-7zM406 203h2v1h-2zM408 209h9v1h-9zM412 210h5v1h-5zM413 211h4v1h-4zM414 212h3v1h-3zM416 213h1v1h-1zM436 203h1v1h-1zM436 204h5v1h-5zM436 205h13v1h-13zM436 206h29v1h-29zM436 207h31v1h-31zM436 208h32v1h-32zM436 209h34v1h-34zM441 210h30v1h-30zM449 211h10v1h-10zM458 205h6v1h-6zM461 204h2v1h-2zM464 211h31v1h-31zM466 212h31v1h-31zM468 213h35v1h-35zM469 214h36v1h-36zM471 215h4v1h-4zM475 210h9v1h-9zM481 215h52v1h-52zM485 216h32v1h-32zM487 217h26v1h-26zM490 210h4v1h-4zM494 218h18v1h-18zM496 219h15v1h-15zM503 220h7v1h-7zM505 221h4v1h-4zM509 213h14v1h-14zM509 214h19v1h-19zM510 212h11v1h-11zM511 211h9v1h-9zM513 210h6v1h-6zM517 209h1v1h-1zM518 216h16v1h-16zM519 217h16v1h-16zM520 218h17v1h-17zM522 219h22v1h-22zM527 220h16v1h-16zM529 221h13v1h-13zM530 222h11v1h-11zM531 223h10v1h-10zM532 224h8v1h-8zM533 225h6v1h-6zM538 218h6v1h-6zM539 217h5v1h-5zM540 215h4v2h-4zM541 213h3v2h-3zM542 212h2v1h-2zM543 210h1v2h-1zM558 217h1v1h-1zM558 216h2v1h-2zM558 215h3v1h-3zM558 214h4v1h-4zM558 213h19v1h-19zM558 212h23v1h-23zM558 211h29v1h-29zM559 210h30v1h-30zM560 209h29v1h-29zM561 208h28v1h-28zM562 207h27v1h-27zM568 214h5v1h-5zM578 206h11v1h-11zM581 205h8v1h-8zM584 204h5v1h-5zM648 229h1v1h-1zM648 228h4v1h-4zM648 223h14v1h-14zM648 227h20v1h-20zM648 225h22v2h-22zM648 224h23v1h-23zM649 222h9v1h-9zM652 221h3v1h-3zM654 228h13v1h-13zM657 229h8v1h-8zM664 223h8v1h-8zM665 222h8v1h-8zM666 221h18v1h-18zM667 220h19v1h-19zM668 219h20v1h-20zM669 218h24v1h-24zM670 217h26v1h-26zM671 216h11v1h-11zM672 215h3v1h-3zM675 222h6v1h-6zM684 216h15v1h-15zM685 215h16v1h-16zM687 214h17v1h-17zM690 213h19v1h-19zM696 212h14v1h-14zM698 211h12v1h-12zM701 210h9v1h-9zM703 209h7v1h-7zM707 208h3v1h-3zM708 182h2v2h-2zM709 184h1v1h-1zM765 230h1v1h-1zM765 229h3v1h-3zM765 227h20v1h-20zM765 228h21v1h-21zM766 226h11v1h-11zM767 225h6v1h-6zM768 224h3v1h-3zM772 229h15v1h-15zM777 230h12v1h-12zM784 231h16v1h-16zM786 232h12v1h-12zM787 233h9v1h-9zM789 234h5v1h-5zM791 230h11v1h-11zM795 229h8v1h-8zM797 228h34v1h-34zM799 227h10v1h-10zM800 226h8v1h-8zM801 225h6v1h-6zM802 223h3v1h-3zM802 224h4v1h-4zM803 222h2v1h-2zM805 229h13v1h-13zM806 230h10v1h-10zM808 231h7v1h-7zM810 227h21v1h-21zM814 226h17v1h-17zM816 225h15v1h-15zM817 223h5v1h-5zM817 224h14v1h-14zM818 222h2v1h-2zM827 223h4v1h-4zM861 223h1v1h-1zM861 229h5v1h-5zM861 228h7v1h-7zM861 224h15v1h-15zM861 225h16v2h-16zM861 227h17v1h-17zM863 230h2v1h-2zM865 223h10v1h-10zM866 222h9v1h-9zM867 221h6v1h-6zM868 220h3v1h-3zM869 219h1v1h-1zM871 228h8v1h-8zM875 229h28v1h-28zM876 230h26v1h-26zM877 232h6v1h-6zM877 231h7v1h-7zM878 233h3v1h-3zM880 228h17v1h-17zM882 227h12v1h-12zM884 226h7v1h-7zM890 231h11v1h-11zM894 232h7v1h-7zM898 233h2v1h-2zM900 228h3v1h-3zM901 227h3v1h-3zM902 226h10v1h-10zM902 224h11v2h-11zM903 223h11v1h-11zM903 222h19v1h-19zM904 220h1v1h-1zM904 221h4v1h-4zM906 227h5v1h-5zM908 228h2v1h-2zM910 221h11v1h-11zM911 220h9v1h-9zM912 219h8v1h-8zM913 218h4v1h-4zM915 223h7v1h-7zM917 224h6v1h-6zM919 225h4v1h-4zM920 226h4v1h-4zM921 227h12v1h-12zM922 228h12v2h-12zM923 230h11v1h-11zM924 231h10v1h-10z"/>
<path fill="#ddf10a" d="M133 206h1v1h-1zM133 193h3v2h-3zM133 207h3v2h-3zM133 191h4v2h-4zM133 209h4v2h-4zM133 189h5v2h-5zM133 211h5v2h-5zM133 188h6v1h-6zM133 213h6v1h-6zM133 182h7v6h-7zM133 214h7v7h-7zM134 221h6v2h-6zM135 223h5v1h-5zM136 224h4v1h-4zM137 225h3v2h-3zM139 227h1v1h-1zM164 224h1v1h-1zM164 223h2v1h-2zM164 222h3v1h-3zM164 221h4v1h-4zM164 220h6v1h-6zM164 217h25v1h-25zM164 218h26v1h-26zM164 219h39v1h-39zM165 216h23v1h-23zM167 215h19v1h-19zM170 214h3v1h-3zM175 220h28v1h-28zM177 214h8v1h-8zM179 213h4v1h-4zM180 212h1v1h-1zM182 221h22v1h-22zM183 222h22v2h-22zM184 224h15v1h-15zM185 225h10v1h-10zM186 226h8v1h-8zM189 227h3v1h-3zM191 218h11v1h-11zM193 217h7v1h-7zM194 216h3v1h-3zM201 224h9v1h-9zM202 225h8v2h-8zM204 227h5v1h-5zM205 228h3v1h-3zM206 223h4v1h-4zM207 222h3v1h-3zM208 221h2v1h-2zM209 220h1v1h-1zM265 237h2v1h-2zM265 235h3v2h-3zM265 233h4v2h-4zM265 232h5v1h-5zM265 231h6v1h-6zM267 230h25v1h-25zM267 229h26v1h-26zM268 228h7v1h-7zM269 224h4v2h-4zM269 226h5v1h-5zM269 227h6v1h-6zM270 220h2v3h-2zM270 223h3v1h-3zM271 219h1v1h-1zM272 231h19v1h-19zM273 232h17v1h-17zM274 233h10v1h-10zM275 234h4v1h-4zM285 228h8v1h-8zM290 227h4v1h-4zM290 182h51v1h-51zM291 226h4v1h-4zM291 183h50v1h-50zM292 225h3v1h-3zM292 223h4v2h-4zM292 184h48v1h-48zM293 222h4v1h-4zM293 221h5v1h-5zM294 220h5v1h-5zM294 185h45v1h-45zM295 219h5v1h-5zM295 218h7v1h-7zM295 186h43v1h-43zM296 217h8v1h-8zM296 187h15v1h-15zM297 216h8v1h-8zM298 215h8v1h-8zM299 188h9v1h-9zM299 214h16v1h-16zM301 213h29v1h-29zM303 212h54v1h-54zM304 211h7v1h-7zM305 210h4v1h-4zM307 215h6v1h-6zM310 216h2v1h-2zM312 187h25v1h-25zM312 211h37v1h-37zM313 210h26v1h-26zM315 209h20v1h-20zM316 208h17v1h-17zM316 188h20v1h-20zM318 189h17v1h-17zM319 190h14v1h-14zM321 191h11v1h-11zM326 214h1v1h-1zM327 207h5v1h-5zM332 213h25v1h-25zM335 214h21v1h-21zM339 215h15v1h-15zM349 216h4v1h-4zM353 211h4v1h-4zM354 182h3v1h-3zM354 210h3v1h-3zM355 183h2v1h-2zM356 184h1v2h-1zM356 209h1v1h-1zM391 222h2v1h-2zM391 221h4v1h-4zM391 220h6v1h-6zM391 219h10v1h-10zM391 218h12v1h-12zM391 217h13v1h-13zM393 216h12v1h-12zM394 215h23v1h-23zM396 214h21v1h-21zM397 213h19v1h-19zM401 212h13v1h-13zM403 211h10v1h-10zM405 210h7v1h-7zM406 209h2v1h-2zM413 216h4v1h-4zM414 217h3v1h-3zM415 218h2v1h-2zM416 219h1v1h-1zM436 210h5v1h-5zM436 211h13v1h-13zM436 212h30v1h-30zM436 213h32v1h-32zM436 214h33v1h-33zM436 215h35v1h-35zM444 216h41v1h-41zM450 217h11v1h-11zM459 211h5v1h-5zM463 217h24v1h-24zM466 218h28v1h-28zM469 219h8v1h-8zM470 220h5v1h-5zM472 221h1v1h-1zM475 215h6v1h-6zM478 219h18v1h-18zM480 220h23v1h-23zM483 221h22v1h-22zM485 222h45v1h-45zM486 223h30v1h-30zM489 224h25v1h-25zM492 225h20v1h-20zM496 226h15v1h-15zM504 227h5v1h-5zM509 221h20v1h-20zM510 220h17v1h-17zM511 219h11v1h-11zM512 218h8v1h-8zM513 217h6v1h-6zM517 216h1v1h-1zM518 223h13v1h-13zM519 224h13v1h-13zM521 225h12v1h-12zM522 226h22v1h-22zM529 227h15v1h-15zM530 228h12v1h-12zM531 229h10v1h-10zM532 230h7v1h-7zM539 225h5v1h-5zM540 224h4v1h-4zM541 222h3v2h-3zM542 221h2v1h-2zM543 220h1v1h-1zM558 224h1v2h-1zM558 223h2v1h-2zM558 222h3v1h-3zM558 221h4v1h-4zM558 220h19v1h-19zM558 219h23v1h-23zM558 218h31v1h-31zM559 217h30v1h-30zM560 216h29v1h-29zM561 215h28v1h-28zM562 214h6v1h-6zM567 221h8v1h-8zM572 222h1v1h-1zM573 214h16v1h-16zM577 213h12v1h-12zM581 212h8v1h-8zM587 211h2v1h-2zM648 235h2v1h-2zM648 234h18v1h-18zM648 233h19v1h-19zM648 232h21v1h-21zM648 231h22v1h-22zM648 230h24v1h-24zM649 229h8v1h-8zM652 228h2v1h-2zM655 235h9v1h-9zM665 229h8v1h-8zM667 228h14v1h-14zM668 227h16v1h-16zM670 226h15v1h-15zM670 225h16v1h-16zM671 224h17v1h-17zM672 223h23v1h-23zM673 222h2v1h-2zM675 229h4v1h-4zM681 222h16v1h-16zM684 221h15v1h-15zM686 220h16v1h-16zM688 219h18v1h-18zM693 218h17v1h-17zM696 217h14v1h-14zM699 216h11v1h-11zM701 215h9v1h-9zM704 214h6v1h-6zM709 213h1v1h-1zM765 234h1v1h-1zM765 233h3v1h-3zM765 231h19v1h-19zM765 232h21v1h-21zM766 230h11v1h-11zM768 229h4v1h-4zM772 233h15v1h-15zM777 234h12v1h-12zM783 235h19v1h-19zM785 236h14v1h-14zM787 237h10v1h-10zM789 238h6v1h-6zM794 234h24v1h-24zM796 233h28v1h-28zM798 232h33v1h-33zM800 231h8v1h-8zM802 230h4v1h-4zM803 229h2v1h-2zM806 235h11v1h-11zM807 236h8v1h-8zM815 231h16v1h-16zM816 230h15v1h-15zM818 229h13v1h-13zM861 230h2v1h-2zM861 235h6v1h-6zM861 234h7v1h-7zM861 231h16v2h-16zM861 233h17v1h-17zM863 236h2v1h-2zM865 230h11v1h-11zM866 229h9v1h-9zM868 228h3v1h-3zM870 234h33v1h-33zM875 235h27v1h-27zM876 236h9v1h-9zM877 237h6v1h-6zM878 238h4v1h-4zM879 239h1v1h-1zM881 233h17v1h-17zM883 232h11v1h-11zM884 231h6v1h-6zM886 236h15v1h-15zM893 237h7v1h-7zM900 233h3v1h-3zM901 232h3v1h-3zM901 231h11v1h-11zM902 230h11v1h-11zM903 228h5v1h-5zM903 229h11v1h-11zM904 227h2v1h-2zM906 232h5v1h-5zM908 233h2v1h-2zM910 228h12v1h-12zM911 227h10v1h-10zM912 226h8v1h-8zM913 224h4v1h-4zM913 225h6v1h-6zM914 223h1v1h-1zM916 229h6v1h-6zM918 230h5v1h-5zM920 231h4v1h-4zM921 232h13v1h-13zM922 233h12v1h-12zM923 234h11v2h-11zM924 236h10v1h-10z"/>
<path fill="#f2fa04" d="M133 221h1v2h-1zM133 223h2v1h-2zM133 224h3v1h-3zM133 225h4v2h-4zM133 227h6v1h-6zM133 228h7v2h-7zM135 230h5v1h-5zM137 231h3v1h-3zM138 232h2v1h-2zM164 230h2v1h-2zM164 229h3v1h-3zM164 228h4v1h-4zM164 227h5v1h-5zM164 226h6v1h-6zM164 225h21v1h-21zM165 224h19v1h-19zM166 223h17v1h-17zM167 222h16v1h-16zM168 221h14v1h-14zM170 220h5v1h-5zM176 226h10v1h-10zM178 227h11v1h-11zM180 228h25v1h-25zM182 229h17v1h-17zM183 230h13v1h-13zM184 231h10v1h-10zM187 232h5v1h-5zM192 227h12v1h-12zM194 226h8v1h-8zM195 225h7v1h-7zM199 224h2v1h-2zM201 229h9v1h-9zM202 230h8v1h-8zM203 231h7v1h-7zM204 232h4v1h-4zM205 233h1v1h-1zM208 228h2v1h-2zM209 227h1v1h-1zM265 244h2v1h-2zM265 243h3v1h-3zM265 242h4v1h-4zM265 240h5v2h-5zM265 239h6v1h-6zM265 238h19v1h-19zM267 237h24v1h-24zM268 236h23v1h-23zM268 235h24v1h-24zM269 233h5v1h-5zM269 234h6v1h-6zM270 232h3v1h-3zM271 231h1v1h-1zM272 239h8v1h-8zM275 240h2v1h-2zM279 234h14v1h-14zM284 233h10v1h-10zM290 232h5v1h-5zM291 231h4v1h-4zM292 230h4v1h-4zM293 228h4v2h-4zM294 227h4v1h-4zM295 226h4v1h-4zM295 225h5v1h-5zM296 224h6v1h-6zM296 223h7v1h-7zM297 222h8v1h-8zM298 221h8v1h-8zM299 220h15v1h-15zM300 219h15v1h-15zM302 218h55v1h-55zM304 217h53v1h-53zM305 216h5v1h-5zM306 215h1v1h-1zM308 221h4v1h-4zM312 216h37v1h-37zM313 215h26v1h-26zM315 214h11v1h-11zM319 219h12v1h-12zM322 220h7v1h-7zM326 221h1v1h-1zM327 214h8v1h-8zM330 213h2v1h-2zM333 219h24v1h-24zM339 220h16v1h-16zM350 221h3v1h-3zM353 216h4v1h-4zM354 215h3v1h-3zM356 214h1v1h-1zM391 228h2v1h-2zM391 227h5v1h-5zM391 226h10v1h-10zM391 225h12v1h-12zM391 224h13v1h-13zM391 223h14v1h-14zM393 222h13v1h-13zM395 221h14v1h-14zM397 220h20v1h-20zM401 219h15v1h-15zM403 218h12v1h-12zM404 217h10v1h-10zM405 216h8v1h-8zM412 221h5v1h-5zM413 222h4v1h-4zM414 223h3v1h-3zM415 224h2v1h-2zM416 225h1v1h-1zM436 222h3v1h-3zM436 216h8v1h-8zM436 217h14v1h-14zM436 218h30v1h-30zM436 219h33v1h-33zM436 220h34v1h-34zM436 221h36v1h-36zM446 222h39v1h-39zM450 223h36v1h-36zM455 224h4v1h-4zM461 217h2v1h-2zM468 224h9v1h-9zM470 225h5v1h-5zM471 226h2v1h-2zM473 221h10v1h-10zM475 220h5v1h-5zM477 219h1v1h-1zM478 224h11v1h-11zM480 225h12v1h-12zM482 226h14v1h-14zM484 227h20v1h-20zM485 228h45v1h-45zM487 229h29v1h-29zM489 230h24v1h-24zM491 231h20v1h-20zM504 232h5v1h-5zM509 227h20v1h-20zM511 226h11v1h-11zM512 225h9v1h-9zM514 224h5v1h-5zM516 223h2v1h-2zM518 229h13v1h-13zM520 230h12v1h-12zM521 231h23v1h-23zM529 232h15v1h-15zM530 233h12v1h-12zM531 234h9v1h-9zM532 235h5v1h-5zM539 230h5v1h-5zM541 229h3v1h-3zM542 228h2v1h-2zM558 230h1v1h-1zM558 229h3v1h-3zM558 228h4v1h-4zM558 227h18v1h-18zM558 226h24v1h-24zM559 224h30v2h-30zM560 223h29v1h-29zM561 222h11v1h-11zM562 221h5v1h-5zM568 228h6v1h-6zM573 222h16v1h-16zM575 221h14v1h-14zM577 220h12v1h-12zM581 219h8v1h-8zM584 226h5v1h-5zM648 241h15v1h-15zM648 240h17v1h-17zM648 239h18v1h-18zM648 238h20v1h-20zM648 237h22v1h-22zM648 236h24v1h-24zM650 235h5v1h-5zM664 235h15v1h-15zM666 234h16v1h-16zM667 233h17v1h-17zM669 232h17v1h-17zM670 231h17v1h-17zM672 230h18v1h-18zM673 229h2v1h-2zM679 229h15v1h-15zM681 228h15v1h-15zM684 227h14v1h-14zM685 226h15v1h-15zM686 225h17v1h-17zM688 224h19v1h-19zM695 223h15v1h-15zM697 222h13v1h-13zM699 221h11v1h-11zM702 220h8v1h-8zM706 219h4v1h-4zM765 238h1v1h-1zM765 237h3v1h-3zM765 235h18v1h-18zM765 236h20v1h-20zM766 234h11v1h-11zM768 233h4v1h-4zM772 237h15v1h-15zM777 238h12v1h-12zM782 239h37v1h-37zM785 240h17v1h-17zM787 241h11v1h-11zM789 242h7v1h-7zM793 243h1v1h-1zM795 238h26v1h-26zM797 237h29v1h-29zM799 236h8v1h-8zM802 235h4v1h-4zM805 240h12v1h-12zM807 241h8v1h-8zM815 236h16v1h-16zM817 235h14v1h-14zM818 234h13v1h-13zM824 233h7v1h-7zM861 236h2v1h-2zM861 241h6v1h-6zM861 240h8v1h-8zM861 237h16v1h-16zM861 238h17v1h-17zM861 239h18v1h-18zM863 242h2v1h-2zM865 236h11v1h-11zM867 235h8v1h-8zM868 234h2v1h-2zM870 240h32v1h-32zM872 241h1v1h-1zM875 241h26v1h-26zM876 242h8v1h-8zM877 243h5v1h-5zM878 244h3v1h-3zM879 245h1v1h-1zM880 239h23v1h-23zM882 238h21v1h-21zM883 237h10v1h-10zM885 236h1v1h-1zM891 242h9v1h-9zM900 237h4v1h-4zM901 236h11v1h-11zM902 235h11v1h-11zM903 233h5v1h-5zM903 234h11v1h-11zM904 232h2v1h-2zM905 237h6v1h-6zM908 238h2v1h-2zM910 233h12v1h-12zM911 232h10v1h-10zM912 231h8v1h-8zM913 230h5v1h-5zM914 229h2v1h-2zM917 234h6v1h-6zM919 235h4v1h-4zM920 236h4v1h-4zM921 237h13v1h-13zM922 238h12v1h-12zM923 239h11v1h-11zM924 241h6v1h-6zM924 240h10v1h-10z"/>
<path fill="#fff600" d="M133 230h2v1h-2zM133 231h4v1h-4zM133 232h5v1h-5zM133 233h7v2h-7zM134 235h6v1h-6zM136 236h4v1h-4zM138 237h2v1h-2zM139 238h1v1h-1zM164 237h1v1h-1zM164 236h2v1h-2zM164 235h3v1h-3zM164 234h5v1h-5zM164 233h6v1h-6zM164 231h20v1h-20zM164 232h23v1h-23zM166 230h17v1h-17zM167 229h15v1h-15zM168 228h12v1h-12zM169 227h9v1h-9zM170 226h6v1h-6zM176 233h24v1h-24zM178 234h19v1h-19zM181 235h14v1h-14zM182 236h12v1h-12zM184 237h9v1h-9zM190 238h1v1h-1zM192 232h12v1h-12zM194 231h9v1h-9zM196 230h6v1h-6zM199 229h2v1h-2zM201 233h4v1h-4zM202 234h8v1h-8zM203 235h7v1h-7zM204 236h5v1h-5zM205 237h2v1h-2zM206 233h4v1h-4zM208 232h2v1h-2zM265 252h2v2h-2zM265 251h3v1h-3zM265 250h4v1h-4zM265 249h5v1h-5zM265 248h6v1h-6zM265 247h8v1h-8zM265 246h11v1h-11zM265 245h13v1h-13zM267 244h14v1h-14zM268 243h15v1h-15zM269 242h22v1h-22zM270 240h5v1h-5zM270 241h22v1h-22zM271 239h1v1h-1zM277 240h16v1h-16zM280 239h14v1h-14zM284 238h11v1h-11zM291 237h4v1h-4zM291 236h5v1h-5zM292 235h5v1h-5zM293 234h5v1h-5zM294 233h4v1h-4zM295 232h4v1h-4zM295 231h5v1h-5zM296 230h6v1h-6zM297 229h7v1h-7zM297 228h8v1h-8zM298 227h8v1h-8zM299 226h13v1h-13zM300 225h14v1h-14zM302 224h13v1h-13zM303 223h54v1h-54zM305 222h52v1h-52zM306 221h2v1h-2zM312 221h14v1h-14zM314 220h8v1h-8zM315 219h4v1h-4zM318 224h39v1h-39zM320 225h11v1h-11zM321 226h8v1h-8zM324 227h4v1h-4zM327 221h23v1h-23zM329 220h10v1h-10zM331 219h2v1h-2zM340 225h4v1h-4zM347 225h8v1h-8zM350 226h3v1h-3zM353 221h4v1h-4zM355 220h2v1h-2zM391 232h8v1h-8zM391 231h11v1h-11zM391 230h13v1h-13zM391 229h14v1h-14zM392 233h1v1h-1zM393 228h13v1h-13zM396 227h13v1h-13zM401 226h16v1h-16zM403 225h13v1h-13zM404 224h11v1h-11zM405 223h9v1h-9zM406 222h7v1h-7zM409 221h3v1h-3zM413 227h4v1h-4zM414 228h3v2h-3zM415 230h2v1h-2zM416 231h1v1h-1zM436 223h14v1h-14zM436 224h19v1h-19zM436 225h34v1h-34zM436 226h35v1h-35zM436 227h48v1h-48zM439 222h7v1h-7zM451 228h34v1h-34zM457 229h1v1h-1zM459 224h9v1h-9zM469 229h8v1h-8zM471 230h4v1h-4zM473 226h9v1h-9zM475 225h5v1h-5zM477 224h1v1h-1zM478 229h9v1h-9zM479 230h10v1h-10zM481 231h10v1h-10zM483 232h21v1h-21zM485 233h45v1h-45zM486 234h31v1h-31zM487 235h27v1h-27zM489 236h22v1h-22zM491 237h7v1h-7zM505 237h4v1h-4zM509 232h20v1h-20zM511 231h10v1h-10zM513 230h7v1h-7zM516 229h2v1h-2zM518 234h13v1h-13zM519 235h13v1h-13zM520 236h24v1h-24zM522 237h3v1h-3zM529 237h15v1h-15zM530 238h12v1h-12zM531 239h9v1h-9zM532 240h3v1h-3zM537 235h7v1h-7zM540 234h4v1h-4zM542 233h2v1h-2zM558 235h2v1h-2zM558 234h4v1h-4zM558 233h17v1h-17zM558 232h19v1h-19zM558 231h31v1h-31zM559 230h30v1h-30zM561 229h28v1h-28zM562 228h6v1h-6zM567 234h7v1h-7zM574 228h15v1h-15zM576 227h13v1h-13zM582 226h2v1h-2zM586 232h3v1h-3zM648 247h14v1h-14zM648 246h16v1h-16zM648 245h18v1h-18zM648 244h19v1h-19zM648 243h20v1h-20zM648 242h25v1h-25zM652 248h6v1h-6zM663 241h17v1h-17zM665 240h17v1h-17zM666 239h18v1h-18zM668 238h19v1h-19zM670 237h20v1h-20zM672 236h21v1h-21zM674 242h3v1h-3zM679 235h16v1h-16zM682 234h15v1h-15zM684 233h15v1h-15zM686 232h15v1h-15zM687 231h17v1h-17zM690 230h16v1h-16zM694 229h15v1h-15zM696 228h14v1h-14zM698 227h12v1h-12zM700 226h10v1h-10zM703 225h7v1h-7zM707 224h3v1h-3zM765 242h2v1h-2zM765 241h3v1h-3zM765 239h17v1h-17zM765 240h20v1h-20zM766 238h11v1h-11zM768 237h4v1h-4zM772 241h15v1h-15zM777 242h12v1h-12zM781 243h12v1h-12zM784 244h35v1h-35zM787 245h30v1h-30zM789 246h8v1h-8zM792 247h3v1h-3zM794 243h27v1h-27zM796 242h27v1h-27zM798 241h9v1h-9zM802 240h3v1h-3zM807 246h8v1h-8zM815 241h11v1h-11zM817 240h14v1h-14zM819 239h12v1h-12zM821 238h10v1h-10zM826 237h5v1h-5zM861 242h2v1h-2zM861 247h6v1h-6zM861 246h8v1h-8zM861 243h16v1h-16zM861 244h17v1h-17zM861 245h18v1h-18zM863 248h2v1h-2zM865 242h11v1h-11zM867 241h5v1h-5zM868 275h14v1h-14zM869 240h1v1h-1zM869 276h12v1h-12zM869 273h13v2h-13zM870 280h9v1h-9zM870 278h10v2h-10zM870 266h11v2h-11zM870 277h11v1h-11zM870 268h12v5h-12zM870 246h31v1h-31zM871 247h3v1h-3zM871 283h5v1h-5zM871 282h6v1h-6zM871 281h7v1h-7zM871 262h10v4h-10zM872 260h1v1h-1zM872 261h2v1h-2zM872 284h3v2h-3zM873 241h2v1h-2zM875 260h6v2h-6zM875 247h9v1h-9zM876 258h5v2h-5zM876 248h7v1h-7zM877 255h4v3h-4zM877 249h5v1h-5zM878 251h2v1h-2zM878 250h3v1h-3zM878 252h3v3h-3zM880 245h22v1h-22zM881 244h22v1h-22zM882 243h21v1h-21zM884 242h7v1h-7zM889 247h10v1h-10zM900 242h4v1h-4zM901 241h11v1h-11zM902 240h11v1h-11zM903 238h5v1h-5zM903 239h11v1h-11zM904 237h1v1h-1zM905 242h6v1h-6zM907 243h3v1h-3zM909 244h1v1h-1zM910 238h12v1h-12zM911 237h10v1h-10zM912 236h8v1h-8zM913 235h6v1h-6zM914 234h3v1h-3zM917 239h6v1h-6zM919 240h5v1h-5zM920 241h4v1h-4zM921 242h13v1h-13zM922 243h12v1h-12zM923 244h11v1h-11zM924 245h10v1h-10zM930 241h4v1h-4z"/>
<path fill="#ffdd00" d="M133 235h1v1h-1zM133 236h3v1h-3zM133 237h5v1h-5zM133 238h6v1h-6zM133 239h7v1h-7zM134 240h6v1h-6zM136 241h4v1h-4zM137 242h3v1h-3zM138 243h2v1h-2zM139 244h1v1h-1zM164 243h1v1h-1zM164 242h2v1h-2zM164 241h4v1h-4zM164 240h6v1h-6zM164 238h26v1h-26zM164 239h33v1h-33zM165 237h19v1h-19zM166 236h16v1h-16zM167 235h14v1h-14zM169 234h9v1h-9zM170 233h6v1h-6zM177 240h18v1h-18zM178 241h16v1h-16zM181 242h12v1h-12zM184 243h8v1h-8zM191 238h7v1h-7zM193 237h7v1h-7zM194 236h10v1h-10zM195 235h8v1h-8zM197 234h5v1h-5zM200 233h1v1h-1zM201 237h4v1h-4zM202 238h8v1h-8zM203 239h7v1h-7zM204 240h5v1h-5zM205 241h2v1h-2zM207 237h3v1h-3zM209 236h1v1h-1zM265 271h9v1h-9zM265 267h10v4h-10zM265 262h11v5h-11zM265 255h12v7h-12zM265 254h13v1h-13zM267 272h7v1h-7zM267 252h11v2h-11zM268 273h6v1h-6zM268 251h10v1h-10zM269 275h4v1h-4zM269 274h5v1h-5zM269 250h10v1h-10zM270 249h11v1h-11zM271 276h1v1h-1zM271 248h12v1h-12zM273 247h18v1h-18zM276 246h16v1h-16zM278 245h15v1h-15zM281 244h13v1h-13zM283 243h12v1h-12zM291 242h5v1h-5zM292 241h5v1h-5zM293 240h5v1h-5zM294 239h4v1h-4zM295 238h4v1h-4zM295 237h5v1h-5zM296 236h6v1h-6zM297 235h7v1h-7zM298 234h8v1h-8zM298 233h10v1h-10zM299 232h12v1h-12zM300 231h13v1h-13zM302 230h13v1h-13zM304 229h12v1h-12zM305 228h52v1h-52zM306 227h18v1h-18zM312 226h9v1h-9zM314 225h6v1h-6zM315 224h3v1h-3zM317 229h40v1h-40zM319 230h38v1h-38zM322 231h11v1h-11zM323 232h7v1h-7zM325 233h4v1h-4zM326 234h1v1h-1zM328 227h29v1h-29zM329 226h21v1h-21zM331 225h9v1h-9zM344 225h3v1h-3zM348 231h6v1h-6zM353 226h4v1h-4zM355 225h2v1h-2zM391 233h1v1h-1zM391 237h11v1h-11zM391 236h13v1h-13zM391 235h14v1h-14zM391 234h16v1h-16zM393 238h6v1h-6zM393 233h16v1h-16zM399 232h18v1h-18zM402 231h14v1h-14zM404 230h11v1h-11zM405 229h9v1h-9zM406 228h8v1h-8zM409 227h4v1h-4zM413 233h4v1h-4zM414 234h3v1h-3zM415 235h2v1h-2zM416 236h1v1h-1zM436 232h2v1h-2zM436 228h15v1h-15zM436 229h21v1h-21zM436 230h35v1h-35zM436 231h45v1h-45zM451 232h32v1h-32zM456 233h7v1h-7zM458 229h11v1h-11zM468 233h17v1h-17zM470 234h16v1h-16zM472 235h2v1h-2zM475 230h4v1h-4zM477 229h1v1h-1zM478 235h9v1h-9zM480 236h9v1h-9zM483 237h8v1h-8zM484 238h46v1h-46zM485 239h46v1h-46zM487 240h28v1h-28zM488 241h24v1h-24zM490 242h9v1h-9zM491 243h5v1h-5zM498 237h7v1h-7zM505 242h5v1h-5zM509 237h13v1h-13zM511 236h9v1h-9zM514 235h5v1h-5zM517 234h1v1h-1zM519 240h13v1h-13zM520 241h24v1h-24zM521 242h5v1h-5zM522 243h1v1h-1zM525 237h4v1h-4zM528 242h16v1h-16zM530 243h13v1h-13zM531 244h7v1h-7zM532 245h2v1h-2zM535 240h9v1h-9zM540 239h4v1h-4zM542 238h2v1h-2zM558 240h16v1h-16zM558 239h17v1h-17zM558 238h18v1h-18zM558 237h20v1h-20zM558 236h31v1h-31zM560 235h29v1h-29zM562 234h5v1h-5zM574 234h15v1h-15zM575 233h14v1h-14zM577 232h9v1h-9zM580 237h9v1h-9zM587 238h2v1h-2zM648 267h3v1h-3zM648 248h4v1h-4zM648 265h6v2h-6zM648 264h7v1h-7zM648 263h8v1h-8zM648 262h9v1h-9zM648 261h10v1h-10zM648 260h15v1h-15zM648 256h16v4h-16zM648 251h17v5h-17zM648 250h18v1h-18zM648 249h19v1h-19zM658 248h20v1h-20zM662 247h18v1h-18zM664 246h18v1h-18zM666 245h20v1h-20zM667 244h23v1h-23zM668 243h24v1h-24zM673 242h1v1h-1zM677 242h17v1h-17zM680 241h16v1h-16zM682 240h16v1h-16zM684 239h16v1h-16zM687 238h16v1h-16zM690 237h14v1h-14zM693 236h13v1h-13zM695 235h12v1h-12zM697 234h12v1h-12zM699 233h11v1h-11zM701 232h9v1h-9zM704 231h6v1h-6zM706 230h4v1h-4zM709 229h1v1h-1zM765 246h2v1h-2zM765 245h3v1h-3zM765 243h16v1h-16zM765 244h19v1h-19zM767 242h10v1h-10zM768 241h4v1h-4zM772 245h15v1h-15zM777 246h12v1h-12zM781 247h11v1h-11zM784 248h37v1h-37zM786 249h33v1h-33zM789 250h10v1h-10zM791 252h6v2h-6zM791 251h7v1h-7zM792 255h4v2h-4zM792 254h5v1h-5zM793 258h2v2h-2zM793 257h3v1h-3zM795 247h27v1h-27zM797 246h10v1h-10zM800 250h18v1h-18zM803 272h3v4h-3zM803 269h4v3h-4zM803 267h5v2h-5zM803 265h6v2h-6zM803 263h7v2h-7zM803 262h8v1h-8zM803 260h9v2h-9zM803 258h10v2h-10zM803 256h11v2h-11zM803 254h12v2h-12zM803 252h13v2h-13zM803 251h14v1h-14zM815 246h8v1h-8zM817 245h10v1h-10zM819 244h11v1h-11zM821 243h10v1h-10zM823 242h8v1h-8zM826 241h5v1h-5zM861 248h2v1h-2zM861 275h7v1h-7zM861 273h8v2h-8zM861 276h8v1h-8zM861 266h9v7h-9zM861 277h9v4h-9zM861 262h10v4h-10zM861 281h10v3h-10zM861 260h11v2h-11zM861 258h15v2h-15zM861 249h16v1h-16zM861 255h16v3h-16zM861 250h17v5h-17zM862 284h10v2h-10zM863 286h19v1h-19zM864 287h17v2h-17zM865 248h11v1h-11zM865 289h15v1h-15zM866 290h14v1h-14zM867 247h4v1h-4zM867 291h12v1h-12zM868 292h10v1h-10zM869 246h1v1h-1zM869 293h8v1h-8zM870 295h6v2h-6zM870 294h7v1h-7zM871 297h4v1h-4zM872 298h3v1h-3zM873 260h2v1h-2zM874 247h1v1h-1zM874 261h1v1h-1zM875 284h8v2h-8zM876 283h8v1h-8zM877 282h7v1h-7zM878 281h6v1h-6zM879 280h22v1h-22zM880 251h21v1h-21zM880 278h21v2h-21zM881 250h20v1h-20zM881 252h20v16h-20zM881 276h20v2h-20zM882 268h19v3h-19zM882 249h20v1h-20zM882 271h20v5h-20zM883 248h20v1h-20zM884 247h5v1h-5zM885 281h16v1h-16zM887 282h14v1h-14zM888 283h13v1h-13zM890 284h11v1h-11zM891 285h9v1h-9zM892 286h8v1h-8zM893 287h7v2h-7zM894 289h6v3h-6zM897 292h3v1h-3zM898 293h2v1h-2zM899 294h1v1h-1zM899 247h5v1h-5zM901 246h11v1h-11zM902 245h11v1h-11zM903 243h4v1h-4zM903 244h6v1h-6zM904 242h1v1h-1zM905 247h6v1h-6zM907 248h4v1h-4zM909 249h1v1h-1zM910 243h4v2h-4zM911 242h10v1h-10zM912 241h8v1h-8zM913 240h6v1h-6zM914 239h3v1h-3zM915 243h7v1h-7zM917 244h6v1h-6zM919 245h5v1h-5zM920 246h14v1h-14zM921 247h13v1h-13zM922 248h12v1h-12zM923 281h3v4h-3zM923 269h4v12h-4zM923 261h5v8h-5zM923 249h11v1h-11zM924 288h1v6h-1zM924 285h2v3h-2zM924 257h4v4h-4zM924 254h5v3h-5zM924 252h6v2h-6zM924 251h7v1h-7zM924 250h8v1h-8z"/>
<path fill="#ffc500" d="M133 240h1v1h-1zM133 241h3v1h-3zM133 242h4v1h-4zM133 243h5v1h-5zM133 244h6v1h-6zM133 245h7v1h-7zM136 246h4v1h-4zM137 247h3v1h-3zM138 248h2v1h-2zM139 249h1v1h-1zM164 249h1v2h-1zM164 254h1v11h-1zM164 279h1v3h-1zM164 265h2v2h-2zM164 278h2v1h-2zM164 248h3v1h-3zM164 267h4v1h-4zM164 247h6v1h-6zM164 268h6v1h-6zM164 269h7v1h-7zM164 270h8v1h-8zM164 277h8v1h-8zM164 271h9v2h-9zM164 273h10v1h-10zM164 276h10v1h-10zM164 274h11v2h-11zM164 246h30v1h-30zM164 245h31v1h-31zM164 244h32v1h-32zM165 243h19v1h-19zM166 242h15v1h-15zM168 241h10v1h-10zM170 240h7v1h-7zM177 247h16v1h-16zM178 248h14v1h-14zM182 249h6v1h-6zM190 249h1v1h-1zM192 243h5v1h-5zM193 242h6v1h-6zM194 241h6v1h-6zM195 240h9v1h-9zM197 239h6v1h-6zM198 238h4v1h-4zM200 237h1v1h-1zM201 241h4v1h-4zM202 242h8v1h-8zM203 243h7v1h-7zM204 244h6v1h-6zM205 245h3v1h-3zM207 241h3v1h-3zM209 240h1v1h-1zM265 272h2v1h-2zM265 273h3v1h-3zM265 274h4v2h-4zM265 276h6v1h-6zM265 280h16v2h-16zM265 279h17v1h-17zM265 278h18v1h-18zM265 277h19v1h-19zM268 282h12v1h-12zM269 283h11v1h-11zM270 284h9v1h-9zM272 285h5v1h-5zM272 276h13v1h-13zM273 275h13v1h-13zM274 272h12v3h-12zM274 271h13v1h-13zM275 268h12v3h-12zM275 267h13v1h-13zM276 266h12v1h-12zM276 265h13v1h-13zM276 262h14v3h-14zM277 261h13v1h-13zM277 257h14v4h-14zM277 255h15v2h-15zM278 254h14v1h-14zM278 251h15v3h-15zM279 250h15v1h-15zM281 249h14v1h-14zM283 248h13v1h-13zM291 247h6v1h-6zM292 246h6v1h-6zM293 245h6v1h-6zM294 244h5v1h-5zM295 243h5v1h-5zM296 242h7v1h-7zM297 241h8v1h-8zM298 240h9v1h-9zM298 239h10v1h-10zM299 238h11v1h-11zM300 237h12v1h-12zM302 236h12v1h-12zM304 235h12v1h-12zM306 234h20v1h-20zM308 233h17v1h-17zM311 232h12v1h-12zM313 231h9v1h-9zM315 230h4v1h-4zM316 229h1v1h-1zM318 235h39v1h-39zM322 236h35v1h-35zM323 237h12v1h-12zM324 238h7v1h-7zM325 239h5v1h-5zM326 240h2v1h-2zM327 234h30v1h-30zM329 233h28v1h-28zM330 232h27v1h-27zM333 231h15v1h-15zM354 231h3v1h-3zM391 238h2v1h-2zM391 242h12v1h-12zM391 241h14v1h-14zM391 240h16v1h-16zM391 239h18v1h-18zM393 243h8v1h-8zM395 244h3v1h-3zM399 238h12v1h-12zM402 237h15v1h-15zM404 236h12v1h-12zM405 235h10v1h-10zM407 234h7v1h-7zM409 233h4v1h-4zM412 238h5v1h-5zM413 239h4v1h-4zM415 240h2v1h-2zM416 241h1v1h-1zM436 236h3v1h-3zM436 233h20v1h-20zM436 234h34v1h-34zM436 235h36v1h-36zM438 232h13v1h-13zM451 236h29v1h-29zM455 237h11v1h-11zM463 233h5v1h-5zM468 237h15v1h-15zM470 238h14v1h-14zM471 239h14v1h-14zM474 235h4v1h-4zM478 240h9v1h-9zM479 241h9v1h-9zM482 242h8v1h-8zM484 243h7v1h-7zM485 299h12v1h-12zM485 244h46v1h-46zM486 297h10v1h-10zM486 298h11v1h-11zM486 245h30v1h-30zM487 292h9v5h-9zM487 246h15v1h-15zM488 282h6v2h-6zM488 284h7v7h-7zM488 291h8v1h-8zM488 300h8v1h-8zM489 276h5v6h-5zM489 301h6v1h-6zM489 247h11v1h-11zM490 271h3v3h-3zM490 274h4v2h-4zM490 248h8v1h-8zM491 265h2v6h-2zM491 302h2v1h-2zM491 249h4v1h-4zM492 259h1v6h-1zM496 243h26v1h-26zM499 242h6v1h-6zM503 246h10v1h-10zM504 299h15v1h-15zM505 300h13v1h-13zM505 297h14v2h-14zM506 247h4v1h-4zM506 295h12v2h-12zM507 292h11v3h-11zM508 290h9v2h-9zM508 301h10v1h-10zM509 288h6v1h-6zM509 289h7v1h-7zM510 287h4v1h-4zM510 302h5v1h-5zM510 242h11v1h-11zM511 286h2v1h-2zM512 303h1v1h-1zM512 241h8v1h-8zM515 240h4v1h-4zM518 245h14v1h-14zM519 246h25v1h-25zM520 247h6v1h-6zM521 248h3v1h-3zM522 249h1v1h-1zM523 243h7v1h-7zM526 242h2v1h-2zM528 247h16v1h-16zM530 248h13v1h-13zM531 268h2v10h-2zM531 249h5v1h-5zM532 251h1v17h-1zM532 278h1v5h-1zM532 250h2v1h-2zM534 245h10v1h-10zM538 244h6v1h-6zM542 298h1v3h-1zM543 243h1v1h-1zM558 245h16v1h-16zM558 244h18v1h-18zM558 243h19v1h-19zM558 241h31v2h-31zM559 246h14v1h-14zM574 240h15v1h-15zM575 239h14v1h-14zM576 238h11v1h-11zM578 237h2v1h-2zM583 243h6v1h-6zM587 244h2v1h-2zM648 283h6v1h-6zM648 282h7v1h-7zM648 280h8v2h-8zM648 278h9v2h-9zM648 276h38v2h-38zM648 268h39v8h-39zM651 284h3v1h-3zM651 267h36v1h-36zM654 265h34v2h-34zM655 264h33v1h-33zM656 263h32v1h-32zM657 262h32v1h-32zM658 261h31v1h-31zM659 279h26v1h-26zM659 278h27v1h-27zM660 282h24v1h-24zM660 280h25v2h-25zM661 286h12v1h-12zM661 285h17v1h-17zM661 283h23v2h-23zM662 290h8v5h-8zM662 288h9v2h-9zM662 287h10v1h-10zM663 297h6v4h-6zM663 295h7v2h-7zM663 260h26v1h-26zM664 258h25v2h-25zM664 256h26v2h-26zM665 252h25v4h-25zM665 251h26v1h-26zM666 250h25v1h-25zM667 249h26v1h-26zM678 248h17v1h-17zM680 247h17v1h-17zM681 285h2v1h-2zM682 246h17v1h-17zM686 245h16v1h-16zM690 244h14v1h-14zM692 243h13v1h-13zM694 242h12v1h-12zM696 241h11v1h-11zM698 240h10v1h-10zM700 239h10v1h-10zM703 238h7v1h-7zM704 237h6v1h-6zM706 236h4v1h-4zM707 235h3v1h-3zM709 234h1v1h-1zM765 251h1v4h-1zM765 281h1v1h-1zM765 250h2v1h-2zM765 255h2v9h-2zM765 279h2v2h-2zM765 264h3v5h-3zM765 278h3v1h-3zM765 249h4v1h-4zM765 269h4v5h-4zM765 276h4v2h-4zM765 274h5v2h-5zM765 247h16v1h-16zM765 248h19v1h-19zM767 246h10v1h-10zM768 245h4v1h-4zM772 249h14v1h-14zM777 250h12v1h-12zM779 251h12v2h-12zM780 253h11v1h-11zM780 254h12v3h-12zM781 257h12v3h-12zM781 260h22v4h-22zM782 277h6v1h-6zM782 276h7v1h-7zM782 264h21v12h-21zM783 283h2v3h-2zM783 280h3v3h-3zM783 278h4v2h-4zM790 276h24v2h-24zM791 278h23v1h-23zM792 280h5v1h-5zM792 279h6v1h-6zM793 282h2v2h-2zM793 281h3v1h-3zM795 258h8v2h-8zM796 255h7v3h-7zM797 252h6v3h-6zM798 251h5v1h-5zM799 250h1v1h-1zM799 279h14v1h-14zM800 280h13v1h-13zM801 282h11v1h-11zM801 281h12v1h-12zM802 283h10v2h-10zM803 285h8v1h-8zM804 286h7v1h-7zM805 287h5v1h-5zM806 274h9v2h-9zM806 272h10v2h-10zM807 270h10v2h-10zM807 269h11v1h-11zM808 288h1v1h-1zM808 268h10v1h-10zM808 267h11v1h-11zM809 265h10v2h-10zM810 264h9v1h-9zM810 263h10v1h-10zM811 262h9v1h-9zM812 260h8v2h-8zM813 258h8v2h-8zM814 256h7v2h-7zM815 254h7v2h-7zM816 253h6v1h-6zM816 252h7v1h-7zM817 251h6v1h-6zM818 250h6v1h-6zM819 249h9v1h-9zM821 248h9v1h-9zM822 247h9v1h-9zM823 246h8v1h-8zM827 245h4v1h-4zM830 244h1v1h-1zM861 284h1v2h-1zM861 286h2v1h-2zM861 287h3v2h-3zM861 289h4v1h-4zM861 290h5v1h-5zM861 291h6v1h-6zM861 292h7v1h-7zM861 293h8v1h-8zM861 294h9v3h-9zM861 297h10v1h-10zM861 298h11v1h-11zM861 299h20v1h-20zM862 300h17v1h-17zM865 301h13v1h-13zM867 302h10v1h-10zM870 303h6v1h-6zM872 304h1v1h-1zM875 298h6v1h-6zM875 297h7v1h-7zM876 296h7v1h-7zM876 295h8v1h-8zM877 294h7v1h-7zM877 293h8v1h-8zM878 292h19v1h-19zM879 291h15v1h-15zM880 289h14v2h-14zM881 287h12v2h-12zM882 286h10v1h-10zM883 284h7v1h-7zM883 285h8v1h-8zM884 281h1v1h-1zM884 282h3v1h-3zM884 283h4v1h-4zM890 293h8v1h-8zM890 294h9v1h-9zM891 295h12v2h-12zM892 299h10v1h-10zM892 297h11v2h-11zM893 300h9v1h-9zM894 301h7v1h-7zM895 302h6v1h-6zM898 303h2v1h-2zM900 290h3v5h-3zM900 285h4v5h-4zM901 283h3v2h-3zM901 250h12v9h-12zM901 259h13v4h-13zM901 263h22v8h-22zM901 276h22v7h-22zM902 249h7v1h-7zM902 271h21v5h-21zM903 248h4v1h-4zM904 247h1v1h-1zM907 283h16v1h-16zM910 249h4v1h-4zM910 284h13v1h-13zM911 248h3v1h-3zM911 286h8v1h-8zM911 247h10v1h-10zM911 285h13v1h-13zM912 289h6v1h-6zM912 287h7v2h-7zM912 246h8v1h-8zM913 293h4v1h-4zM913 290h5v3h-5zM913 245h6v1h-6zM914 243h1v1h-1zM914 299h1v1h-1zM914 296h2v3h-2zM914 244h3v1h-3zM914 294h3v2h-3zM915 248h7v1h-7zM917 249h6v1h-6zM917 262h6v1h-6zM918 261h5v1h-5zM919 260h5v1h-5zM920 250h4v10h-4zM920 286h4v8h-4zM920 294h8v2h-8zM921 300h6v1h-6zM921 296h7v4h-7zM922 301h5v1h-5zM923 302h3v1h-3zM924 303h1v1h-1zM925 288h4v6h-4zM926 285h4v3h-4zM926 283h5v2h-5zM926 281h6v2h-6zM927 279h6v2h-6zM927 269h7v10h-7zM928 257h6v12h-6zM929 254h5v3h-5zM930 252h4v2h-4zM931 251h3v1h-3zM932 250h2v1h-2z"/>
<path fill="#ffac00" d="M133 246h3v1h-3zM133 247h4v1h-4zM133 248h5v1h-5zM133 249h6v1h-6zM133 250h7v2h-7zM134 252h6v4h-6zM135 256h5v6h-5zM136 262h4v14h-4zM137 276h3v5h-3zM138 281h2v3h-2zM139 284h1v2h-1zM164 295h1v4h-1zM164 294h2v1h-2zM164 293h5v1h-5zM164 291h12v2h-12zM164 290h13v1h-13zM164 288h14v2h-14zM164 287h15v1h-15zM164 285h16v2h-16zM164 284h17v1h-17zM164 283h18v1h-18zM164 282h19v1h-19zM164 251h30v3h-30zM165 249h17v1h-17zM165 281h19v1h-19zM165 280h20v1h-20zM165 279h21v1h-21zM165 264h28v1h-28zM165 254h29v10h-29zM165 250h30v1h-30zM166 278h22v1h-22zM166 265h27v2h-27zM167 248h11v1h-11zM168 267h25v1h-25zM170 247h7v1h-7zM170 268h23v1h-23zM171 269h22v1h-22zM172 277h17v1h-17zM172 270h21v1h-21zM173 272h19v1h-19zM173 271h20v1h-20zM174 273h18v1h-18zM174 276h18v1h-18zM175 274h17v2h-17zM188 249h2v1h-2zM190 277h1v1h-1zM191 249h5v1h-5zM192 248h5v1h-5zM193 247h5v1h-5zM194 246h5v1h-5zM195 245h5v1h-5zM196 244h8v1h-8zM197 243h6v1h-6zM199 242h3v1h-3zM200 241h1v1h-1zM201 245h4v1h-4zM202 246h8v1h-8zM203 247h7v1h-7zM204 248h6v1h-6zM205 249h3v1h-3zM208 245h2v1h-2zM265 289h1v1h-1zM265 282h3v1h-3zM265 283h4v1h-4zM265 284h5v1h-5zM265 285h7v1h-7zM265 286h25v3h-25zM267 289h23v1h-23zM268 290h22v1h-22zM269 291h21v1h-21zM270 292h19v1h-19zM271 293h18v1h-18zM272 294h17v1h-17zM273 295h16v1h-16zM274 296h15v1h-15zM275 297h14v1h-14zM276 298h12v2h-12zM277 300h11v1h-11zM277 285h13v1h-13zM279 301h8v1h-8zM279 284h12v1h-12zM280 302h7v1h-7zM280 282h11v2h-11zM281 280h10v2h-10zM282 279h9v1h-9zM283 278h9v1h-9zM284 277h8v1h-8zM285 303h1v1h-1zM285 276h8v1h-8zM286 274h7v2h-7zM286 272h8v2h-8zM287 271h7v1h-7zM287 268h8v3h-8zM288 266h8v2h-8zM289 265h7v1h-7zM290 264h6v1h-6zM290 261h7v3h-7zM291 259h6v2h-6zM291 257h7v2h-7zM292 254h6v3h-6zM293 251h6v3h-6zM294 250h5v1h-5zM295 249h5v1h-5zM296 248h8v1h-8zM297 247h10v1h-10zM298 246h10v1h-10zM299 245h10v1h-10zM299 244h11v1h-11zM300 243h11v1h-11zM303 242h10v1h-10zM305 241h10v1h-10zM307 240h19v1h-19zM308 239h17v1h-17zM310 238h14v1h-14zM312 237h11v1h-11zM314 236h8v1h-8zM316 235h2v1h-2zM322 241h35v1h-35zM323 242h17v1h-17zM324 244h9v1h-9zM324 243h12v1h-12zM325 245h6v1h-6zM326 247h1v1h-1zM326 246h3v1h-3zM328 240h29v1h-29zM330 239h27v1h-27zM331 238h26v1h-26zM335 237h22v1h-22zM343 242h14v1h-14zM346 243h1v1h-1zM391 243h2v1h-2zM391 244h4v1h-4zM391 247h14v1h-14zM391 246h17v1h-17zM391 245h18v1h-18zM393 248h9v1h-9zM395 249h5v1h-5zM396 250h2v1h-2zM398 244h13v1h-13zM401 243h16v1h-16zM403 242h14v1h-14zM405 241h11v1h-11zM407 240h8v1h-8zM409 239h4v1h-4zM411 238h1v1h-1zM413 244h4v1h-4zM414 245h3v1h-3zM415 246h2v1h-2zM436 240h3v1h-3zM436 237h19v1h-19zM436 238h34v1h-34zM436 239h35v1h-35zM439 236h12v1h-12zM451 240h27v1h-27zM455 241h24v1h-24zM466 237h2v1h-2zM470 242h12v1h-12zM471 243h13v1h-13zM472 244h13v1h-13zM477 299h8v1h-8zM477 245h9v1h-9zM477 297h9v2h-9zM477 292h10v5h-10zM477 286h11v6h-11zM477 300h11v1h-11zM478 246h9v1h-9zM478 282h10v4h-10zM478 276h11v6h-11zM478 301h11v1h-11zM478 273h12v3h-12zM479 269h2v1h-2zM479 270h3v1h-3zM479 271h11v2h-11zM479 302h12v1h-12zM479 303h33v1h-33zM480 268h1v1h-1zM480 247h9v1h-9zM480 304h40v1h-40zM482 305h14v1h-14zM483 248h7v1h-7zM483 266h8v5h-8zM484 249h7v1h-7zM484 265h7v1h-7zM484 260h8v5h-8zM485 259h7v1h-7zM485 254h32v2h-32zM485 256h47v3h-47zM486 251h30v3h-30zM486 250h31v1h-31zM489 306h5v1h-5zM493 302h17v1h-17zM493 268h38v6h-38zM493 259h39v9h-39zM494 274h37v4h-37zM494 278h38v5h-38zM494 283h50v1h-50zM495 290h13v1h-13zM495 301h13v1h-13zM495 288h14v2h-14zM495 287h15v1h-15zM495 286h16v1h-16zM495 249h27v1h-27zM495 284h49v2h-49zM496 297h9v1h-9zM496 300h9v1h-9zM496 295h10v2h-10zM496 292h11v3h-11zM496 291h12v1h-12zM497 299h7v1h-7zM497 298h8v1h-8zM498 248h23v1h-23zM500 247h6v1h-6zM502 246h1v1h-1zM505 305h14v1h-14zM508 306h10v1h-10zM510 307h6v1h-6zM510 247h10v1h-10zM513 246h6v1h-6zM513 303h7v1h-7zM513 286h31v1h-31zM514 287h30v1h-30zM515 302h6v1h-6zM515 288h29v1h-29zM516 245h2v1h-2zM516 289h28v1h-28zM517 290h27v2h-27zM518 301h4v1h-4zM518 300h7v1h-7zM518 250h14v6h-14zM518 292h26v5h-26zM519 297h8v3h-8zM523 249h8v1h-8zM524 248h6v1h-6zM526 247h2v1h-2zM528 298h14v2h-14zM528 297h16v1h-16zM529 300h8v1h-8zM530 301h5v1h-5zM532 302h1v1h-1zM533 275h5v1h-5zM533 274h6v1h-6zM533 276h6v1h-6zM533 273h7v1h-7zM533 277h7v1h-7zM533 271h8v2h-8zM533 269h9v2h-9zM533 278h9v1h-9zM533 265h10v4h-10zM533 279h10v4h-10zM533 251h11v14h-11zM534 250h10v1h-10zM536 249h8v1h-8zM538 300h4v1h-4zM538 301h6v1h-6zM539 302h5v1h-5zM540 303h4v2h-4zM541 305h3v1h-3zM542 306h1v2h-1zM543 248h1v1h-1zM543 298h1v3h-1zM558 246h1v1h-1zM558 250h17v7h-17zM558 249h18v1h-18zM558 257h18v5h-18zM558 248h19v1h-19zM558 262h19v1h-19zM558 247h31v1h-31zM559 265h8v2h-8zM559 263h18v2h-18zM560 269h5v2h-5zM560 267h6v2h-6zM561 272h3v3h-3zM561 271h4v1h-4zM562 275h1v1h-1zM568 265h9v1h-9zM568 266h10v3h-10zM569 269h10v3h-10zM569 272h11v5h-11zM570 277h9v3h-9zM571 281h7v3h-7zM571 280h8v1h-8zM572 288h2v1h-2zM572 287h3v1h-3zM572 286h4v1h-4zM572 285h5v1h-5zM572 284h6v1h-6zM573 246h16v1h-16zM574 245h15v1h-15zM576 244h11v1h-11zM577 243h6v1h-6zM580 248h9v1h-9zM584 249h5v1h-5zM584 272h5v5h-5zM585 260h4v12h-4zM585 277h4v10h-4zM586 256h3v4h-3zM586 287h3v13h-3zM587 302h1v1h-1zM587 250h2v1h-2zM587 253h2v3h-2zM587 300h2v2h-2zM648 284h3v1h-3zM648 285h13v2h-13zM648 287h14v8h-14zM649 295h8v1h-8zM650 296h6v1h-6zM651 297h4v1h-4zM652 298h2v1h-2zM654 283h7v2h-7zM655 282h5v1h-5zM656 280h4v2h-4zM657 278h2v2h-2zM659 295h4v5h-4zM660 300h3v1h-3zM660 301h12v1h-12zM661 302h10v1h-10zM662 303h8v1h-8zM663 304h7v1h-7zM664 305h5v1h-5zM669 300h3v1h-3zM669 298h4v2h-4zM669 297h8v1h-8zM670 294h19v3h-19zM670 291h20v3h-20zM670 290h21v1h-21zM671 288h20v2h-20zM672 287h20v1h-20zM673 286h19v1h-19zM678 285h3v1h-3zM679 298h9v1h-9zM679 297h10v1h-10zM680 299h8v1h-8zM681 300h6v1h-6zM682 301h3v1h-3zM683 285h10v1h-10zM684 284h9v1h-9zM684 282h10v2h-10zM685 280h9v2h-9zM685 279h10v1h-10zM686 277h9v2h-9zM686 276h10v1h-10zM687 270h9v6h-9zM687 267h10v3h-10zM688 264h9v3h-9zM688 263h10v1h-10zM689 260h9v3h-9zM689 258h10v2h-10zM690 257h9v1h-9zM690 255h10v2h-10zM690 253h11v2h-11zM690 252h12v1h-12zM691 251h12v1h-12zM691 250h13v1h-13zM693 249h12v1h-12zM695 248h11v1h-11zM697 247h9v1h-9zM699 246h8v1h-8zM702 245h6v1h-6zM704 244h6v1h-6zM705 243h5v1h-5zM706 242h4v1h-4zM707 241h3v1h-3zM708 240h2v1h-2zM765 300h1v1h-1zM765 298h3v2h-3zM765 296h4v2h-4zM765 293h5v3h-5zM765 291h6v2h-6zM765 289h7v2h-7zM765 287h8v2h-8zM765 285h9v2h-9zM765 284h10v1h-10zM765 283h11v1h-11zM765 282h12v1h-12zM766 281h11v1h-11zM766 251h13v2h-13zM766 253h14v2h-14zM767 250h10v1h-10zM767 280h10v1h-10zM767 279h11v1h-11zM767 255h13v2h-13zM767 257h14v7h-14zM768 278h10v1h-10zM768 264h14v5h-14zM769 249h3v1h-3zM769 277h9v1h-9zM769 269h13v5h-13zM769 276h13v1h-13zM770 274h12v2h-12zM779 277h3v1h-3zM779 278h4v5h-4zM780 283h3v3h-3zM780 291h9v1h-9zM780 286h24v1h-24zM780 287h25v1h-25zM780 288h28v1h-28zM780 290h34v1h-34zM780 289h35v1h-35zM781 299h5v1h-5zM781 295h6v4h-6zM781 292h7v3h-7zM782 301h3v1h-3zM782 300h4v1h-4zM783 302h2v1h-2zM785 283h8v1h-8zM785 284h17v1h-17zM785 285h18v1h-18zM786 280h6v1h-6zM786 281h7v2h-7zM787 278h4v1h-4zM787 279h5v1h-5zM788 277h2v1h-2zM789 276h1v1h-1zM790 293h7v1h-7zM790 291h8v2h-8zM791 295h5v1h-5zM791 294h6v1h-6zM792 298h3v1h-3zM792 296h4v2h-4zM793 300h1v1h-1zM793 299h2v1h-2zM795 282h6v1h-6zM795 283h7v1h-7zM796 281h5v1h-5zM797 280h3v1h-3zM798 279h1v1h-1zM800 291h14v1h-14zM801 292h12v2h-12zM802 294h11v2h-11zM803 296h10v1h-10zM804 297h8v1h-8zM805 298h7v1h-7zM806 299h6v1h-6zM807 300h4v1h-4zM808 301h1v1h-1zM809 288h6v1h-6zM810 287h6v1h-6zM811 286h5v1h-5zM811 285h6v1h-6zM812 283h6v2h-6zM812 282h7v1h-7zM813 281h6v1h-6zM813 279h7v2h-7zM814 277h6v2h-6zM814 276h7v1h-7zM815 274h6v2h-6zM816 273h5v1h-5zM816 272h6v1h-6zM817 270h5v2h-5zM818 268h4v2h-4zM819 265h4v3h-4zM819 264h5v1h-5zM820 262h4v2h-4zM820 261h5v1h-5zM820 260h6v1h-6zM821 259h6v1h-6zM821 258h7v1h-7zM821 257h8v1h-8zM821 256h9v1h-9zM822 253h9v3h-9zM823 251h8v2h-8zM824 250h7v1h-7zM828 249h3v1h-3zM830 248h1v1h-1zM861 300h1v1h-1zM861 301h4v1h-4zM861 302h6v1h-6zM861 303h9v1h-9zM861 304h11v1h-11zM861 305h19v1h-19zM862 306h16v1h-16zM865 307h12v1h-12zM870 308h5v1h-5zM873 304h9v1h-9zM876 303h7v1h-7zM877 302h8v1h-8zM878 301h10v1h-10zM879 300h14v1h-14zM881 298h11v2h-11zM882 297h10v1h-10zM883 296h8v1h-8zM884 294h6v1h-6zM884 295h7v1h-7zM885 293h5v1h-5zM890 301h4v1h-4zM891 302h4v1h-4zM892 303h6v1h-6zM892 304h11v1h-11zM893 305h9v1h-9zM894 306h7v1h-7zM897 307h3v1h-3zM899 308h1v1h-1zM900 303h4v1h-4zM901 302h3v1h-3zM901 301h5v1h-5zM902 299h12v1h-12zM902 300h19v1h-19zM903 290h10v4h-10zM903 294h11v5h-11zM904 283h3v1h-3zM904 284h6v1h-6zM904 285h7v2h-7zM904 287h8v3h-8zM911 301h11v1h-11zM912 302h11v1h-11zM913 250h7v9h-7zM913 303h11v1h-11zM914 248h1v1h-1zM914 249h3v1h-3zM914 262h3v1h-3zM914 261h4v1h-4zM914 304h4v1h-4zM914 260h5v1h-5zM914 259h6v1h-6zM915 299h6v1h-6zM916 296h5v3h-5zM917 293h3v3h-3zM918 289h2v4h-2zM919 286h1v3h-1zM920 304h8v1h-8zM921 305h7v1h-7zM922 306h5v1h-5zM923 307h3v1h-3zM924 308h1v1h-1zM925 303h4v1h-4zM926 302h4v1h-4zM927 301h4v1h-4zM927 300h5v1h-5zM928 297h5v3h-5zM928 294h6v3h-6zM929 288h5v6h-5zM930 285h4v3h-4zM931 283h3v2h-3zM932 281h2v2h-2zM933 279h1v2h-1z"/>
<path fill="#ff9300" d="M133 252h1v4h-1zM133 256h2v6h-2zM133 262h3v14h-3zM133 276h4v5h-4zM133 281h5v3h-5zM133 284h6v2h-6zM133 286h7v15h-7zM134 301h6v1h-6zM164 304h1v1h-1zM164 303h2v1h-2zM164 302h13v1h-13zM164 301h14v1h-14zM164 300h15v1h-15zM164 299h16v1h-16zM165 297h15v2h-15zM165 296h16v1h-16zM165 295h17v1h-17zM166 294h17v1h-17zM169 293h15v1h-15zM174 303h2v1h-2zM176 292h9v1h-9zM176 291h34v1h-34zM177 290h33v1h-33zM178 288h32v2h-32zM179 287h31v1h-31zM180 285h30v2h-30zM181 284h29v1h-29zM182 283h28v1h-28zM183 282h27v1h-27zM184 281h26v1h-26zM185 280h25v1h-25zM186 279h24v1h-24zM186 292h24v1h-24zM187 293h23v1h-23zM188 278h22v1h-22zM188 294h22v2h-22zM189 277h1v1h-1zM189 296h21v2h-21zM190 298h20v3h-20zM191 277h19v1h-19zM191 301h19v1h-19zM192 272h8v3h-8zM192 275h18v2h-18zM193 264h7v8h-7zM193 302h17v1h-17zM194 251h5v12h-5zM194 263h6v1h-6zM195 250h4v1h-4zM195 303h10v1h-10zM196 249h9v1h-9zM197 304h6v1h-6zM197 248h7v1h-7zM198 247h5v1h-5zM199 246h3v1h-3zM200 245h1v1h-1zM200 305h1v1h-1zM201 268h9v7h-9zM202 250h8v18h-8zM208 249h2v1h-2zM208 303h2v1h-2zM260 305h1v1h-1zM260 303h2v2h-2zM260 302h3v1h-3zM260 300h4v2h-4zM265 297h1v1h-1zM265 290h3v1h-3zM265 291h4v1h-4zM265 292h5v1h-5zM265 293h6v1h-6zM265 294h7v1h-7zM265 295h8v1h-8zM265 296h9v1h-9zM266 289h1v1h-1zM267 297h8v1h-8zM268 298h8v1h-8zM269 299h7v1h-7zM270 300h7v1h-7zM270 301h9v1h-9zM271 302h9v1h-9zM272 303h13v1h-13zM273 304h17v1h-17zM274 305h15v1h-15zM275 306h14v1h-14zM277 307h11v1h-11zM278 308h9v1h-9zM280 309h7v1h-7zM286 303h4v1h-4zM287 301h4v2h-4zM288 300h4v1h-4zM288 298h5v2h-5zM289 297h5v1h-5zM289 294h6v3h-6zM289 292h7v2h-7zM290 291h6v1h-6zM290 286h7v5h-7zM290 285h8v1h-8zM291 279h7v6h-7zM292 277h7v2h-7zM293 274h6v3h-6zM294 273h5v1h-5zM294 271h6v2h-6zM295 269h5v2h-5zM295 268h6v1h-6zM296 264h12v4h-12zM297 260h11v4h-11zM297 259h12v1h-12zM298 254h11v5h-11zM299 251h10v3h-10zM299 250h11v1h-11zM300 249h11v1h-11zM302 268h6v2h-6zM303 270h5v2h-5zM304 274h3v2h-3zM304 272h4v2h-4zM304 248h8v1h-8zM305 276h2v3h-2zM306 279h1v1h-1zM307 247h7v1h-7zM308 246h9v1h-9zM309 245h16v1h-16zM310 244h14v1h-14zM311 243h13v1h-13zM313 242h10v1h-10zM315 241h7v1h-7zM322 246h4v1h-4zM323 247h3v1h-3zM323 248h16v1h-16zM324 249h12v1h-12zM325 251h9v3h-9zM325 250h10v1h-10zM325 254h10v3h-10zM325 257h11v3h-11zM325 260h12v3h-12zM326 263h11v1h-11zM326 264h12v5h-12zM326 269h13v6h-13zM327 247h30v1h-30zM328 275h12v1h-12zM329 246h28v1h-28zM331 276h8v1h-8zM331 245h26v1h-26zM332 278h6v1h-6zM332 277h7v1h-7zM333 279h4v1h-4zM333 244h24v1h-24zM334 281h2v1h-2zM334 280h3v1h-3zM336 243h10v1h-10zM340 242h3v1h-3zM343 248h7v1h-7zM346 249h1v1h-1zM347 243h10v1h-10zM356 248h1v1h-1zM391 248h2v1h-2zM391 249h4v1h-4zM391 250h5v1h-5zM391 251h19v7h-19zM391 258h20v1h-20zM392 259h19v4h-19zM393 265h8v2h-8zM393 263h24v2h-24zM394 268h6v3h-6zM394 267h7v1h-7zM395 275h3v1h-3zM395 271h4v4h-4zM396 277h1v1h-1zM396 276h2v1h-2zM398 250h13v1h-13zM400 249h17v1h-17zM402 248h15v1h-15zM403 265h14v1h-14zM404 266h13v2h-13zM405 247h12v1h-12zM405 268h12v3h-12zM406 271h11v5h-11zM407 276h10v1h-10zM408 246h7v1h-7zM408 277h9v1h-9zM409 245h5v1h-5zM409 278h8v1h-8zM410 279h7v2h-7zM411 244h2v1h-2zM411 281h6v5h-6zM412 262h5v1h-5zM412 286h5v6h-5zM413 250h4v1h-4zM413 255h4v7h-4zM413 292h4v2h-4zM414 251h3v4h-3zM414 294h3v2h-3zM415 296h2v2h-2zM416 298h1v2h-1zM436 245h1v1h-1zM436 244h4v1h-4zM436 241h19v1h-19zM436 242h34v1h-34zM436 243h35v1h-35zM439 240h12v1h-12zM451 244h21v1h-21zM455 245h22v1h-22zM459 246h5v1h-5zM469 246h9v1h-9zM471 247h9v1h-9zM472 248h11v1h-11zM473 249h11v1h-11zM474 286h3v15h-3zM474 273h4v13h-4zM474 269h5v4h-5zM474 268h6v1h-6zM474 266h9v2h-9zM474 264h10v2h-10zM475 301h3v1h-3zM475 302h4v1h-4zM475 260h9v4h-9zM475 257h10v3h-10zM476 303h3v1h-3zM476 304h4v1h-4zM476 254h9v3h-9zM476 250h10v1h-10zM476 253h10v1h-10zM477 305h5v1h-5zM477 251h9v2h-9zM478 306h11v1h-11zM478 307h32v1h-32zM479 309h41v1h-41zM479 308h42v1h-42zM480 310h15v1h-15zM481 268h2v2h-2zM481 311h4v1h-4zM482 270h1v1h-1zM490 311h3v1h-3zM494 306h14v1h-14zM496 305h9v1h-9zM504 310h15v1h-15zM509 311h9v1h-9zM511 312h5v1h-5zM516 251h2v3h-2zM516 307h5v1h-5zM517 250h1v1h-1zM517 254h1v2h-1zM518 306h4v1h-4zM519 305h6v1h-6zM520 303h20v2h-20zM521 302h11v1h-11zM522 301h8v1h-8zM525 300h4v1h-4zM527 297h1v3h-1zM529 305h12v1h-12zM530 306h12v1h-12zM532 307h3v1h-3zM533 302h6v1h-6zM535 301h3v1h-3zM537 300h1v1h-1zM538 307h4v1h-4zM538 275h6v1h-6zM538 308h6v1h-6zM539 274h5v1h-5zM539 276h5v1h-5zM539 309h5v1h-5zM540 273h4v1h-4zM540 277h4v1h-4zM540 310h4v2h-4zM541 312h2v1h-2zM541 271h3v2h-3zM542 313h1v1h-1zM542 269h2v2h-2zM542 278h2v1h-2zM543 265h1v4h-1zM543 279h1v4h-1zM543 306h1v2h-1zM558 263h1v4h-1zM558 300h1v1h-1zM558 267h2v4h-2zM558 271h3v4h-3zM558 299h3v1h-3zM558 275h4v1h-4zM558 298h4v1h-4zM558 296h5v2h-5zM558 294h6v2h-6zM558 292h7v2h-7zM558 291h8v1h-8zM558 289h9v2h-9zM558 276h11v1h-11zM558 277h12v3h-12zM558 280h13v4h-13zM558 284h14v5h-14zM563 275h6v1h-6zM564 272h5v3h-5zM565 269h4v3h-4zM566 267h2v2h-2zM567 265h1v2h-1zM568 289h18v3h-18zM569 293h13v3h-13zM569 292h17v1h-17zM570 297h11v3h-11zM570 296h12v1h-12zM571 301h8v1h-8zM571 300h9v1h-9zM572 302h6v1h-6zM574 288h12v1h-12zM575 256h11v1h-11zM575 287h11v1h-11zM575 250h12v1h-12zM575 253h12v3h-12zM575 251h14v2h-14zM576 249h8v1h-8zM576 260h9v2h-9zM576 286h9v1h-9zM576 257h10v3h-10zM577 248h3v1h-3zM577 262h8v4h-8zM577 285h8v1h-8zM578 266h7v3h-7zM578 281h7v4h-7zM579 269h6v3h-6zM579 277h6v4h-6zM580 272h4v5h-4zM583 293h3v5h-3zM584 298h2v2h-2zM584 300h3v2h-3zM585 302h2v1h-2zM585 303h4v1h-4zM586 304h3v2h-3zM587 306h2v2h-2zM588 302h1v1h-1zM648 295h1v1h-1zM648 296h2v1h-2zM648 297h3v1h-3zM648 298h4v1h-4zM648 304h8v1h-8zM648 299h11v1h-11zM648 300h12v2h-12zM648 302h13v1h-13zM648 303h14v1h-14zM650 305h4v1h-4zM654 298h5v1h-5zM655 297h4v1h-4zM656 296h3v1h-3zM657 295h2v1h-2zM659 304h4v1h-4zM659 305h5v1h-5zM660 306h12v1h-12zM661 307h10v1h-10zM662 308h8v1h-8zM663 309h7v1h-7zM664 310h5v1h-5zM669 305h3v1h-3zM670 304h3v1h-3zM670 303h21v1h-21zM671 302h21v1h-21zM672 300h9v1h-9zM672 301h10v1h-10zM673 298h6v1h-6zM673 299h7v1h-7zM677 297h2v1h-2zM679 304h11v1h-11zM680 305h8v1h-8zM682 306h4v1h-4zM683 307h1v1h-1zM685 301h8v1h-8zM687 300h7v1h-7zM688 299h6v1h-6zM688 298h7v1h-7zM689 294h6v4h-6zM690 291h6v3h-6zM691 289h5v2h-5zM691 288h6v1h-6zM692 286h5v2h-5zM693 285h4v1h-4zM693 284h5v1h-5zM694 282h4v2h-4zM694 280h5v2h-5zM695 277h4v3h-4zM696 272h4v5h-4zM696 270h5v2h-5zM697 267h4v3h-4zM697 264h5v3h-5zM698 262h5v2h-5zM698 260h6v2h-6zM699 258h6v2h-6zM699 257h7v1h-7zM700 255h6v2h-6zM701 253h6v2h-6zM702 252h6v1h-6zM703 251h5v1h-5zM704 250h5v1h-5zM705 249h5v1h-5zM706 247h4v2h-4zM707 246h3v1h-3zM708 245h2v1h-2zM765 305h1v1h-1zM765 304h3v1h-3zM765 303h5v1h-5zM765 302h7v1h-7zM765 301h17v1h-17zM766 300h16v1h-16zM768 298h13v2h-13zM769 296h12v2h-12zM770 293h11v3h-11zM771 291h9v1h-9zM771 292h10v1h-10zM772 289h8v2h-8zM773 287h7v2h-7zM774 285h6v2h-6zM775 284h5v1h-5zM776 283h4v1h-4zM777 280h2v3h-2zM778 277h1v3h-1zM779 302h4v1h-4zM779 303h9v1h-9zM780 304h7v1h-7zM781 305h6v1h-6zM782 307h3v1h-3zM782 306h4v1h-4zM783 308h1v1h-1zM785 301h13v2h-13zM786 299h7v2h-7zM787 295h4v1h-4zM787 296h5v3h-5zM788 292h2v2h-2zM788 294h3v1h-3zM789 291h1v1h-1zM791 303h6v1h-6zM792 304h4v1h-4zM793 305h2v1h-2zM794 300h13v1h-13zM795 298h10v1h-10zM795 299h11v1h-11zM796 295h6v1h-6zM796 296h7v1h-7zM796 297h8v1h-8zM797 293h4v1h-4zM797 294h5v1h-5zM798 291h2v1h-2zM798 292h3v1h-3zM800 301h8v1h-8zM801 302h13v1h-13zM803 303h10v1h-10zM804 304h9v1h-9zM806 305h6v1h-6zM807 306h4v1h-4zM809 301h5v1h-5zM811 300h4v1h-4zM812 299h4v1h-4zM812 297h5v2h-5zM813 295h5v2h-5zM813 293h6v2h-6zM813 292h7v1h-7zM814 290h6v2h-6zM815 288h6v2h-6zM816 287h5v1h-5zM816 286h6v1h-6zM817 285h5v1h-5zM818 283h4v2h-4zM819 281h4v2h-4zM820 279h3v2h-3zM820 277h4v2h-4zM821 275h3v2h-3zM821 273h4v2h-4zM822 272h4v1h-4zM822 270h5v2h-5zM822 269h6v1h-6zM822 268h7v1h-7zM823 265h8v3h-8zM824 262h7v3h-7zM825 261h6v1h-6zM826 260h5v1h-5zM827 259h4v1h-4zM828 258h3v1h-3zM829 257h2v1h-2zM830 256h1v1h-1zM861 306h1v1h-1zM861 307h4v1h-4zM861 308h9v1h-9zM861 311h18v1h-18zM861 310h19v1h-19zM861 309h21v1h-21zM862 312h15v1h-15zM870 313h5v1h-5zM875 308h8v1h-8zM877 307h8v1h-8zM878 306h9v1h-9zM880 305h13v1h-13zM882 304h10v1h-10zM883 303h9v1h-9zM885 302h6v1h-6zM888 301h2v1h-2zM890 306h4v1h-4zM891 307h6v1h-6zM892 308h7v1h-7zM893 309h10v1h-10zM894 310h8v1h-8zM896 311h5v1h-5zM898 312h2v1h-2zM900 308h4v1h-4zM900 307h5v1h-5zM901 306h6v1h-6zM902 305h19v1h-19zM903 304h11v1h-11zM904 302h8v1h-8zM904 303h9v1h-9zM906 301h5v1h-5zM910 306h12v1h-12zM911 307h12v1h-12zM913 308h11v1h-11zM914 309h5v1h-5zM918 304h2v1h-2zM920 309h9v1h-9zM921 310h7v1h-7zM922 311h5v1h-5zM923 312h3v1h-3zM924 313h1v1h-1zM925 308h5v1h-5zM926 307h5v1h-5zM927 306h5v1h-5zM928 305h5v1h-5zM928 304h6v1h-6zM929 303h5v1h-5zM930 302h4v1h-4zM931 301h3v1h-3zM932 300h2v1h-2zM933 297h1v3h-1z"/>
<path fill="#ff7a00" d="M133 301h1v1h-1zM133 302h7v5h-7zM164 309h1v1h-1zM164 308h13v1h-13zM164 307h14v1h-14zM164 306h15v1h-15zM164 305h16v1h-16zM165 304h16v1h-16zM166 303h8v1h-8zM174 309h2v1h-2zM176 303h7v1h-7zM177 302h8v1h-8zM178 301h13v1h-13zM179 300h11v1h-11zM180 297h9v1h-9zM180 298h10v2h-10zM181 296h8v1h-8zM182 295h6v1h-6zM183 294h5v1h-5zM184 293h3v1h-3zM185 292h1v1h-1zM186 302h7v1h-7zM187 303h8v1h-8zM188 304h9v1h-9zM189 305h11v1h-11zM190 306h20v2h-20zM193 308h17v1h-17zM196 309h9v1h-9zM199 250h3v13h-3zM199 310h4v1h-4zM200 268h1v7h-1zM200 263h2v5h-2zM201 305h9v1h-9zM203 304h7v1h-7zM205 303h3v1h-3zM260 311h1v1h-1zM260 310h2v1h-2zM260 308h3v2h-3zM260 307h4v1h-4zM260 306h5v1h-5zM261 305h4v1h-4zM262 303h10v1h-10zM262 304h11v1h-11zM263 302h8v1h-8zM264 300h6v2h-6zM265 298h3v1h-3zM265 299h4v1h-4zM266 297h1v1h-1zM267 305h7v1h-7zM268 306h7v1h-7zM269 307h8v1h-8zM270 308h8v1h-8zM271 309h9v1h-9zM272 310h19v1h-19zM273 311h17v1h-17zM274 312h16v1h-16zM275 313h14v1h-14zM276 314h12v1h-12zM277 315h10v1h-10zM279 316h7v1h-7zM287 309h4v1h-4zM287 308h6v1h-6zM288 307h6v1h-6zM289 306h7v1h-7zM289 305h8v1h-8zM290 304h8v1h-8zM290 303h9v1h-9zM291 301h9v2h-9zM292 300h9v1h-9zM293 298h15v2h-15zM294 297h14v1h-14zM295 294h14v3h-14zM296 291h13v3h-13zM297 286h13v5h-13zM298 279h8v1h-8zM298 285h12v1h-12zM298 280h13v5h-13zM299 273h5v3h-5zM299 276h6v3h-6zM300 269h2v1h-2zM300 270h3v2h-3zM300 272h4v1h-4zM301 268h1v1h-1zM302 300h5v1h-5zM305 301h2v1h-2zM307 279h4v1h-4zM307 276h5v3h-5zM307 274h6v2h-6zM308 272h5v2h-5zM308 267h6v5h-6zM308 264h7v3h-7zM308 261h8v3h-8zM308 260h9v1h-9zM309 258h9v2h-9zM309 256h10v2h-10zM309 251h11v5h-11zM310 250h15v1h-15zM311 249h13v1h-13zM312 248h11v1h-11zM314 247h9v1h-9zM317 246h5v1h-5zM322 251h3v12h-3zM322 263h4v12h-4zM322 275h6v1h-6zM322 276h9v1h-9zM323 277h9v2h-9zM323 279h10v1h-10zM323 280h11v2h-11zM323 283h20v2h-20zM323 282h21v1h-21zM324 285h18v3h-18zM325 288h16v1h-16zM326 289h14v1h-14zM328 290h11v1h-11zM329 291h9v1h-9zM330 292h7v1h-7zM331 293h5v1h-5zM333 294h2v1h-2zM334 251h23v3h-23zM335 250h22v1h-22zM335 254h22v3h-22zM336 281h8v1h-8zM336 249h10v1h-10zM336 257h21v3h-21zM337 280h7v1h-7zM337 279h8v1h-8zM337 263h13v1h-13zM337 261h14v2h-14zM337 260h20v1h-20zM338 278h7v1h-7zM338 268h10v1h-10zM338 266h11v2h-11zM338 264h12v2h-12zM339 248h4v1h-4zM339 277h6v1h-6zM339 274h7v1h-7zM339 276h7v1h-7zM339 271h8v3h-8zM339 269h9v2h-9zM340 275h6v1h-6zM347 249h10v1h-10zM350 248h6v1h-6zM352 261h5v2h-5zM353 263h4v3h-4zM354 266h3v3h-3zM355 269h2v5h-2zM356 274h1v6h-1zM391 259h1v4h-1zM391 263h2v4h-2zM391 267h3v4h-3zM391 271h4v5h-4zM391 276h5v2h-5zM391 278h18v1h-18zM391 279h19v2h-19zM391 281h20v3h-20zM392 284h19v1h-19zM393 286h8v1h-8zM393 285h18v1h-18zM394 288h6v1h-6zM394 287h7v1h-7zM395 289h4v2h-4zM396 291h2v1h-2zM397 277h11v1h-11zM398 275h8v1h-8zM398 276h9v1h-9zM399 271h7v4h-7zM400 268h5v3h-5zM401 265h2v1h-2zM401 266h3v2h-3zM403 286h9v2h-9zM404 288h8v2h-8zM405 290h7v1h-7zM406 291h6v1h-6zM406 292h7v1h-7zM407 293h6v1h-6zM407 294h7v1h-7zM408 295h6v1h-6zM408 296h7v2h-7zM408 298h8v2h-8zM409 300h8v2h-8zM410 255h3v3h-3zM410 251h4v4h-4zM410 302h7v2h-7zM411 262h1v1h-1zM411 250h2v1h-2zM411 258h2v4h-2zM411 304h6v2h-6zM412 306h5v1h-5zM436 249h2v1h-2zM436 277h2v2h-2zM436 279h3v8h-3zM436 302h3v1h-3zM436 248h4v1h-4zM436 287h4v9h-4zM436 301h4v1h-4zM436 296h5v5h-5zM436 246h23v1h-23zM436 247h35v1h-35zM437 270h1v7h-1zM437 303h1v1h-1zM437 245h18v1h-18zM440 244h11v1h-11zM451 248h21v1h-21zM452 282h1v1h-1zM452 281h3v1h-3zM452 271h22v10h-22zM453 270h21v1h-21zM455 249h18v1h-18zM455 269h19v1h-19zM456 267h18v2h-18zM457 250h8v1h-8zM457 264h17v3h-17zM457 281h17v4h-17zM457 260h18v4h-18zM458 254h7v1h-7zM458 255h8v2h-8zM458 257h9v1h-9zM458 285h16v15h-16zM458 258h17v2h-17zM459 251h5v2h-5zM459 253h6v1h-6zM459 301h10v1h-10zM459 300h15v1h-15zM460 302h7v1h-7zM461 303h4v1h-4zM462 304h1v1h-1zM464 246h5v1h-5zM468 257h7v1h-7zM468 250h8v1h-8zM468 255h8v2h-8zM469 253h7v2h-7zM469 251h8v2h-8zM471 301h4v1h-4zM472 302h3v1h-3zM473 303h3v2h-3zM474 305h3v1h-3zM474 306h4v1h-4zM475 307h3v1h-3zM475 308h4v1h-4zM476 309h3v1h-3zM476 310h4v1h-4zM477 311h4v1h-4zM478 312h33v1h-33zM478 313h43v1h-43zM479 314h41v1h-41zM480 316h9v1h-9zM480 315h15v1h-15zM481 317h4v1h-4zM485 311h5v1h-5zM493 311h16v1h-16zM495 310h9v1h-9zM502 315h17v1h-17zM509 316h9v1h-9zM511 317h7v1h-7zM516 312h5v1h-5zM518 311h4v1h-4zM519 310h7v1h-7zM520 309h19v1h-19zM521 307h11v1h-11zM521 308h17v1h-17zM522 306h8v1h-8zM525 305h4v1h-4zM528 310h12v1h-12zM530 311h10v1h-10zM532 312h9v1h-9zM535 307h3v1h-3zM536 313h6v1h-6zM538 314h6v2h-6zM539 316h5v1h-5zM540 317h4v2h-4zM541 319h2v1h-2zM542 320h1v1h-1zM543 312h1v2h-1zM558 306h2v1h-2zM558 305h5v1h-5zM558 304h7v1h-7zM558 303h8v1h-8zM558 301h13v1h-13zM558 302h14v1h-14zM559 300h12v1h-12zM561 299h9v1h-9zM562 298h8v1h-8zM563 296h7v2h-7zM564 294h5v2h-5zM565 292h4v2h-4zM566 291h2v1h-2zM567 289h1v2h-1zM568 303h17v1h-17zM569 304h13v1h-13zM570 305h11v1h-11zM571 307h8v1h-8zM571 306h9v1h-9zM572 308h4v1h-4zM578 302h7v1h-7zM579 301h5v1h-5zM580 300h4v1h-4zM581 297h2v1h-2zM581 298h3v2h-3zM582 293h1v4h-1zM583 304h3v2h-3zM584 306h3v2h-3zM585 308h4v2h-4zM586 310h3v2h-3zM587 312h2v2h-2zM648 313h1v1h-1zM648 305h2v1h-2zM648 312h5v1h-5zM648 311h7v1h-7zM648 310h8v1h-8zM648 306h12v1h-12zM648 307h13v1h-13zM648 308h14v1h-14zM648 309h15v1h-15zM654 305h5v1h-5zM656 304h3v1h-3zM659 310h5v1h-5zM660 311h12v1h-12zM661 312h10v1h-10zM662 313h8v1h-8zM663 314h7v1h-7zM664 315h5v1h-5zM669 310h3v1h-3zM670 309h3v1h-3zM670 308h23v1h-23zM671 307h12v1h-12zM672 305h8v1h-8zM672 306h10v1h-10zM673 304h6v1h-6zM678 309h14v1h-14zM680 310h10v1h-10zM681 311h7v1h-7zM683 312h2v1h-2zM684 307h10v1h-10zM686 306h9v1h-9zM688 305h7v1h-7zM690 304h6v1h-6zM691 303h5v1h-5zM692 302h5v1h-5zM693 301h4v1h-4zM694 300h3v1h-3zM694 299h4v1h-4zM695 296h3v3h-3zM695 294h4v2h-4zM696 290h3v4h-3zM696 289h4v1h-4zM697 285h3v4h-3zM698 282h3v3h-3zM699 281h2v1h-2zM699 277h3v4h-3zM700 276h2v1h-2zM700 273h3v3h-3zM700 272h4v1h-4zM701 271h3v1h-3zM701 269h4v2h-4zM701 267h5v2h-5zM702 264h5v3h-5zM703 262h5v2h-5zM704 261h5v1h-5zM704 260h6v1h-6zM705 258h5v2h-5zM706 255h4v3h-4zM707 253h3v2h-3zM708 251h2v2h-2zM709 250h1v1h-1zM765 310h1v1h-1zM765 309h2v1h-2zM765 308h4v1h-4zM765 307h8v1h-8zM765 306h17v1h-17zM766 305h15v1h-15zM768 304h12v1h-12zM770 303h9v1h-9zM772 302h7v1h-7zM774 307h8v1h-8zM777 308h6v1h-6zM779 309h9v1h-9zM780 311h6v1h-6zM780 310h7v1h-7zM781 312h5v1h-5zM783 313h2v1h-2zM784 308h14v1h-14zM785 307h30v1h-30zM786 306h21v1h-21zM787 304h5v1h-5zM787 305h6v1h-6zM788 303h3v1h-3zM791 309h6v1h-6zM792 310h4v1h-4zM793 311h2v1h-2zM795 305h11v1h-11zM796 304h8v1h-8zM797 303h6v1h-6zM798 301h2v1h-2zM798 302h3v1h-3zM801 308h13v1h-13zM803 309h10v1h-10zM805 310h8v1h-8zM807 311h5v1h-5zM808 312h2v1h-2zM811 306h5v1h-5zM812 305h6v1h-6zM813 304h6v1h-6zM813 303h7v1h-7zM814 302h6v1h-6zM814 301h7v1h-7zM815 300h6v1h-6zM816 299h6v1h-6zM817 297h5v2h-5zM818 295h5v2h-5zM819 294h4v1h-4zM819 293h5v1h-5zM820 291h4v2h-4zM820 290h5v1h-5zM821 289h4v1h-4zM821 287h5v2h-5zM822 285h5v2h-5zM822 283h6v2h-6zM823 282h6v1h-6zM823 279h8v3h-8zM824 275h7v4h-7zM825 273h6v2h-6zM826 272h5v1h-5zM827 270h4v2h-4zM828 269h3v1h-3zM829 268h2v1h-2zM830 282h1v1h-1zM861 312h1v1h-1zM861 318h7v1h-7zM861 313h9v1h-9zM861 317h15v1h-15zM861 316h18v1h-18zM861 315h20v1h-20zM861 314h21v1h-21zM870 318h3v1h-3zM875 313h9v1h-9zM877 312h8v1h-8zM879 311h8v1h-8zM880 310h9v1h-9zM882 309h11v1h-11zM883 308h9v1h-9zM885 307h6v1h-6zM887 306h3v1h-3zM890 310h4v1h-4zM891 311h5v1h-5zM892 312h6v1h-6zM893 313h11v1h-11zM894 314h9v1h-9zM896 315h6v1h-6zM898 316h3v1h-3zM899 317h1v1h-1zM900 312h6v1h-6zM901 311h7v1h-7zM902 310h19v1h-19zM903 309h11v1h-11zM904 308h9v1h-9zM905 307h6v1h-6zM907 306h3v1h-3zM910 311h12v1h-12zM911 312h12v1h-12zM912 313h12v1h-12zM914 314h16v1h-16zM919 309h1v1h-1zM920 315h8v1h-8zM922 316h5v1h-5zM923 317h3v1h-3zM924 318h1v1h-1zM925 313h6v1h-6zM926 312h6v1h-6zM927 311h6v1h-6zM928 310h6v1h-6zM929 309h5v1h-5zM930 308h4v1h-4zM931 307h3v1h-3zM932 306h2v1h-2zM933 305h1v1h-1z"/>
<path fill="#ff6100" d="M133 313h1v1h-1zM133 312h3v1h-3zM133 307h7v5h-7zM164 314h1v1h-1zM164 313h14v1h-14zM164 312h15v1h-15zM164 311h16v1h-16zM164 310h19v1h-19zM165 309h9v1h-9zM167 314h10v1h-10zM174 315h2v1h-2zM176 309h20v1h-20zM177 308h16v1h-16zM178 307h12v1h-12zM179 306h11v1h-11zM180 305h9v1h-9zM181 304h7v1h-7zM183 303h4v1h-4zM185 302h1v1h-1zM186 310h13v1h-13zM187 311h23v1h-23zM189 312h21v1h-21zM190 313h20v1h-20zM193 314h17v1h-17zM197 315h7v1h-7zM199 316h3v1h-3zM203 310h7v1h-7zM205 309h5v1h-5zM260 316h2v1h-2zM260 315h3v1h-3zM260 314h4v1h-4zM260 313h5v1h-5zM260 312h14v1h-14zM261 311h12v1h-12zM262 310h10v1h-10zM263 308h7v1h-7zM263 309h8v1h-8zM264 307h5v1h-5zM265 305h2v1h-2zM265 306h3v1h-3zM267 313h8v1h-8zM269 314h7v1h-7zM270 315h7v1h-7zM271 316h8v1h-8zM272 317h20v1h-20zM273 318h18v1h-18zM274 319h16v1h-16zM275 321h13v1h-13zM275 320h15v1h-15zM276 322h11v1h-11zM278 323h7v1h-7zM281 324h1v1h-1zM286 316h7v1h-7zM287 315h8v1h-8zM288 314h9v1h-9zM289 313h9v1h-9zM290 312h9v1h-9zM290 311h10v1h-10zM291 310h10v1h-10zM291 309h12v1h-12zM293 308h13v1h-13zM294 307h13v1h-13zM296 306h12v1h-12zM297 305h12v1h-12zM298 304h11v1h-11zM299 303h11v1h-11zM300 301h5v1h-5zM300 302h11v1h-11zM301 300h1v1h-1zM307 301h5v1h-5zM307 300h7v1h-7zM308 299h6v1h-6zM308 297h7v2h-7zM309 296h6v1h-6zM309 293h7v3h-7zM309 291h20v1h-20zM309 292h21v1h-21zM310 285h14v3h-14zM310 288h15v1h-15zM310 289h16v1h-16zM310 290h18v1h-18zM311 279h12v6h-12zM312 276h10v1h-10zM312 277h11v2h-11zM313 272h9v4h-9zM314 267h8v5h-8zM315 264h7v3h-7zM316 261h6v3h-6zM317 260h5v1h-5zM317 293h14v1h-14zM317 294h16v1h-16zM317 298h27v2h-27zM317 295h28v3h-28zM318 258h4v2h-4zM318 300h25v2h-25zM319 256h3v2h-3zM319 303h6v1h-6zM319 302h23v1h-23zM320 251h2v5h-2zM320 305h2v1h-2zM320 304h4v1h-4zM321 306h1v1h-1zM328 303h8v1h-8zM330 304h5v1h-5zM335 294h11v1h-11zM336 293h10v1h-10zM337 292h9v1h-9zM338 291h11v1h-11zM339 290h18v1h-18zM340 289h17v1h-17zM341 288h16v1h-16zM342 285h15v3h-15zM343 283h14v2h-14zM344 280h13v3h-13zM345 277h11v3h-11zM346 274h10v3h-10zM347 271h8v3h-8zM348 268h6v1h-6zM348 269h7v2h-7zM349 266h5v2h-5zM350 263h3v3h-3zM351 261h1v2h-1zM352 291h5v5h-5zM353 296h4v4h-4zM354 300h3v2h-3zM355 302h2v1h-2zM356 303h1v1h-1zM391 284h1v1h-1zM391 285h2v2h-2zM391 287h3v2h-3zM391 289h4v2h-4zM391 291h5v1h-5zM391 292h15v1h-15zM391 293h16v2h-16zM391 295h17v5h-17zM391 300h18v2h-18zM393 302h17v1h-17zM394 303h6v1h-6zM396 304h2v1h-2zM398 291h8v1h-8zM399 289h5v1h-5zM399 290h6v1h-6zM400 288h4v1h-4zM401 286h2v2h-2zM403 303h7v1h-7zM405 304h6v1h-6zM407 305h4v1h-4zM407 306h5v1h-5zM408 307h9v2h-9zM409 309h8v1h-8zM410 310h7v2h-7zM411 312h6v2h-6zM436 270h1v7h-1zM436 303h1v1h-1zM436 311h3v1h-3zM436 310h4v1h-4zM436 309h5v1h-5zM436 308h6v1h-6zM436 306h7v2h-7zM436 305h8v1h-8zM436 304h9v1h-9zM436 269h19v1h-19zM436 267h20v2h-20zM436 250h21v1h-21zM436 260h21v7h-21zM436 254h22v6h-22zM436 251h23v3h-23zM437 312h1v1h-1zM438 303h7v1h-7zM438 271h14v8h-14zM438 270h15v1h-15zM438 249h17v1h-17zM439 302h7v1h-7zM439 279h13v4h-13zM439 283h18v2h-18zM439 285h19v2h-19zM440 301h7v1h-7zM440 248h11v1h-11zM440 287h18v9h-18zM441 296h17v4h-17zM441 300h18v1h-18zM448 301h11v1h-11zM449 302h11v1h-11zM450 303h11v1h-11zM452 304h10v1h-10zM453 282h4v1h-4zM455 281h2v1h-2zM456 305h18v1h-18zM458 306h16v1h-16zM459 307h16v1h-16zM460 308h9v1h-9zM461 309h4v1h-4zM463 304h10v1h-10zM464 251h5v2h-5zM465 250h3v1h-3zM465 253h4v2h-4zM465 303h8v1h-8zM466 255h2v2h-2zM467 257h1v1h-1zM467 302h5v1h-5zM469 301h2v1h-2zM471 308h4v1h-4zM472 309h4v1h-4zM473 310h3v1h-3zM473 311h4v1h-4zM474 312h4v2h-4zM475 314h4v1h-4zM476 315h4v2h-4zM477 317h4v1h-4zM478 319h19v1h-19zM478 318h43v1h-43zM479 320h14v1h-14zM480 322h6v1h-6zM480 321h9v1h-9zM481 323h3v1h-3zM485 317h26v1h-26zM489 316h20v1h-20zM495 315h7v1h-7zM498 319h22v1h-22zM501 320h18v1h-18zM509 321h9v1h-9zM512 322h6v1h-6zM518 317h3v1h-3zM518 316h4v1h-4zM519 315h7v1h-7zM520 314h18v1h-18zM521 312h11v1h-11zM521 313h15v1h-15zM522 311h8v1h-8zM526 310h2v1h-2zM528 315h10v1h-10zM530 316h9v1h-9zM532 317h8v1h-8zM534 318h6v1h-6zM535 319h6v1h-6zM535 397h6v1h-6zM536 396h4v1h-4zM537 395h2v1h-2zM537 320h5v1h-5zM538 321h6v2h-6zM539 323h5v1h-5zM540 324h4v1h-4zM541 325h3v1h-3zM542 326h1v1h-1zM543 319h1v2h-1zM558 312h2v1h-2zM558 311h5v1h-5zM558 310h7v1h-7zM558 309h9v1h-9zM558 307h13v1h-13zM558 308h14v1h-14zM560 306h11v1h-11zM563 305h7v1h-7zM565 304h4v1h-4zM566 303h2v1h-2zM568 309h17v1h-17zM569 310h13v1h-13zM570 312h9v1h-9zM570 311h11v1h-11zM571 313h7v1h-7zM572 314h3v1h-3zM576 308h9v1h-9zM579 307h5v1h-5zM580 306h4v1h-4zM581 305h2v1h-2zM582 304h1v1h-1zM583 310h3v1h-3zM584 311h2v1h-2zM584 312h3v2h-3zM585 314h4v2h-4zM586 316h3v2h-3zM587 318h2v2h-2zM648 321h1v1h-1zM648 320h3v1h-3zM648 319h4v1h-4zM648 318h6v1h-6zM648 317h7v1h-7zM648 316h8v1h-8zM648 315h10v1h-10zM648 314h15v1h-15zM649 313h13v1h-13zM653 312h8v1h-8zM655 311h5v1h-5zM656 310h3v1h-3zM659 315h5v1h-5zM660 316h12v1h-12zM661 317h10v1h-10zM662 318h8v1h-8zM663 319h7v1h-7zM665 320h4v1h-4zM667 321h1v1h-1zM669 315h3v1h-3zM670 314h3v1h-3zM670 313h25v1h-25zM671 312h12v1h-12zM672 310h8v1h-8zM672 311h9v1h-9zM673 309h5v1h-5zM676 314h18v1h-18zM679 315h14v1h-14zM680 316h10v1h-10zM682 317h4v1h-4zM685 312h10v1h-10zM688 311h8v1h-8zM690 310h6v1h-6zM692 309h5v1h-5zM693 308h4v1h-4zM694 307h4v1h-4zM695 306h3v1h-3zM695 305h4v1h-4zM696 303h3v2h-3zM697 300h3v3h-3zM698 298h2v2h-2zM698 296h3v2h-3zM699 293h2v3h-2zM699 290h3v3h-3zM700 288h2v2h-2zM700 285h3v3h-3zM701 284h2v1h-2zM701 283h3v1h-3zM701 281h4v2h-4zM702 279h4v2h-4zM702 276h5v3h-5zM703 274h5v2h-5zM703 273h6v1h-6zM704 272h5v1h-5zM704 271h6v1h-6zM705 269h5v2h-5zM706 267h4v2h-4zM707 264h3v3h-3zM708 262h2v2h-2zM709 261h1v1h-1zM765 314h2v1h-2zM765 313h3v1h-3zM765 311h15v1h-15zM765 312h16v1h-16zM766 310h14v1h-14zM767 309h12v1h-12zM769 308h8v1h-8zM773 307h1v1h-1zM774 313h9v1h-9zM776 314h22v1h-22zM777 315h11v1h-11zM779 316h8v1h-8zM780 317h6v1h-6zM781 318h4v1h-4zM783 319h1v1h-1zM785 313h31v1h-31zM786 311h7v1h-7zM786 312h22v1h-22zM787 310h5v1h-5zM788 309h3v1h-3zM791 315h6v1h-6zM792 316h4v1h-4zM793 317h2v1h-2zM795 311h12v1h-12zM796 310h9v1h-9zM797 309h6v1h-6zM798 308h3v1h-3zM801 314h13v1h-13zM804 315h9v1h-9zM806 316h7v1h-7zM807 317h5v1h-5zM808 318h2v1h-2zM810 312h8v1h-8zM812 311h8v1h-8zM813 310h7v1h-7zM813 309h8v1h-8zM814 308h8v1h-8zM815 307h8v1h-8zM816 306h7v1h-7zM818 305h6v1h-6zM819 304h5v1h-5zM820 303h6v1h-6zM820 302h7v1h-7zM821 301h7v1h-7zM821 300h10v1h-10zM822 297h9v3h-9zM823 294h8v3h-8zM824 291h7v3h-7zM825 289h6v2h-6zM826 287h5v2h-5zM827 285h4v2h-4zM828 283h3v2h-3zM829 282h1v1h-1zM861 324h5v1h-5zM861 323h8v1h-8zM861 322h15v1h-15zM861 321h19v1h-19zM861 320h20v1h-20zM861 319h21v1h-21zM868 318h2v1h-2zM871 323h1v1h-1zM873 318h11v1h-11zM876 317h9v1h-9zM879 316h8v1h-8zM881 315h7v1h-7zM882 314h12v1h-12zM884 313h9v1h-9zM885 312h7v1h-7zM887 311h4v1h-4zM889 310h1v1h-1zM890 315h6v1h-6zM891 316h7v1h-7zM893 317h6v1h-6zM894 318h11v1h-11zM895 319h9v1h-9zM897 320h5v1h-5zM898 321h3v1h-3zM900 317h7v1h-7zM901 316h8v1h-8zM902 315h18v1h-18zM903 314h11v1h-11zM904 313h8v1h-8zM906 312h5v1h-5zM908 311h2v1h-2zM910 316h12v1h-12zM911 317h12v1h-12zM912 318h12v1h-12zM914 319h17v1h-17zM920 320h9v1h-9zM921 321h7v1h-7zM923 322h3v1h-3zM925 318h7v1h-7zM926 317h7v1h-7zM927 316h7v1h-7zM928 315h6v1h-6zM930 314h4v1h-4zM931 313h3v1h-3zM932 312h2v1h-2zM933 311h1v1h-1z"/>
<path fill="#ff4800" d="M133 319h1v1h-1zM133 318h2v1h-2zM133 317h6v1h-6zM133 314h7v3h-7zM134 313h6v1h-6zM136 312h4v1h-4zM164 315h10v1h-10zM164 319h14v1h-14zM164 318h15v1h-15zM164 317h16v1h-16zM164 316h35v1h-35zM165 314h2v1h-2zM169 320h8v1h-8zM174 321h2v1h-2zM176 315h21v1h-21zM177 314h16v1h-16zM178 313h12v1h-12zM179 312h10v1h-10zM180 311h7v1h-7zM183 310h3v1h-3zM184 317h26v1h-26zM186 318h24v1h-24zM189 319h21v1h-21zM190 320h2v1h-2zM197 320h13v1h-13zM198 321h6v1h-6zM200 322h2v1h-2zM202 316h8v1h-8zM204 315h6v1h-6zM260 322h1v1h-1zM260 397h2v1h-2zM260 321h4v1h-4zM260 317h12v1h-12zM260 318h13v1h-13zM260 319h14v1h-14zM260 320h15v1h-15zM262 316h9v1h-9zM263 315h7v1h-7zM264 314h5v1h-5zM265 313h2v1h-2zM268 321h7v1h-7zM269 322h7v1h-7zM271 323h7v1h-7zM272 324h9v1h-9zM273 325h19v1h-19zM274 327h16v1h-16zM274 326h17v1h-17zM275 328h13v1h-13zM276 329h11v1h-11zM282 324h12v1h-12zM285 323h11v1h-11zM287 322h11v1h-11zM288 321h11v1h-11zM290 320h10v1h-10zM290 319h11v1h-11zM291 318h11v1h-11zM292 317h11v1h-11zM293 316h12v1h-12zM295 315h11v1h-11zM297 314h10v1h-10zM298 313h10v1h-10zM299 312h9v1h-9zM300 311h9v1h-9zM301 310h9v1h-9zM303 309h8v1h-8zM306 308h5v1h-5zM307 307h8v1h-8zM308 306h13v1h-13zM309 304h11v2h-11zM310 303h9v1h-9zM311 302h8v1h-8zM312 301h6v1h-6zM314 299h3v1h-3zM314 300h4v1h-4zM315 296h2v3h-2zM316 293h1v3h-1zM317 308h28v1h-28zM317 307h29v1h-29zM318 310h25v1h-25zM318 309h26v1h-26zM319 311h17v1h-17zM320 312h5v1h-5zM321 313h1v1h-1zM322 305h35v2h-35zM324 304h6v1h-6zM325 303h3v1h-3zM330 312h3v1h-3zM335 304h22v1h-22zM336 303h20v1h-20zM342 302h13v1h-13zM343 300h11v2h-11zM344 298h9v2h-9zM345 295h7v1h-7zM345 296h8v2h-8zM346 292h6v3h-6zM348 307h9v1h-9zM349 291h3v1h-3zM349 308h8v1h-8zM350 397h7v1h-7zM351 396h3v1h-3zM351 309h6v1h-6zM352 310h5v1h-5zM354 311h3v1h-3zM356 312h1v1h-1zM391 302h2v1h-2zM391 303h3v1h-3zM391 304h5v1h-5zM391 305h16v2h-16zM391 307h17v2h-17zM391 309h18v1h-18zM391 310h19v2h-19zM391 312h20v1h-20zM393 313h18v1h-18zM395 314h6v1h-6zM398 304h7v1h-7zM400 303h3v1h-3zM407 314h10v2h-10zM408 316h9v1h-9zM409 317h8v2h-8zM410 319h7v1h-7zM411 320h6v1h-6zM412 321h2v1h-2zM436 312h1v1h-1zM436 320h3v1h-3zM436 319h4v1h-4zM436 318h5v1h-5zM436 317h6v1h-6zM436 315h7v2h-7zM436 313h8v2h-8zM437 321h1v1h-1zM438 312h7v1h-7zM439 311h7v1h-7zM440 310h6v1h-6zM441 309h6v1h-6zM442 308h18v1h-18zM443 306h15v1h-15zM443 307h16v1h-16zM444 305h12v1h-12zM445 303h5v1h-5zM445 304h7v1h-7zM446 302h3v1h-3zM447 301h1v1h-1zM448 309h13v1h-13zM449 310h24v1h-24zM451 311h22v1h-22zM454 312h20v1h-20zM455 396h6v1h-6zM455 397h17v1h-17zM456 394h3v1h-3zM456 395h4v1h-4zM456 313h18v1h-18zM457 393h1v1h-1zM458 314h17v1h-17zM461 315h7v1h-7zM463 396h8v1h-8zM464 394h6v1h-6zM464 395h7v1h-7zM465 393h4v1h-4zM465 309h7v1h-7zM466 392h2v1h-2zM467 391h1v1h-1zM469 308h2v1h-2zM470 315h6v1h-6zM472 316h4v1h-4zM473 317h4v1h-4zM473 318h5v1h-5zM474 319h4v1h-4zM475 320h4v1h-4zM476 321h4v2h-4zM477 323h4v1h-4zM478 324h19v1h-19zM479 326h10v1h-10zM479 325h13v1h-13zM479 397h18v1h-18zM480 327h7v1h-7zM480 396h16v1h-16zM482 328h2v1h-2zM482 395h13v1h-13zM484 394h10v1h-10zM484 323h37v1h-37zM486 393h8v1h-8zM486 322h26v1h-26zM487 392h6v1h-6zM489 321h20v1h-20zM493 320h8v1h-8zM497 319h1v1h-1zM498 324h22v1h-22zM500 325h19v1h-19zM509 397h26v1h-26zM510 326h9v1h-9zM510 396h26v1h-26zM511 395h26v1h-26zM513 327h5v1h-5zM518 321h4v2h-4zM518 394h26v1h-26zM519 320h8v1h-8zM519 393h25v1h-25zM520 319h15v1h-15zM520 392h24v1h-24zM521 317h11v1h-11zM521 318h13v1h-13zM521 391h23v1h-23zM522 316h8v1h-8zM522 390h21v1h-21zM526 315h2v1h-2zM528 320h9v1h-9zM530 321h8v1h-8zM533 322h5v1h-5zM533 389h9v1h-9zM534 323h5v1h-5zM534 388h8v1h-8zM535 324h5v1h-5zM535 325h6v1h-6zM535 387h6v1h-6zM536 386h4v1h-4zM536 326h6v1h-6zM537 385h2v1h-2zM537 327h7v1h-7zM538 328h6v1h-6zM539 329h5v1h-5zM539 395h5v1h-5zM540 330h4v1h-4zM540 396h4v1h-4zM541 397h3v1h-3zM542 331h1v1h-1zM543 326h1v1h-1zM558 318h3v1h-3zM558 317h6v1h-6zM558 316h8v1h-8zM558 313h13v1h-13zM558 314h14v1h-14zM558 315h27v1h-27zM560 312h10v1h-10zM563 311h7v1h-7zM565 310h4v1h-4zM567 309h1v1h-1zM568 316h14v1h-14zM569 317h11v1h-11zM570 318h9v1h-9zM571 319h5v1h-5zM572 320h2v1h-2zM575 314h10v1h-10zM578 313h6v1h-6zM579 312h5v1h-5zM581 311h3v1h-3zM582 310h1v1h-1zM583 316h3v1h-3zM584 317h2v1h-2zM584 318h3v2h-3zM585 320h4v2h-4zM586 322h3v2h-3zM587 325h1v1h-1zM587 324h2v1h-2zM648 328h1v1h-1zM648 327h3v1h-3zM648 326h4v1h-4zM648 325h5v1h-5zM648 324h6v1h-6zM648 323h7v1h-7zM648 322h8v1h-8zM649 321h8v1h-8zM651 320h14v1h-14zM652 319h11v1h-11zM654 318h8v1h-8zM655 317h6v1h-6zM656 316h4v1h-4zM658 315h1v1h-1zM659 321h8v1h-8zM660 322h11v1h-11zM661 323h9v1h-9zM663 324h7v1h-7zM665 325h4v1h-4zM667 326h1v1h-1zM668 321h3v1h-3zM669 320h3v1h-3zM670 319h3v1h-3zM670 318h26v1h-26zM671 317h11v1h-11zM672 315h7v1h-7zM672 316h8v1h-8zM673 314h3v1h-3zM673 397h7v1h-7zM675 396h4v1h-4zM675 319h21v1h-21zM678 320h17v1h-17zM680 321h14v1h-14zM681 322h10v1h-10zM683 323h1v1h-1zM686 317h11v1h-11zM690 316h8v1h-8zM693 315h5v1h-5zM694 314h5v1h-5zM695 312h4v2h-4zM696 310h4v2h-4zM697 309h3v1h-3zM697 308h4v1h-4zM698 306h3v2h-3zM699 305h2v1h-2zM699 303h3v2h-3zM700 300h2v3h-2zM700 298h3v2h-3zM701 296h2v2h-2zM701 295h3v1h-3zM701 294h6v1h-6zM701 293h8v1h-8zM702 290h7v3h-7zM702 288h8v2h-8zM703 284h7v4h-7zM704 283h6v1h-6zM705 281h5v2h-5zM706 279h4v2h-4zM707 276h3v3h-3zM708 274h2v2h-2zM709 272h1v2h-1zM765 319h1v1h-1zM765 318h3v1h-3zM765 315h12v1h-12zM765 316h14v1h-14zM765 317h15v1h-15zM767 314h9v1h-9zM768 313h6v1h-6zM772 318h9v1h-9zM774 319h9v1h-9zM776 320h13v1h-13zM777 321h11v1h-11zM778 322h9v1h-9zM779 323h7v1h-7zM780 324h5v1h-5zM784 319h36v1h-36zM785 318h23v1h-23zM786 317h7v1h-7zM787 316h5v1h-5zM788 315h3v1h-3zM790 320h25v1h-25zM791 321h7v1h-7zM792 322h4v1h-4zM795 317h12v1h-12zM796 316h10v1h-10zM797 315h7v1h-7zM798 314h3v1h-3zM805 321h8v1h-8zM806 322h7v1h-7zM808 323h3v1h-3zM810 318h11v1h-11zM812 317h10v1h-10zM813 316h10v1h-10zM813 315h11v1h-11zM814 314h12v1h-12zM816 313h12v1h-12zM818 312h13v1h-13zM820 310h11v2h-11zM821 309h10v1h-10zM822 308h9v1h-9zM823 306h8v2h-8zM824 304h7v2h-7zM826 303h5v1h-5zM827 302h4v1h-4zM828 301h3v1h-3zM861 329h6v1h-6zM861 328h11v1h-11zM861 327h14v1h-14zM861 326h19v1h-19zM861 325h20v1h-20zM862 330h3v1h-3zM866 324h17v1h-17zM869 323h2v1h-2zM872 323h12v1h-12zM876 322h9v1h-9zM880 321h6v1h-6zM881 320h7v1h-7zM882 397h4v1h-4zM882 319h7v1h-7zM884 396h1v1h-1zM884 318h10v1h-10zM885 317h8v1h-8zM887 316h4v1h-4zM888 315h2v1h-2zM890 319h5v1h-5zM891 320h6v1h-6zM892 321h6v1h-6zM894 322h14v1h-14zM895 323h11v1h-11zM896 324h8v1h-8zM898 325h4v1h-4zM899 326h1v1h-1zM901 321h8v1h-8zM902 320h18v1h-18zM904 319h10v1h-10zM905 318h7v1h-7zM907 317h4v1h-4zM909 316h1v1h-1zM910 321h11v1h-11zM911 322h12v1h-12zM912 323h21v1h-21zM914 324h18v1h-18zM915 325h15v1h-15zM920 326h9v1h-9zM922 327h5v1h-5zM924 328h1v1h-1zM926 322h8v1h-8zM928 321h6v1h-6zM929 320h5v1h-5zM931 319h3v1h-3zM932 318h2v1h-2zM933 317h1v1h-1z"/>
<path fill="#ff2f00" d="M133 325h1v1h-1zM133 388h1v1h-1zM133 323h2v2h-2zM133 389h2v1h-2zM133 390h3v3h-3zM133 393h4v2h-4zM133 395h5v1h-5zM133 396h6v2h-6zM133 320h7v3h-7zM134 319h6v1h-6zM135 318h5v1h-5zM139 317h1v1h-1zM164 325h1v1h-1zM164 395h2v1h-2zM164 396h3v1h-3zM164 397h4v1h-4zM164 320h5v1h-5zM164 321h10v1h-10zM164 324h15v1h-15zM164 323h16v1h-16zM164 322h36v1h-36zM165 394h1v1h-1zM166 325h12v1h-12zM170 326h7v1h-7zM174 327h2v1h-2zM176 321h22v1h-22zM177 397h3v1h-3zM177 320h13v1h-13zM178 396h2v1h-2zM178 319h11v1h-11zM179 395h1v1h-1zM179 318h7v1h-7zM180 317h4v1h-4zM182 323h28v1h-28zM183 324h27v1h-27zM185 325h10v1h-10zM188 326h5v1h-5zM192 320h5v1h-5zM196 325h14v1h-14zM197 326h13v1h-13zM198 327h6v1h-6zM199 328h4v1h-4zM202 322h8v1h-8zM204 321h6v1h-6zM260 384h2v1h-2zM260 385h4v1h-4zM260 386h5v1h-5zM260 387h6v1h-6zM260 388h10v1h-10zM260 323h11v1h-11zM260 324h12v1h-12zM260 325h13v1h-13zM260 389h13v1h-13zM260 326h14v2h-14zM260 328h15v1h-15zM260 390h16v1h-16zM260 391h17v2h-17zM260 393h18v1h-18zM260 394h19v1h-19zM260 395h20v1h-20zM260 396h21v1h-21zM261 322h8v1h-8zM262 397h78v1h-78zM264 321h4v1h-4zM268 329h8v1h-8zM271 330h26v1h-26zM272 331h23v1h-23zM273 332h20v1h-20zM274 333h17v1h-17zM275 335h13v1h-13zM275 334h15v1h-15zM282 395h14v1h-14zM282 396h57v1h-57zM283 393h10v1h-10zM283 394h11v1h-11zM284 391h6v1h-6zM284 392h8v1h-8zM285 390h4v1h-4zM286 389h1v1h-1zM287 329h12v1h-12zM288 328h13v1h-13zM290 327h12v1h-12zM291 326h12v1h-12zM292 325h12v1h-12zM294 324h10v1h-10zM296 323h9v1h-9zM298 322h8v1h-8zM298 395h18v1h-18zM299 321h8v1h-8zM300 320h7v1h-7zM301 319h7v1h-7zM302 318h7v1h-7zM302 393h12v1h-12zM302 394h13v1h-13zM303 317h6v1h-6zM303 391h8v1h-8zM303 392h9v1h-9zM304 390h6v1h-6zM305 388h3v1h-3zM305 389h4v1h-4zM305 316h5v1h-5zM306 387h1v1h-1zM306 315h5v1h-5zM307 314h50v1h-50zM308 312h12v1h-12zM308 313h13v1h-13zM309 311h10v1h-10zM310 310h8v1h-8zM311 308h6v1h-6zM311 309h7v1h-7zM314 315h43v1h-43zM315 307h2v1h-2zM316 316h41v1h-41zM317 317h40v1h-40zM318 318h28v1h-28zM319 319h16v1h-16zM320 320h10v1h-10zM321 321h1v1h-1zM322 313h35v1h-35zM325 312h5v1h-5zM327 395h11v1h-11zM330 394h7v1h-7zM333 312h23v1h-23zM336 311h18v1h-18zM340 319h3v1h-3zM342 397h8v1h-8zM343 396h8v1h-8zM343 310h9v1h-9zM343 394h14v2h-14zM344 309h7v1h-7zM344 392h13v2h-13zM345 308h4v1h-4zM345 390h12v2h-12zM346 307h2v1h-2zM346 389h11v1h-11zM347 318h10v1h-10zM347 388h10v1h-10zM348 387h8v1h-8zM348 319h9v1h-9zM349 320h8v1h-8zM350 386h3v1h-3zM350 321h6v1h-6zM351 323h1v1h-1zM351 322h3v1h-3zM354 396h3v1h-3zM391 323h1v1h-1zM391 313h2v1h-2zM391 314h4v1h-4zM391 315h16v1h-16zM391 316h17v1h-17zM391 317h18v2h-18zM391 319h19v1h-19zM391 320h20v1h-20zM391 321h21v1h-21zM391 322h26v1h-26zM393 323h24v1h-24zM394 324h11v1h-11zM394 397h19v1h-19zM396 396h8v1h-8zM399 325h3v1h-3zM401 314h6v1h-6zM408 324h9v1h-9zM409 325h8v1h-8zM410 326h7v1h-7zM412 327h5v1h-5zM414 321h3v1h-3zM436 321h1v1h-1zM436 329h2v1h-2zM436 328h4v1h-4zM436 327h5v1h-5zM436 326h6v1h-6zM436 324h7v2h-7zM436 322h8v2h-8zM436 396h19v2h-19zM438 321h7v1h-7zM439 320h6v1h-6zM440 319h6v1h-6zM441 318h5v1h-5zM442 395h14v1h-14zM442 317h31v1h-31zM443 394h13v1h-13zM443 315h18v1h-18zM443 316h29v1h-29zM444 313h12v1h-12zM444 393h13v1h-13zM444 314h14v1h-14zM445 312h9v1h-9zM445 392h21v1h-21zM446 310h3v1h-3zM446 311h5v1h-5zM446 391h21v1h-21zM447 309h1v1h-1zM447 390h75v1h-75zM450 389h83v1h-83zM451 318h22v1h-22zM452 388h82v1h-82zM453 386h20v1h-20zM453 319h21v1h-21zM453 387h22v1h-22zM454 384h17v1h-17zM454 385h18v1h-18zM455 381h5v2h-5zM455 383h6v1h-6zM455 320h20v1h-20zM456 379h2v1h-2zM456 380h3v1h-3zM456 321h4v1h-4zM457 378h1v1h-1zM458 393h7v1h-7zM459 394h5v1h-5zM460 395h4v1h-4zM461 396h2v1h-2zM463 383h7v1h-7zM464 382h5v1h-5zM464 321h12v1h-12zM465 381h4v1h-4zM466 380h2v1h-2zM468 315h2v1h-2zM468 392h19v1h-19zM468 391h53v1h-53zM469 393h17v1h-17zM470 322h6v1h-6zM470 394h14v1h-14zM471 323h6v1h-6zM471 396h9v1h-9zM471 395h11v1h-11zM472 324h6v1h-6zM472 397h7v1h-7zM473 325h6v1h-6zM474 326h5v1h-5zM476 327h4v1h-4zM477 328h5v1h-5zM478 387h27v1h-27zM478 329h43v1h-43zM479 330h13v1h-13zM480 331h10v1h-10zM480 386h17v1h-17zM481 332h6v1h-6zM481 385h15v1h-15zM482 384h13v1h-13zM484 383h10v1h-10zM484 328h37v1h-37zM485 382h8v1h-8zM486 381h5v1h-5zM487 380h1v1h-1zM487 327h26v1h-26zM489 326h21v1h-21zM492 325h8v1h-8zM493 392h27v1h-27zM494 394h24v1h-24zM494 393h25v1h-25zM495 395h16v1h-16zM496 396h14v1h-14zM497 324h1v1h-1zM497 397h12v1h-12zM499 330h21v1h-21zM501 386h2v1h-2zM502 331h1v1h-1zM509 387h26v1h-26zM510 331h9v1h-9zM511 386h25v1h-25zM514 332h4v1h-4zM514 385h23v1h-23zM518 327h4v1h-4zM518 384h26v1h-26zM519 326h5v1h-5zM519 325h16v1h-16zM519 383h25v1h-25zM520 324h15v1h-15zM520 381h24v2h-24zM521 323h13v1h-13zM521 380h23v1h-23zM522 379h2v1h-2zM522 321h8v1h-8zM522 322h11v1h-11zM527 320h1v1h-1zM529 326h7v1h-7zM532 327h5v1h-5zM533 328h5v1h-5zM533 379h11v1h-11zM534 329h5v1h-5zM534 377h7v1h-7zM534 378h8v1h-8zM535 330h5v1h-5zM535 376h6v1h-6zM536 375h4v1h-4zM536 331h6v1h-6zM536 332h8v1h-8zM537 374h1v1h-1zM537 333h7v1h-7zM538 334h6v1h-6zM539 335h5v1h-5zM539 385h5v1h-5zM540 386h4v1h-4zM541 336h2v1h-2zM541 387h3v1h-3zM542 388h2v2h-2zM543 331h1v1h-1zM543 390h1v1h-1zM558 396h2v1h-2zM558 324h4v1h-4zM558 323h7v1h-7zM558 322h9v1h-9zM558 319h13v1h-13zM558 320h14v1h-14zM558 321h27v1h-27zM558 397h27v1h-27zM561 318h9v1h-9zM564 317h5v1h-5zM566 316h2v1h-2zM568 322h14v1h-14zM569 323h11v1h-11zM569 396h16v1h-16zM570 324h8v1h-8zM571 325h5v1h-5zM571 395h13v1h-13zM572 326h2v1h-2zM574 394h9v1h-9zM574 320h11v1h-11zM576 319h8v1h-8zM577 393h5v1h-5zM579 318h5v1h-5zM580 317h4v1h-4zM582 316h1v1h-1zM583 322h3v1h-3zM584 323h2v1h-2zM584 324h3v1h-3zM585 325h2v1h-2zM585 326h4v1h-4zM586 327h3v2h-3zM587 329h2v1h-2zM588 325h1v1h-1zM648 335h1v1h-1zM648 384h1v1h-1zM648 334h2v1h-2zM648 385h2v2h-2zM648 333h3v1h-3zM648 387h3v1h-3zM648 332h4v1h-4zM648 388h4v1h-4zM648 331h5v1h-5zM648 389h5v1h-5zM648 330h6v1h-6zM648 329h7v1h-7zM648 390h11v1h-11zM648 391h12v1h-12zM648 392h14v1h-14zM648 393h15v1h-15zM648 397h25v1h-25zM648 396h27v1h-27zM648 394h53v1h-53zM648 395h54v1h-54zM649 328h7v1h-7zM651 327h6v1h-6zM652 326h15v1h-15zM653 325h12v1h-12zM654 324h9v1h-9zM655 323h6v1h-6zM656 322h4v1h-4zM657 321h2v1h-2zM659 327h12v1h-12zM661 328h9v1h-9zM663 329h7v1h-7zM665 330h4v1h-4zM667 331h2v1h-2zM668 326h4v1h-4zM668 393h33v1h-33zM669 325h3v1h-3zM669 392h31v1h-31zM670 324h3v1h-3zM670 323h13v1h-13zM670 390h18v1h-18zM670 391h23v1h-23zM671 321h9v1h-9zM671 322h10v1h-10zM671 389h13v1h-13zM672 320h6v1h-6zM672 387h10v1h-10zM672 388h11v1h-11zM673 319h2v1h-2zM673 386h8v1h-8zM674 385h6v1h-6zM675 324h23v1h-23zM676 384h4v1h-4zM677 383h2v1h-2zM677 325h20v1h-20zM678 326h18v1h-18zM679 396h24v1h-24zM680 327h15v1h-15zM680 397h30v1h-30zM683 328h2v1h-2zM684 323h15v1h-15zM691 322h8v1h-8zM694 321h6v1h-6zM695 320h5v1h-5zM696 391h3v1h-3zM696 319h4v1h-4zM696 318h5v1h-5zM697 317h4v1h-4zM698 315h4v2h-4zM699 313h3v2h-3zM699 312h4v1h-4zM700 309h3v3h-3zM701 307h8v2h-8zM701 305h9v2h-9zM702 300h8v5h-8zM703 296h7v4h-7zM704 295h6v1h-6zM704 396h6v1h-6zM705 395h5v1h-5zM706 394h4v1h-4zM707 294h3v1h-3zM707 393h3v1h-3zM708 392h1v1h-1zM709 290h1v4h-1zM765 324h1v1h-1zM765 323h2v1h-2zM765 322h3v1h-3zM765 393h6v1h-6zM765 394h7v1h-7zM765 395h8v1h-8zM765 320h11v1h-11zM765 321h12v1h-12zM765 396h15v1h-15zM765 397h17v1h-17zM766 392h4v1h-4zM766 319h8v1h-8zM768 391h1v1h-1zM768 318h4v1h-4zM769 322h9v1h-9zM772 323h7v1h-7zM773 324h7v1h-7zM774 325h50v1h-50zM775 326h27v1h-27zM776 327h12v1h-12zM777 395h2v1h-2zM777 328h10v1h-10zM778 329h8v1h-8zM780 330h5v1h-5zM785 324h45v1h-45zM786 323h22v1h-22zM787 322h5v1h-5zM787 397h31v1h-31zM788 321h3v1h-3zM788 396h11v1h-11zM789 320h1v1h-1zM791 327h7v1h-7zM793 328h2v1h-2zM796 322h10v1h-10zM798 321h7v1h-7zM804 326h17v1h-17zM805 396h13v1h-13zM806 327h7v1h-7zM806 394h10v1h-10zM806 395h11v1h-11zM807 328h5v1h-5zM807 393h9v1h-9zM808 329h2v1h-2zM808 392h7v1h-7zM810 391h5v1h-5zM811 323h20v1h-20zM813 321h18v2h-18zM815 320h16v1h-16zM820 319h11v1h-11zM821 318h10v1h-10zM822 317h9v1h-9zM823 316h8v1h-8zM824 315h7v1h-7zM826 314h5v1h-5zM828 313h3v1h-3zM861 330h1v1h-1zM861 388h1v1h-1zM861 389h2v1h-2zM861 390h4v1h-4zM861 335h5v1h-5zM861 334h7v1h-7zM861 333h11v1h-11zM861 332h19v1h-19zM861 331h20v1h-20zM861 397h21v1h-21zM861 396h23v1h-23zM861 391h39v1h-39zM861 392h40v1h-40zM861 393h41v2h-41zM861 395h42v1h-42zM863 336h2v1h-2zM865 330h17v1h-17zM867 329h17v1h-17zM871 390h27v1h-27zM872 328h13v1h-13zM872 389h17v1h-17zM875 327h11v1h-11zM880 326h7v1h-7zM881 388h6v1h-6zM881 325h7v1h-7zM882 387h4v1h-4zM883 324h6v1h-6zM884 386h1v1h-1zM884 323h11v1h-11zM885 322h9v1h-9zM885 396h19v1h-19zM886 321h6v1h-6zM886 397h48v1h-48zM888 320h3v1h-3zM889 319h1v1h-1zM890 324h6v1h-6zM891 389h6v1h-6zM891 325h7v1h-7zM892 326h7v1h-7zM893 388h2v1h-2zM893 327h15v1h-15zM894 328h13v1h-13zM896 329h9v1h-9zM897 330h6v1h-6zM899 331h1v1h-1zM900 326h20v1h-20zM902 325h13v1h-13zM904 324h10v1h-10zM906 323h6v1h-6zM908 322h3v1h-3zM909 321h1v1h-1zM911 327h11v1h-11zM911 396h23v1h-23zM912 328h12v1h-12zM913 395h20v1h-20zM913 329h21v1h-21zM914 330h18v1h-18zM915 394h18v1h-18zM916 393h16v1h-16zM917 391h14v1h-14zM917 392h15v1h-15zM918 390h6v1h-6zM918 331h12v1h-12zM919 388h1v1h-1zM919 389h3v1h-3zM920 332h8v1h-8zM923 333h3v1h-3zM925 328h9v1h-9zM926 390h5v1h-5zM927 327h7v1h-7zM928 389h2v1h-2zM929 326h5v1h-5zM930 325h4v1h-4zM932 324h2v1h-2zM933 323h1v1h-1z"/>
<path fill="#ff1600" d="M133 332h1v2h-1zM133 331h2v1h-2zM133 371h3v2h-3zM133 330h4v1h-4zM133 373h4v3h-4zM133 376h5v3h-5zM133 329h6v1h-6zM133 379h6v3h-6zM133 326h7v3h-7zM133 382h7v6h-7zM134 325h6v1h-6zM134 388h6v1h-6zM135 323h5v2h-5zM135 389h5v1h-5zM136 390h4v3h-4zM137 393h3v2h-3zM138 395h2v1h-2zM139 396h1v2h-1zM164 394h1v1h-1zM164 384h2v1h-2zM164 385h3v1h-3zM164 386h4v1h-4zM164 387h5v2h-5zM164 326h6v1h-6zM164 389h6v1h-6zM164 327h10v1h-10zM164 331h16v1h-16zM164 390h16v4h-16zM164 328h35v1h-35zM164 329h46v2h-46zM165 325h1v1h-1zM166 395h13v1h-13zM166 394h14v1h-14zM167 396h11v1h-11zM168 397h9v1h-9zM171 332h8v1h-8zM171 389h9v1h-9zM172 388h8v1h-8zM173 333h4v1h-4zM173 387h7v1h-7zM174 386h6v1h-6zM175 334h1v1h-1zM175 385h5v1h-5zM176 384h4v1h-4zM176 327h22v1h-22zM177 383h3v1h-3zM177 326h11v1h-11zM178 382h2v1h-2zM178 325h7v1h-7zM179 381h1v1h-1zM179 324h4v1h-4zM180 323h2v1h-2zM182 331h13v1h-13zM183 332h10v1h-10zM185 333h7v1h-7zM193 326h4v1h-4zM195 325h1v1h-1zM196 331h14v1h-14zM197 332h13v1h-13zM198 333h7v1h-7zM199 334h5v1h-5zM200 335h2v1h-2zM203 328h7v1h-7zM204 327h6v1h-6zM260 371h1v1h-1zM260 372h4v1h-4zM260 373h7v1h-7zM260 329h8v1h-8zM260 374h9v1h-9zM260 330h11v1h-11zM260 331h12v1h-12zM260 332h13v1h-13zM260 333h14v1h-14zM260 334h15v2h-15zM260 375h20v2h-20zM260 377h21v1h-21zM260 378h32v1h-32zM260 379h33v1h-33zM260 380h35v1h-35zM260 381h36v1h-36zM260 382h56v1h-56zM260 383h59v1h-59zM262 384h95v1h-95zM264 385h93v1h-93zM265 336h35v1h-35zM265 386h85v1h-85zM266 387h40v1h-40zM270 388h35v1h-35zM271 337h26v1h-26zM272 374h7v1h-7zM272 338h23v1h-23zM273 373h6v1h-6zM273 389h13v1h-13zM273 339h20v1h-20zM274 371h4v2h-4zM274 340h17v1h-17zM275 369h2v1h-2zM275 370h3v1h-3zM275 342h5v1h-5zM275 341h15v1h-15zM276 368h1v1h-1zM276 390h9v1h-9zM277 391h7v2h-7zM278 393h5v1h-5zM279 394h4v1h-4zM280 395h2v1h-2zM281 396h1v1h-1zM282 376h8v1h-8zM282 377h9v1h-9zM283 374h6v1h-6zM283 375h7v1h-7zM284 342h3v1h-3zM284 372h4v1h-4zM284 373h5v1h-5zM285 370h2v1h-2zM285 371h3v1h-3zM286 369h1v1h-1zM287 389h18v1h-18zM288 335h14v1h-14zM289 390h15v1h-15zM290 334h12v1h-12zM290 391h13v1h-13zM291 333h12v1h-12zM292 392h11v1h-11zM293 393h9v1h-9zM293 332h11v1h-11zM294 394h8v1h-8zM295 331h10v1h-10zM296 395h2v1h-2zM297 330h9v1h-9zM297 381h18v1h-18zM298 380h16v1h-16zM299 329h7v1h-7zM300 379h13v1h-13zM301 328h6v1h-6zM301 378h12v1h-12zM302 327h5v1h-5zM302 377h10v1h-10zM303 326h5v1h-5zM303 376h8v1h-8zM304 324h5v2h-5zM304 375h6v1h-6zM305 374h3v1h-3zM305 323h5v1h-5zM306 322h4v1h-4zM307 321h4v1h-4zM307 320h13v1h-13zM307 387h41v1h-41zM308 319h11v1h-11zM308 388h39v1h-39zM309 317h8v1h-8zM309 318h9v1h-9zM309 389h37v1h-37zM310 316h6v1h-6zM310 390h35v1h-35zM311 315h3v1h-3zM311 391h34v1h-34zM312 321h9v1h-9zM312 392h32v1h-32zM314 393h30v1h-30zM314 322h37v1h-37zM315 394h15v1h-15zM315 323h36v1h-36zM315 324h42v1h-42zM316 395h11v1h-11zM316 325h41v1h-41zM318 326h39v1h-39zM319 327h14v1h-14zM321 328h7v1h-7zM322 321h28v1h-28zM323 383h34v1h-34zM325 382h3v1h-3zM330 320h19v1h-19zM333 382h24v1h-24zM334 381h23v1h-23zM335 319h5v1h-5zM335 380h5v1h-5zM336 379h2v1h-2zM337 394h6v1h-6zM338 395h5v1h-5zM339 396h4v1h-4zM339 327h18v1h-18zM340 397h2v1h-2zM342 380h15v1h-15zM343 319h5v1h-5zM343 379h14v1h-14zM344 378h12v1h-12zM345 377h10v1h-10zM346 318h1v1h-1zM346 376h7v1h-7zM348 328h9v1h-9zM349 329h6v1h-6zM351 330h2v1h-2zM352 323h5v1h-5zM353 386h4v1h-4zM354 322h3v1h-3zM356 321h1v1h-1zM356 387h1v1h-1zM391 331h1v1h-1zM391 324h3v1h-3zM391 397h3v1h-3zM391 396h5v1h-5zM391 325h8v1h-8zM391 383h13v1h-13zM391 326h19v1h-19zM391 327h21v1h-21zM391 384h23v1h-23zM391 385h24v1h-24zM391 386h25v1h-25zM391 328h26v3h-26zM391 387h26v9h-26zM392 323h1v1h-1zM393 382h9v1h-9zM393 331h11v1h-11zM396 381h2v1h-2zM396 332h6v1h-6zM402 325h7v1h-7zM404 396h13v1h-13zM405 324h3v1h-3zM409 383h4v1h-4zM409 331h8v1h-8zM411 382h1v1h-1zM411 332h6v1h-6zM413 397h4v1h-4zM415 333h2v1h-2zM436 336h4v1h-4zM436 334h6v2h-6zM436 395h6v1h-6zM436 333h7v1h-7zM436 394h7v1h-7zM436 331h8v2h-8zM436 393h8v1h-8zM436 330h9v1h-9zM436 392h9v1h-9zM436 391h10v1h-10zM436 390h11v1h-11zM436 389h14v1h-14zM436 388h16v1h-16zM436 386h17v2h-17zM436 384h18v2h-18zM436 383h19v1h-19zM437 337h1v1h-1zM438 329h7v1h-7zM439 382h16v1h-16zM440 328h6v1h-6zM440 381h15v1h-15zM441 327h5v1h-5zM441 379h15v2h-15zM442 326h5v1h-5zM443 324h29v1h-29zM443 325h30v1h-30zM444 322h26v1h-26zM444 323h27v1h-27zM445 320h10v1h-10zM445 321h11v1h-11zM446 318h5v1h-5zM446 319h7v1h-7zM449 378h8v1h-8zM450 377h27v1h-27zM451 376h24v1h-24zM452 375h21v1h-21zM453 373h18v1h-18zM453 374h19v1h-19zM453 326h21v1h-21zM454 371h7v1h-7zM454 327h8v1h-8zM454 372h16v1h-16zM455 328h5v1h-5zM455 370h5v1h-5zM456 329h2v1h-2zM456 368h2v1h-2zM456 369h3v1h-3zM458 379h64v1h-64zM458 378h76v1h-76zM459 380h7v1h-7zM460 321h4v1h-4zM460 382h4v1h-4zM460 381h5v1h-5zM461 383h2v1h-2zM463 327h13v1h-13zM464 371h5v1h-5zM465 328h12v1h-12zM466 370h2v1h-2zM467 329h11v1h-11zM468 380h19v1h-19zM469 382h16v1h-16zM469 381h17v1h-17zM470 383h14v1h-14zM471 330h8v1h-8zM471 384h11v1h-11zM472 331h8v1h-8zM472 385h9v1h-9zM473 386h7v1h-7zM474 332h7v1h-7zM475 387h3v1h-3zM476 333h46v1h-46zM478 377h28v1h-28zM478 334h43v1h-43zM479 335h17v1h-17zM479 376h26v1h-26zM480 336h10v1h-10zM480 375h16v1h-16zM481 337h7v1h-7zM482 374h13v1h-13zM483 373h11v1h-11zM484 372h9v1h-9zM485 371h6v1h-6zM486 370h3v1h-3zM487 332h27v1h-27zM488 380h33v1h-33zM490 331h12v1h-12zM491 381h29v1h-29zM492 330h7v1h-7zM493 382h27v1h-27zM494 383h25v1h-25zM495 384h23v1h-23zM496 385h18v1h-18zM497 386h4v1h-4zM498 335h22v1h-22zM500 375h4v1h-4zM501 336h3v1h-3zM503 331h7v1h-7zM503 386h8v1h-8zM505 387h4v1h-4zM510 336h9v1h-9zM510 377h24v1h-24zM513 376h22v1h-22zM514 337h4v1h-4zM516 375h20v1h-20zM518 332h7v1h-7zM518 374h19v1h-19zM519 331h17v1h-17zM519 372h25v2h-25zM520 330h15v1h-15zM520 371h24v1h-24zM521 328h12v1h-12zM521 329h13v1h-13zM522 370h4v1h-4zM522 327h10v1h-10zM524 326h5v1h-5zM524 379h9v1h-9zM529 332h7v1h-7zM530 370h14v1h-14zM532 333h5v1h-5zM533 334h5v1h-5zM533 369h11v1h-11zM534 335h5v1h-5zM534 368h10v1h-10zM535 336h6v1h-6zM535 367h9v1h-9zM536 366h6v1h-6zM536 337h8v2h-8zM537 364h1v1h-1zM537 365h4v1h-4zM537 339h7v1h-7zM538 340h6v1h-6zM538 374h6v1h-6zM540 341h4v1h-4zM540 375h4v1h-4zM541 376h3v2h-3zM542 378h2v1h-2zM543 336h1v1h-1zM558 330h6v1h-6zM558 329h8v1h-8zM558 325h13v1h-13zM558 395h13v1h-13zM558 326h14v1h-14zM558 394h16v1h-16zM558 393h19v1h-19zM558 328h24v1h-24zM558 386h27v1h-27zM558 327h28v1h-28zM558 387h28v1h-28zM558 388h29v2h-29zM558 390h31v3h-31zM560 396h9v1h-9zM561 385h24v1h-24zM562 324h8v1h-8zM565 323h4v1h-4zM566 384h18v1h-18zM567 322h1v1h-1zM568 329h12v1h-12zM569 330h9v1h-9zM571 331h5v1h-5zM572 332h2v1h-2zM573 383h10v1h-10zM574 326h11v1h-11zM576 325h9v1h-9zM578 324h6v1h-6zM580 323h4v1h-4zM582 322h1v1h-1zM582 393h7v1h-7zM583 328h3v1h-3zM583 394h6v1h-6zM584 329h3v1h-3zM584 330h5v1h-5zM584 395h5v1h-5zM585 331h4v2h-4zM585 396h4v2h-4zM586 333h3v1h-3zM587 334h2v1h-2zM648 341h1v1h-1zM648 367h1v2h-1zM648 340h2v1h-2zM648 369h2v2h-2zM648 371h3v1h-3zM648 339h4v1h-4zM648 372h4v2h-4zM648 338h5v1h-5zM648 374h5v1h-5zM648 337h6v1h-6zM648 375h6v1h-6zM648 336h7v1h-7zM648 376h7v1h-7zM648 377h8v1h-8zM648 378h10v1h-10zM648 379h11v1h-11zM648 380h12v1h-12zM648 381h13v1h-13zM648 382h15v1h-15zM648 383h29v1h-29zM649 335h7v1h-7zM649 384h27v1h-27zM650 334h6v1h-6zM650 386h23v1h-23zM650 385h24v1h-24zM651 333h6v1h-6zM651 387h21v1h-21zM652 332h20v1h-20zM652 388h20v1h-20zM653 331h14v1h-14zM653 389h18v1h-18zM654 330h11v1h-11zM655 329h8v1h-8zM656 328h5v1h-5zM657 327h2v1h-2zM659 390h11v1h-11zM660 391h10v1h-10zM660 333h11v1h-11zM662 392h7v1h-7zM662 334h8v1h-8zM663 393h5v1h-5zM665 335h4v1h-4zM665 382h36v1h-36zM667 336h2v1h-2zM668 381h24v1h-24zM669 331h3v1h-3zM669 330h4v1h-4zM669 380h19v1h-19zM670 328h13v1h-13zM670 378h15v1h-15zM670 379h16v1h-16zM670 329h29v1h-29zM671 327h9v1h-9zM671 377h12v1h-12zM672 325h5v1h-5zM672 326h6v1h-6zM672 376h10v1h-10zM673 324h2v1h-2zM673 375h9v1h-9zM674 374h7v1h-7zM675 373h5v1h-5zM675 330h23v1h-23zM676 372h4v1h-4zM676 331h21v1h-21zM677 332h19v1h-19zM678 371h1v1h-1zM678 333h8v1h-8zM679 383h22v1h-22zM680 384h22v1h-22zM680 385h23v1h-23zM681 386h29v1h-29zM682 387h28v1h-28zM683 388h27v1h-27zM684 389h26v1h-26zM685 328h15v1h-15zM688 390h22v1h-22zM690 333h4v1h-4zM693 391h3v1h-3zM695 327h6v1h-6zM696 381h4v1h-4zM696 326h6v1h-6zM697 325h6v1h-6zM698 380h1v1h-1zM698 324h5v1h-5zM699 323h5v1h-5zM699 322h10v1h-10zM699 391h11v1h-11zM700 392h8v1h-8zM700 321h9v1h-9zM700 319h10v2h-10zM701 394h5v1h-5zM701 393h6v1h-6zM701 317h9v2h-9zM702 395h3v1h-3zM702 313h8v4h-8zM703 396h1v1h-1zM703 309h7v4h-7zM704 385h6v1h-6zM705 384h5v1h-5zM706 383h4v1h-4zM707 382h3v1h-3zM709 307h1v2h-1zM709 392h1v1h-1zM765 331h1v1h-1zM765 392h1v1h-1zM765 329h2v2h-2zM765 328h3v1h-3zM765 391h3v1h-3zM765 383h5v1h-5zM765 384h6v1h-6zM765 385h7v1h-7zM765 386h8v1h-8zM765 325h9v1h-9zM765 326h10v1h-10zM765 327h11v1h-11zM765 387h54v1h-54zM765 388h56v1h-56zM765 389h66v2h-66zM766 324h7v1h-7zM767 323h5v1h-5zM768 322h1v1h-1zM769 391h41v1h-41zM770 328h7v1h-7zM770 392h38v1h-38zM771 329h7v1h-7zM771 393h36v1h-36zM772 394h34v1h-34zM773 395h4v1h-4zM773 330h7v1h-7zM774 331h57v1h-57zM775 386h21v1h-21zM775 332h24v1h-24zM776 385h7v1h-7zM776 333h12v1h-12zM777 384h5v1h-5zM777 334h10v1h-10zM778 383h3v1h-3zM778 335h8v1h-8zM779 336h5v1h-5zM779 395h27v1h-27zM780 396h8v1h-8zM782 397h5v1h-5zM785 330h46v1h-46zM786 385h5v1h-5zM786 329h22v1h-22zM787 328h6v1h-6zM788 327h3v1h-3zM791 333h5v1h-5zM795 328h12v1h-12zM798 327h8v1h-8zM799 396h6v1h-6zM802 326h2v1h-2zM804 386h14v1h-14zM805 385h13v1h-13zM805 332h26v1h-26zM806 384h11v1h-11zM807 333h6v1h-6zM807 383h9v1h-9zM808 334h3v1h-3zM808 382h8v1h-8zM809 381h6v1h-6zM810 329h21v1h-21zM812 380h2v1h-2zM812 328h19v1h-19zM813 327h18v1h-18zM815 391h16v2h-16zM816 393h15v2h-15zM817 333h4v1h-4zM817 395h14v1h-14zM818 396h13v2h-13zM821 326h10v1h-10zM824 325h7v1h-7zM825 388h6v1h-6zM826 387h5v1h-5zM827 386h4v1h-4zM828 385h3v1h-3zM829 384h2v1h-2zM830 324h1v1h-1zM861 371h1v1h-1zM861 336h2v1h-2zM861 372h2v1h-2zM861 373h3v2h-3zM861 341h4v1h-4zM861 375h5v1h-5zM861 340h6v1h-6zM861 376h7v1h-7zM861 339h8v1h-8zM861 338h11v1h-11zM861 337h13v1h-13zM861 377h15v1h-15zM861 378h17v1h-17zM861 387h21v1h-21zM861 386h23v1h-23zM861 379h28v1h-28zM861 380h38v1h-38zM861 381h39v1h-39zM861 382h41v1h-41zM861 383h43v1h-43zM861 384h73v2h-73zM862 388h19v1h-19zM863 389h9v1h-9zM865 390h6v1h-6zM865 336h17v1h-17zM866 335h18v1h-18zM868 334h17v1h-17zM871 376h2v1h-2zM872 333h14v1h-14zM875 337h6v1h-6zM880 332h7v1h-7zM880 378h7v1h-7zM881 331h7v1h-7zM882 377h4v1h-4zM882 330h7v1h-7zM884 329h12v1h-12zM885 328h9v1h-9zM885 386h49v1h-49zM886 327h7v1h-7zM886 387h48v1h-48zM887 326h5v1h-5zM887 388h6v1h-6zM888 325h3v1h-3zM889 324h1v1h-1zM889 389h2v1h-2zM890 330h7v1h-7zM890 379h8v1h-8zM891 378h6v1h-6zM891 331h8v1h-8zM892 377h4v1h-4zM892 332h17v1h-17zM893 376h3v1h-3zM893 333h15v1h-15zM894 375h1v1h-1zM895 334h11v1h-11zM895 388h24v1h-24zM897 335h8v1h-8zM897 389h22v1h-22zM898 390h20v1h-20zM900 391h17v1h-17zM900 331h18v1h-18zM901 392h16v1h-16zM902 394h13v1h-13zM902 393h14v1h-14zM903 395h10v1h-10zM903 330h11v1h-11zM904 396h7v1h-7zM905 329h8v1h-8zM907 328h5v1h-5zM908 327h3v1h-3zM910 332h10v1h-10zM911 333h12v1h-12zM911 383h23v1h-23zM912 382h22v1h-22zM913 334h21v1h-21zM913 381h21v1h-21zM914 335h20v1h-20zM914 379h20v2h-20zM915 378h19v1h-19zM916 336h16v1h-16zM916 376h18v2h-18zM917 374h15v1h-15zM917 375h16v1h-16zM918 372h5v1h-5zM918 373h6v1h-6zM918 337h11v1h-11zM919 371h2v1h-2zM920 338h7v1h-7zM920 388h14v1h-14zM922 389h6v1h-6zM924 339h1v1h-1zM924 390h2v1h-2zM926 373h5v1h-5zM926 333h8v1h-8zM928 332h6v1h-6zM930 331h4v1h-4zM930 389h4v1h-4zM931 390h3v2h-3zM932 330h2v1h-2zM932 392h2v2h-2zM933 394h1v2h-1z"/>
<path fill="#fd0000" d="M133 340h1v1h-1zM133 339h3v1h-3zM133 361h3v1h-3zM133 338h4v1h-4zM133 362h4v2h-4zM133 364h5v2h-5zM133 337h6v1h-6zM133 366h6v2h-6zM133 334h7v3h-7zM133 368h7v3h-7zM134 332h6v2h-6zM135 331h5v1h-5zM136 371h4v2h-4zM137 330h3v1h-3zM137 373h3v3h-3zM138 376h2v3h-2zM139 329h1v1h-1zM139 379h1v3h-1zM164 338h1v1h-1zM164 372h1v1h-1zM164 373h2v1h-2zM164 374h3v1h-3zM164 375h5v1h-5zM164 376h6v1h-6zM164 332h7v1h-7zM164 333h9v1h-9zM164 334h11v1h-11zM164 383h13v1h-13zM164 382h14v1h-14zM164 381h15v1h-15zM164 377h16v4h-16zM164 337h31v1h-31zM164 335h36v1h-36zM164 336h46v1h-46zM166 384h10v1h-10zM167 385h8v1h-8zM168 386h6v1h-6zM169 388h3v1h-3zM169 387h4v1h-4zM170 389h1v1h-1zM171 376h9v1h-9zM171 338h23v1h-23zM172 375h8v1h-8zM173 339h7v1h-7zM173 374h7v1h-7zM174 372h6v2h-6zM175 340h3v1h-3zM175 371h5v1h-5zM176 369h4v2h-4zM176 334h23v1h-23zM177 368h3v1h-3zM177 333h8v1h-8zM178 367h2v1h-2zM179 366h1v1h-1zM179 332h4v1h-4zM180 331h2v1h-2zM181 339h11v1h-11zM183 340h8v1h-8zM185 341h1v1h-1zM192 333h6v1h-6zM193 332h4v1h-4zM195 331h1v1h-1zM196 337h14v1h-14zM197 338h13v1h-13zM198 339h12v1h-12zM199 341h4v1h-4zM199 340h5v1h-5zM200 342h2v1h-2zM202 335h8v1h-8zM204 334h6v1h-6zM205 333h5v1h-5zM260 359h1v1h-1zM260 336h5v1h-5zM260 337h11v1h-11zM260 338h12v1h-12zM260 339h13v1h-13zM260 340h14v1h-14zM260 341h15v2h-15zM260 369h15v2h-15zM260 368h16v1h-16zM260 360h35v2h-35zM260 362h36v1h-36zM260 363h44v1h-44zM260 364h47v1h-47zM260 365h49v1h-49zM260 366h51v1h-51zM260 367h52v1h-52zM261 371h13v1h-13zM262 359h8v1h-8zM263 343h38v1h-38zM264 358h4v1h-4zM264 372h10v1h-10zM265 344h5v1h-5zM266 357h1v1h-1zM267 373h6v1h-6zM269 374h3v1h-3zM271 359h23v1h-23zM271 344h27v1h-27zM272 357h21v2h-21zM272 345h24v1h-24zM273 355h18v1h-18zM273 356h19v1h-19zM273 346h20v1h-20zM274 352h6v1h-6zM274 353h7v1h-7zM274 347h17v1h-17zM274 354h17v1h-17zM275 349h4v2h-4zM275 348h5v1h-5zM275 351h5v1h-5zM277 369h9v1h-9zM277 368h37v1h-37zM278 372h6v1h-6zM278 370h7v2h-7zM279 374h4v1h-4zM279 373h5v1h-5zM280 376h2v1h-2zM280 375h3v1h-3zM280 342h4v1h-4zM281 377h1v1h-1zM282 353h8v1h-8zM283 348h6v1h-6zM283 351h6v1h-6zM283 352h7v1h-7zM284 350h5v1h-5zM285 349h3v1h-3zM287 342h15v1h-15zM287 369h28v1h-28zM287 370h29v1h-29zM288 371h31v1h-31zM288 372h43v1h-43zM289 374h16v1h-16zM289 373h68v1h-68zM290 341h13v1h-13zM290 376h13v1h-13zM290 375h14v1h-14zM291 377h11v1h-11zM291 340h13v1h-13zM292 378h9v1h-9zM293 379h7v1h-7zM293 339h11v1h-11zM295 380h3v1h-3zM295 338h10v1h-10zM296 381h1v1h-1zM297 337h9v1h-9zM298 362h4v1h-4zM300 336h7v1h-7zM302 335h5v1h-5zM302 334h6v1h-6zM303 333h6v1h-6zM304 332h5v1h-5zM305 331h5v1h-5zM306 330h4v1h-4zM306 329h5v1h-5zM307 327h12v1h-12zM307 328h14v1h-14zM308 326h10v1h-10zM308 374h49v1h-49zM309 324h6v1h-6zM309 325h7v1h-7zM310 322h4v1h-4zM310 323h5v1h-5zM310 375h47v1h-47zM311 321h1v1h-1zM311 376h35v1h-35zM312 377h33v1h-33zM312 329h37v1h-37zM313 379h23v1h-23zM313 378h31v1h-31zM313 330h38v1h-38zM314 380h21v1h-21zM314 331h43v1h-43zM315 381h19v1h-19zM315 332h42v1h-42zM316 382h9v1h-9zM317 333h40v1h-40zM319 383h4v1h-4zM319 334h12v1h-12zM321 335h8v1h-8zM323 371h7v1h-7zM324 370h5v1h-5zM325 336h2v1h-2zM325 369h2v1h-2zM328 382h5v1h-5zM328 328h20v1h-20zM332 371h25v2h-25zM333 327h6v1h-6zM333 334h24v1h-24zM333 370h24v1h-24zM334 369h23v1h-23zM335 368h20v1h-20zM336 367h5v1h-5zM338 379h5v1h-5zM340 380h2v1h-2zM340 335h5v1h-5zM342 367h12v1h-12zM345 366h8v1h-8zM347 335h8v1h-8zM349 336h5v1h-5zM351 337h1v1h-1zM353 330h4v1h-4zM353 376h4v1h-4zM355 329h2v1h-2zM355 377h2v1h-2zM356 378h1v1h-1zM391 382h2v1h-2zM391 332h5v1h-5zM391 381h5v1h-5zM391 368h11v1h-11zM391 369h12v1h-12zM391 338h13v1h-13zM391 370h13v1h-13zM391 337h15v1h-15zM391 371h15v1h-15zM391 333h24v1h-24zM391 334h26v3h-26zM391 372h26v9h-26zM392 331h1v1h-1zM395 367h4v1h-4zM395 339h7v1h-7zM398 381h19v1h-19zM402 332h9v1h-9zM402 382h9v1h-9zM404 331h5v1h-5zM404 383h5v1h-5zM408 371h7v1h-7zM408 337h9v1h-9zM410 370h4v1h-4zM412 338h5v1h-5zM412 382h5v1h-5zM413 383h4v1h-4zM414 384h3v1h-3zM415 385h2v1h-2zM416 339h1v1h-1zM416 386h1v1h-1zM436 337h1v1h-1zM436 344h3v1h-3zM436 382h3v1h-3zM436 381h4v1h-4zM436 379h5v2h-5zM436 343h6v1h-6zM436 341h7v2h-7zM436 339h8v2h-8zM436 338h9v1h-9zM436 367h10v1h-10zM436 378h13v1h-13zM436 377h14v1h-14zM436 376h15v1h-15zM436 375h16v1h-16zM436 373h17v2h-17zM436 371h18v2h-18zM436 370h19v1h-19zM436 368h20v2h-20zM437 366h8v1h-8zM438 364h6v2h-6zM438 337h7v1h-7zM439 363h4v1h-4zM440 362h3v1h-3zM440 336h6v1h-6zM442 335h4v1h-4zM442 334h5v1h-5zM443 333h33v1h-33zM444 331h28v1h-28zM444 332h30v1h-30zM445 329h11v1h-11zM445 330h26v1h-26zM446 327h8v1h-8zM446 328h9v1h-9zM447 326h6v1h-6zM448 334h14v1h-14zM448 367h59v1h-59zM449 366h26v1h-26zM451 365h23v1h-23zM452 335h9v1h-9zM452 364h10v1h-10zM453 336h7v1h-7zM453 363h8v1h-8zM454 362h6v1h-6zM455 337h4v1h-4zM455 361h4v1h-4zM456 338h2v1h-2zM456 360h2v1h-2zM458 329h9v1h-9zM458 368h76v1h-76zM459 369h74v1h-74zM460 328h5v1h-5zM460 370h6v1h-6zM461 371h3v1h-3zM462 327h1v1h-1zM463 364h9v1h-9zM463 334h15v1h-15zM464 335h15v1h-15zM465 363h5v1h-5zM466 362h3v1h-3zM466 336h14v1h-14zM468 370h18v1h-18zM469 371h16v1h-16zM470 337h11v1h-11zM470 372h14v1h-14zM471 373h12v1h-12zM472 374h10v1h-10zM473 375h7v1h-7zM473 338h53v1h-53zM475 376h4v1h-4zM477 377h1v1h-1zM477 339h45v1h-45zM479 366h27v1h-27zM479 340h42v1h-42zM480 341h11v1h-11zM480 365h17v1h-17zM482 342h6v1h-6zM482 364h13v1h-13zM483 363h10v1h-10zM484 362h7v1h-7zM486 361h3v1h-3zM487 360h1v1h-1zM488 337h26v1h-26zM489 370h33v1h-33zM490 336h11v1h-11zM491 371h29v1h-29zM493 372h26v1h-26zM494 373h25v1h-25zM495 374h23v1h-23zM496 335h2v1h-2zM496 375h4v1h-4zM498 365h7v1h-7zM500 364h3v1h-3zM500 341h4v1h-4zM504 336h6v1h-6zM504 375h12v1h-12zM505 376h8v1h-8zM506 377h4v1h-4zM508 367h27v1h-27zM511 341h9v1h-9zM511 366h25v1h-25zM513 365h24v1h-24zM514 342h5v1h-5zM515 364h22v1h-22zM516 363h28v1h-28zM517 343h1v1h-1zM518 362h7v1h-7zM518 337h18v1h-18zM519 336h16v1h-16zM520 335h14v1h-14zM521 334h12v1h-12zM522 333h10v1h-10zM525 332h4v1h-4zM526 370h4v1h-4zM529 338h7v1h-7zM531 362h13v1h-13zM532 339h5v1h-5zM533 340h5v1h-5zM533 361h11v1h-11zM534 341h6v1h-6zM534 360h10v1h-10zM535 342h9v1h-9zM535 358h9v2h-9zM536 343h8v2h-8zM536 356h8v2h-8zM537 345h7v1h-7zM537 354h7v2h-7zM538 364h6v1h-6zM539 346h5v1h-5zM541 365h3v1h-3zM542 366h2v1h-2zM558 385h3v1h-3zM558 336h8v1h-8zM558 384h8v1h-8zM558 331h13v1h-13zM558 332h14v1h-14zM558 383h15v1h-15zM558 335h22v1h-22zM558 333h28v1h-28zM558 334h29v1h-29zM558 377h29v2h-29zM558 379h31v4h-31zM559 376h27v1h-27zM560 375h25v1h-25zM561 374h24v1h-24zM562 337h1v1h-1zM562 373h22v1h-22zM563 372h20v1h-20zM564 330h5v1h-5zM566 329h2v1h-2zM569 336h9v1h-9zM570 337h6v1h-6zM571 338h4v1h-4zM574 332h11v1h-11zM576 331h9v1h-9zM578 330h6v1h-6zM580 329h4v1h-4zM582 328h1v1h-1zM583 383h6v1h-6zM584 335h5v2h-5zM584 384h5v1h-5zM585 337h4v1h-4zM585 385h4v2h-4zM586 338h3v1h-3zM586 387h3v1h-3zM587 339h2v1h-2zM587 388h2v2h-2zM648 347h1v1h-1zM648 352h1v1h-1zM648 353h2v2h-2zM648 346h3v1h-3zM648 355h3v2h-3zM648 345h4v1h-4zM648 357h4v2h-4zM648 344h5v1h-5zM648 359h5v2h-5zM648 343h6v1h-6zM648 361h6v2h-6zM648 342h7v1h-7zM648 363h7v1h-7zM648 364h8v2h-8zM648 366h9v1h-9zM649 341h7v1h-7zM649 367h9v1h-9zM649 368h10v1h-10zM650 340h7v1h-7zM650 369h10v1h-10zM650 370h11v1h-11zM651 371h12v1h-12zM652 339h5v1h-5zM652 373h23v1h-23zM652 372h24v1h-24zM653 338h18v1h-18zM653 374h21v1h-21zM654 337h18v1h-18zM654 375h19v1h-19zM655 336h12v1h-12zM655 376h17v1h-17zM656 334h6v1h-6zM656 335h9v1h-9zM656 377h15v1h-15zM657 333h3v1h-3zM658 378h12v1h-12zM659 379h11v1h-11zM660 380h9v1h-9zM661 381h7v1h-7zM661 339h10v1h-10zM663 382h2v1h-2zM664 371h14v1h-14zM665 340h5v1h-5zM666 370h23v1h-23zM667 341h2v1h-2zM667 369h20v1h-20zM668 368h17v1h-17zM669 336h4v1h-4zM669 335h31v1h-31zM670 367h13v1h-13zM670 334h31v1h-31zM671 333h7v1h-7zM672 331h4v1h-4zM672 332h5v1h-5zM673 330h2v1h-2zM673 366h9v1h-9zM674 365h8v1h-8zM674 336h25v1h-25zM675 364h6v1h-6zM675 337h23v1h-23zM676 363h4v1h-4zM676 338h20v1h-20zM677 362h2v1h-2zM677 339h4v1h-4zM678 340h1v1h-1zM678 361h1v1h-1zM679 371h22v1h-22zM680 372h22v1h-22zM680 373h23v1h-23zM681 374h29v1h-29zM682 375h28v2h-28zM683 377h27v1h-27zM685 378h25v1h-25zM686 333h4v1h-4zM686 379h24v1h-24zM688 380h10v1h-10zM692 381h4v1h-4zM693 339h1v1h-1zM694 333h8v1h-8zM696 370h4v1h-4zM696 332h7v1h-7zM697 331h9v1h-9zM698 369h1v1h-1zM698 330h12v1h-12zM699 329h11v1h-11zM699 380h11v1h-11zM700 328h10v1h-10zM700 381h10v1h-10zM701 383h5v1h-5zM701 382h6v1h-6zM701 327h9v1h-9zM702 384h3v1h-3zM702 326h8v1h-8zM703 385h1v1h-1zM703 324h7v2h-7zM704 323h6v1h-6zM705 373h5v1h-5zM707 372h3v1h-3zM709 321h1v2h-1zM765 337h1v1h-1zM765 336h2v1h-2zM765 335h3v1h-3zM765 374h5v1h-5zM765 375h6v1h-6zM765 376h7v1h-7zM765 377h8v1h-8zM765 332h10v1h-10zM765 333h11v1h-11zM765 334h12v1h-12zM765 382h43v1h-43zM765 381h44v1h-44zM765 380h47v1h-47zM765 378h57v1h-57zM765 379h66v1h-66zM766 331h8v1h-8zM767 329h4v1h-4zM767 330h6v1h-6zM768 328h2v1h-2zM770 335h8v1h-8zM770 383h8v1h-8zM771 384h6v1h-6zM772 385h4v1h-4zM772 336h7v1h-7zM773 386h2v1h-2zM774 377h24v1h-24zM774 337h57v1h-57zM775 376h21v1h-21zM775 338h22v1h-22zM776 339h13v1h-13zM776 374h15v1h-15zM776 375h18v1h-18zM777 371h6v1h-6zM777 372h7v1h-7zM777 341h8v1h-8zM777 340h10v1h-10zM777 373h12v1h-12zM778 368h2v1h-2zM778 369h3v1h-3zM778 342h4v1h-4zM778 370h4v1h-4zM781 383h26v1h-26zM782 384h24v1h-24zM783 385h3v1h-3zM784 336h47v1h-47zM786 335h45v1h-45zM787 334h21v1h-21zM788 333h3v1h-3zM791 385h14v1h-14zM792 339h2v1h-2zM796 386h8v1h-8zM796 333h11v1h-11zM799 332h6v1h-6zM800 377h20v1h-20zM803 376h16v1h-16zM805 375h13v1h-13zM806 373h11v1h-11zM806 374h12v1h-12zM806 338h25v1h-25zM807 372h10v1h-10zM808 339h4v1h-4zM808 371h8v1h-8zM809 370h6v1h-6zM811 369h4v1h-4zM811 334h20v1h-20zM813 333h4v1h-4zM814 380h17v1h-17zM815 381h16v1h-16zM816 339h15v1h-15zM816 382h15v2h-15zM817 384h12v1h-12zM818 386h9v1h-9zM818 385h10v1h-10zM819 387h7v1h-7zM821 388h4v1h-4zM821 333h10v1h-10zM825 378h6v1h-6zM826 376h5v2h-5zM827 374h4v2h-4zM828 340h3v1h-3zM828 371h3v3h-3zM829 369h2v2h-2zM861 347h4v1h-4zM861 354h4v3h-4zM861 346h5v1h-5zM861 357h5v2h-5zM861 359h6v1h-6zM861 345h7v1h-7zM861 360h7v2h-7zM861 344h8v1h-8zM861 362h8v1h-8zM861 343h11v1h-11zM861 363h11v1h-11zM861 364h12v1h-12zM861 342h13v1h-13zM861 365h17v1h-17zM861 366h24v1h-24zM861 367h26v1h-26zM861 368h27v1h-27zM861 369h28v1h-28zM861 370h44v1h-44zM862 371h46v1h-46zM863 372h55v1h-55zM864 374h53v1h-53zM864 373h54v1h-54zM865 341h19v1h-19zM866 375h28v1h-28zM867 340h18v1h-18zM868 376h3v1h-3zM869 339h17v1h-17zM872 338h15v1h-15zM873 376h20v1h-20zM874 337h1v1h-1zM875 342h7v1h-7zM876 377h6v1h-6zM878 378h2v1h-2zM879 343h1v1h-1zM880 365h5v1h-5zM881 337h7v1h-7zM882 336h34v1h-34zM884 335h13v1h-13zM885 334h10v1h-10zM886 377h6v1h-6zM886 333h7v1h-7zM887 378h4v1h-4zM887 332h5v1h-5zM888 331h3v1h-3zM889 330h1v1h-1zM889 379h1v1h-1zM890 368h8v1h-8zM890 369h9v1h-9zM891 367h6v1h-6zM891 337h27v1h-27zM892 366h5v1h-5zM892 338h16v1h-16zM893 365h3v1h-3zM893 339h14v1h-14zM894 364h1v1h-1zM895 340h11v1h-11zM895 375h22v1h-22zM896 376h20v2h-20zM897 378h18v1h-18zM898 379h16v1h-16zM899 380h15v1h-15zM900 381h13v1h-13zM902 382h10v1h-10zM904 383h7v1h-7zM905 335h9v1h-9zM906 334h7v1h-7zM908 333h3v1h-3zM909 332h1v1h-1zM910 371h9v1h-9zM911 338h9v1h-9zM911 370h23v1h-23zM912 339h12v1h-12zM912 369h22v1h-22zM913 368h21v1h-21zM914 340h20v1h-20zM914 366h20v2h-20zM915 341h19v1h-19zM915 365h19v1h-19zM916 364h18v1h-18zM917 342h16v1h-16zM917 362h17v2h-17zM918 361h12v1h-12zM919 359h4v1h-4zM919 360h7v1h-7zM919 343h9v1h-9zM921 344h5v1h-5zM921 371h13v1h-13zM923 372h11v1h-11zM924 373h2v1h-2zM925 339h9v1h-9zM927 338h7v1h-7zM929 337h5v1h-5zM931 373h3v1h-3zM932 336h2v1h-2zM932 374h2v1h-2zM933 375h1v1h-1z"/>
<path fill="#e40000" d="M133 350h2v1h-2zM133 347h3v1h-3zM133 351h3v1h-3zM133 346h4v1h-4zM133 352h4v1h-4zM133 353h5v1h-5zM133 345h6v1h-6zM133 354h6v2h-6zM133 341h7v4h-7zM133 356h7v5h-7zM134 340h6v1h-6zM136 339h4v1h-4zM136 361h4v1h-4zM137 338h3v1h-3zM137 362h3v2h-3zM138 364h2v2h-2zM139 337h1v1h-1zM139 366h1v2h-1zM164 358h1v1h-1zM164 359h2v1h-2zM164 344h3v1h-3zM164 360h4v1h-4zM164 361h5v1h-5zM164 362h6v1h-6zM164 339h9v1h-9zM164 340h11v1h-11zM164 371h11v1h-11zM164 369h12v2h-12zM164 368h13v1h-13zM164 367h14v1h-14zM164 366h15v1h-15zM164 363h16v3h-16zM164 341h21v1h-21zM164 343h31v1h-31zM164 342h36v1h-36zM165 338h6v1h-6zM165 372h9v1h-9zM166 373h8v1h-8zM167 374h6v1h-6zM169 375h3v1h-3zM170 376h1v1h-1zM171 361h9v2h-9zM171 344h23v1h-23zM172 359h8v2h-8zM173 357h7v2h-7zM173 345h20v1h-20zM174 355h6v2h-6zM174 346h18v1h-18zM175 353h5v2h-5zM175 347h15v1h-15zM177 352h3v1h-3zM178 340h5v1h-5zM180 339h1v1h-1zM183 348h4v1h-4zM185 349h1v1h-1zM186 341h13v1h-13zM191 340h8v1h-8zM192 339h6v1h-6zM194 338h3v1h-3zM195 337h1v1h-1zM196 343h14v1h-14zM197 344h13v1h-13zM198 346h7v1h-7zM198 345h12v1h-12zM199 347h5v1h-5zM200 349h2v1h-2zM200 348h3v1h-3zM202 342h8v1h-8zM203 341h7v1h-7zM204 340h6v1h-6zM260 343h3v1h-3zM260 358h4v1h-4zM260 344h5v1h-5zM260 357h6v1h-6zM260 345h12v1h-12zM260 346h13v1h-13zM260 355h13v2h-13zM260 347h14v1h-14zM260 352h14v3h-14zM260 348h15v4h-15zM261 359h1v1h-1zM267 357h5v1h-5zM268 358h4v1h-4zM270 344h1v1h-1zM270 359h1v1h-1zM279 350h5v1h-5zM279 349h6v1h-6zM280 348h3v1h-3zM280 351h3v2h-3zM281 353h1v1h-1zM288 349h15v1h-15zM289 348h14v1h-14zM289 350h14v1h-14zM289 351h15v1h-15zM290 352h14v1h-14zM290 353h15v1h-15zM291 347h13v1h-13zM291 354h15v1h-15zM291 355h16v1h-16zM292 356h17v1h-17zM293 346h12v1h-12zM293 357h17v1h-17zM293 358h19v1h-19zM294 359h21v1h-21zM295 360h35v1h-35zM295 361h36v1h-36zM296 362h2v1h-2zM296 345h10v1h-10zM298 344h8v1h-8zM301 343h6v1h-6zM302 342h6v1h-6zM302 362h55v1h-55zM303 341h6v1h-6zM304 340h6v1h-6zM304 339h7v1h-7zM304 363h53v1h-53zM305 338h52v1h-52zM306 337h45v1h-45zM307 335h14v1h-14zM307 336h18v1h-18zM307 364h50v1h-50zM308 334h11v1h-11zM309 332h6v1h-6zM309 333h8v1h-8zM309 365h48v1h-48zM310 330h3v1h-3zM310 331h4v1h-4zM311 329h1v1h-1zM311 366h34v1h-34zM312 367h24v1h-24zM313 339h44v1h-44zM314 368h21v1h-21zM315 369h10v1h-10zM315 340h42v1h-42zM316 370h8v1h-8zM317 341h14v1h-14zM319 371h4v1h-4zM321 342h8v1h-8zM323 359h6v1h-6zM324 343h4v1h-4zM324 358h4v1h-4zM325 357h2v1h-2zM326 344h1v1h-1zM327 369h7v1h-7zM327 336h22v1h-22zM329 370h4v1h-4zM329 335h11v1h-11zM330 371h2v1h-2zM331 372h1v1h-1zM331 334h2v1h-2zM332 361h25v1h-25zM333 341h23v1h-23zM333 360h23v1h-23zM334 359h21v1h-21zM335 358h19v1h-19zM336 357h17v1h-17zM336 342h19v1h-19zM340 343h3v1h-3zM341 367h1v1h-1zM345 335h2v1h-2zM348 356h4v1h-4zM348 343h5v1h-5zM351 344h1v1h-1zM351 355h1v1h-1zM352 337h5v1h-5zM353 366h4v1h-4zM354 336h3v1h-3zM354 367h3v1h-3zM355 335h2v1h-2zM355 368h2v1h-2zM391 353h1v1h-1zM391 339h4v1h-4zM391 367h4v1h-4zM391 346h12v1h-12zM391 354h12v2h-12zM391 345h13v1h-13zM391 356h13v1h-13zM391 357h14v1h-14zM391 344h15v1h-15zM391 358h15v1h-15zM391 359h16v1h-16zM391 340h26v4h-26zM391 360h26v7h-26zM399 367h18v1h-18zM402 339h14v1h-14zM402 368h15v1h-15zM403 369h14v1h-14zM404 370h6v1h-6zM404 338h8v1h-8zM406 337h2v1h-2zM406 371h2v1h-2zM409 359h8v1h-8zM414 344h3v1h-3zM414 370h3v1h-3zM415 371h2v1h-2zM416 358h1v1h-1zM436 366h1v1h-1zM436 364h2v2h-2zM436 363h3v1h-3zM436 362h4v1h-4zM436 348h8v4h-8zM436 346h9v2h-9zM436 352h9v2h-9zM436 345h10v1h-10zM436 354h10v2h-10zM436 356h11v1h-11zM436 361h19v1h-19zM436 360h20v1h-20zM436 358h99v2h-99zM436 357h100v1h-100zM439 344h7v1h-7zM442 343h5v1h-5zM443 363h10v1h-10zM443 362h11v1h-11zM443 342h18v1h-18zM443 341h37v1h-37zM444 365h7v1h-7zM444 364h8v1h-8zM444 339h33v1h-33zM444 340h35v1h-35zM445 366h4v1h-4zM445 337h10v1h-10zM445 338h11v1h-11zM446 367h2v1h-2zM446 335h6v1h-6zM446 336h7v1h-7zM447 334h1v1h-1zM448 343h12v1h-12zM448 356h13v1h-13zM449 355h11v1h-11zM450 344h9v1h-9zM451 354h9v1h-9zM452 345h7v1h-7zM452 353h7v1h-7zM454 352h4v1h-4zM455 346h3v1h-3zM456 351h2v1h-2zM458 338h15v1h-15zM458 360h29v1h-29zM459 337h11v1h-11zM459 361h27v1h-27zM460 336h6v1h-6zM460 362h6v1h-6zM461 335h3v1h-3zM461 363h4v1h-4zM462 334h1v1h-1zM462 364h1v1h-1zM464 356h12v1h-12zM464 342h18v1h-18zM465 355h9v1h-9zM465 343h52v1h-52zM466 354h5v1h-5zM467 344h60v1h-60zM469 362h15v1h-15zM470 363h13v1h-13zM472 364h10v1h-10zM474 365h6v1h-6zM475 366h4v1h-4zM478 345h29v1h-29zM478 356h29v1h-29zM480 355h26v1h-26zM481 346h11v1h-11zM482 354h14v1h-14zM483 353h8v1h-8zM485 347h4v1h-4zM485 352h5v1h-5zM487 351h1v1h-1zM488 342h26v1h-26zM488 360h46v1h-46zM489 361h44v1h-44zM491 341h9v1h-9zM491 362h27v1h-27zM493 363h23v1h-23zM495 364h5v1h-5zM497 365h1v1h-1zM498 354h6v1h-6zM498 346h7v1h-7zM500 353h3v1h-3zM503 364h12v1h-12zM504 341h7v1h-7zM505 365h8v1h-8zM506 366h5v1h-5zM507 367h1v1h-1zM508 345h15v1h-15zM509 356h27v1h-27zM511 346h10v1h-10zM511 355h26v1h-26zM513 354h12v1h-12zM514 347h6v1h-6zM514 353h8v1h-8zM515 352h5v1h-5zM516 351h3v1h-3zM517 348h1v1h-1zM517 350h1v1h-1zM518 343h18v1h-18zM519 342h16v1h-16zM520 341h14v1h-14zM521 340h12v1h-12zM522 339h10v1h-10zM525 362h6v1h-6zM526 338h3v1h-3zM528 344h8v1h-8zM531 354h6v1h-6zM533 345h4v1h-4zM533 346h6v1h-6zM533 353h11v1h-11zM534 347h10v1h-10zM534 351h10v2h-10zM535 348h9v3h-9zM558 376h1v1h-1zM558 375h2v1h-2zM558 374h3v1h-3zM558 337h4v1h-4zM558 373h4v1h-4zM558 372h5v1h-5zM558 342h9v1h-9zM558 338h13v1h-13zM558 341h23v1h-23zM558 339h29v1h-29zM558 364h29v1h-29zM558 340h31v1h-31zM558 365h31v7h-31zM559 363h27v1h-27zM560 362h24v1h-24zM561 343h4v1h-4zM561 361h19v1h-19zM562 359h2v1h-2zM562 360h15v1h-15zM563 337h7v1h-7zM566 336h3v1h-3zM568 342h10v1h-10zM569 343h7v1h-7zM570 359h5v1h-5zM571 358h3v1h-3zM571 344h4v1h-4zM572 345h1v1h-1zM572 357h1v1h-1zM575 338h11v1h-11zM576 337h9v1h-9zM578 336h6v1h-6zM580 335h4v1h-4zM583 341h6v1h-6zM583 372h6v1h-6zM584 342h5v1h-5zM584 373h5v1h-5zM585 374h4v2h-4zM586 343h3v1h-3zM586 376h3v1h-3zM587 344h1v1h-1zM587 377h2v2h-2zM648 348h7v3h-7zM648 351h8v1h-8zM649 347h7v1h-7zM649 352h7v1h-7zM650 353h6v1h-6zM650 354h7v1h-7zM651 346h6v1h-6zM651 355h6v1h-6zM651 356h7v1h-7zM652 345h6v1h-6zM652 357h7v1h-7zM652 358h9v1h-9zM653 344h18v1h-18zM653 359h34v1h-34zM653 360h48v1h-48zM654 343h18v1h-18zM654 362h23v1h-23zM654 361h24v1h-24zM655 342h18v1h-18zM655 363h21v1h-21zM656 341h11v1h-11zM656 365h18v1h-18zM656 364h19v1h-19zM657 339h4v1h-4zM657 340h8v1h-8zM657 366h16v1h-16zM658 367h12v1h-12zM659 368h9v1h-9zM660 369h7v1h-7zM661 370h5v1h-5zM663 371h1v1h-1zM665 345h5v1h-5zM665 358h18v1h-18zM666 357h6v1h-6zM667 346h2v1h-2zM667 356h3v1h-3zM669 341h32v1h-32zM670 340h8v1h-8zM671 338h5v1h-5zM671 339h6v1h-6zM672 337h3v1h-3zM673 336h1v1h-1zM674 357h8v1h-8zM674 343h25v1h-25zM674 342h26v1h-26zM675 355h6v1h-6zM675 344h7v1h-7zM675 356h7v1h-7zM676 345h5v1h-5zM676 354h5v1h-5zM677 352h2v1h-2zM677 346h3v1h-3zM677 353h3v1h-3zM678 347h1v1h-1zM678 351h1v1h-1zM679 361h23v1h-23zM679 340h24v1h-24zM679 362h24v1h-24zM680 363h30v1h-30zM681 339h12v1h-12zM681 364h29v1h-29zM682 365h28v2h-28zM683 367h27v1h-27zM685 368h25v1h-25zM687 369h11v1h-11zM689 370h7v1h-7zM690 359h10v1h-10zM691 344h5v1h-5zM693 358h1v1h-1zM694 339h10v1h-10zM696 358h3v1h-3zM696 338h14v1h-14zM698 337h12v1h-12zM699 336h11v1h-11zM699 369h11v1h-11zM700 335h10v1h-10zM700 370h10v1h-10zM701 334h9v1h-9zM701 371h9v1h-9zM702 372h5v1h-5zM702 333h8v1h-8zM703 373h2v1h-2zM703 332h7v1h-7zM706 331h4v1h-4zM706 362h4v1h-4zM765 344h1v1h-1zM765 359h1v1h-1zM765 343h2v1h-2zM765 360h2v1h-2zM765 342h3v1h-3zM765 361h3v1h-3zM765 362h4v1h-4zM765 363h7v1h-7zM765 338h10v1h-10zM765 339h11v1h-11zM765 340h12v2h-12zM765 371h12v3h-12zM765 368h13v3h-13zM765 364h33v1h-33zM765 365h66v3h-66zM766 337h8v1h-8zM767 336h5v1h-5zM768 335h2v1h-2zM770 374h6v1h-6zM771 375h5v1h-5zM771 342h7v1h-7zM772 376h3v1h-3zM773 377h1v1h-1zM774 363h23v1h-23zM774 343h24v1h-24zM775 345h15v1h-15zM775 359h16v1h-16zM775 360h18v1h-18zM775 361h19v1h-19zM775 344h20v1h-20zM775 362h20v1h-20zM776 346h11v1h-11zM776 356h12v1h-12zM776 357h13v1h-13zM776 358h14v1h-14zM777 353h7v1h-7zM777 347h8v1h-8zM777 354h8v1h-8zM777 355h9v1h-9zM778 349h2v1h-2zM778 350h3v1h-3zM778 348h4v1h-4zM778 351h4v1h-4zM778 352h5v1h-5zM780 368h51v1h-51zM781 369h30v1h-30zM782 370h27v1h-27zM782 342h49v1h-49zM783 371h25v1h-25zM784 372h23v1h-23zM785 341h46v1h-46zM787 340h41v1h-41zM789 339h3v1h-3zM789 373h17v1h-17zM791 374h15v1h-15zM794 375h11v1h-11zM794 339h14v1h-14zM796 376h7v1h-7zM797 338h9v1h-9zM798 377h2v1h-2zM801 364h30v1h-30zM804 363h27v1h-27zM805 343h26v1h-26zM805 362h26v1h-26zM806 361h25v1h-25zM807 344h24v1h-24zM807 360h24v1h-24zM808 359h15v1h-15zM809 358h12v1h-12zM812 339h4v1h-4zM814 357h6v1h-6zM815 369h14v2h-14zM816 371h12v1h-12zM816 345h15v1h-15zM817 372h11v2h-11zM818 374h9v2h-9zM818 346h13v1h-13zM819 376h7v1h-7zM820 377h6v1h-6zM822 378h3v1h-3zM825 357h6v3h-6zM826 347h5v1h-5zM826 354h5v3h-5zM827 352h4v2h-4zM828 348h3v1h-3zM828 350h3v2h-3zM829 349h2v1h-2zM861 349h10v1h-10zM861 350h11v1h-11zM861 348h12v1h-12zM861 351h12v1h-12zM861 352h13v1h-13zM861 353h24v1h-24zM865 347h9v1h-9zM865 354h20v1h-20zM865 355h21v1h-21zM865 356h22v1h-22zM866 346h19v1h-19zM866 357h22v1h-22zM866 358h23v1h-23zM867 359h41v1h-41zM868 345h18v1h-18zM868 360h41v1h-41zM868 361h50v1h-50zM869 344h19v1h-19zM869 362h48v1h-48zM872 343h7v1h-7zM872 363h45v1h-45zM873 364h21v1h-21zM874 342h1v1h-1zM875 347h9v1h-9zM876 352h8v1h-8zM877 351h5v1h-5zM878 365h2v1h-2zM878 348h3v1h-3zM878 350h3v1h-3zM879 349h1v1h-1zM880 343h9v1h-9zM882 342h35v1h-35zM884 341h31v1h-31zM885 366h7v1h-7zM885 365h8v1h-8zM885 340h10v1h-10zM886 339h7v1h-7zM887 367h4v1h-4zM887 338h5v1h-5zM888 368h2v1h-2zM888 337h3v1h-3zM889 369h1v1h-1zM890 358h17v1h-17zM890 343h19v1h-19zM891 357h8v1h-8zM892 356h6v1h-6zM892 344h16v1h-16zM893 355h4v1h-4zM893 345h14v1h-14zM894 354h1v1h-1zM895 364h21v1h-21zM896 365h19v1h-19zM897 366h17v2h-17zM898 368h15v1h-15zM899 369h13v1h-13zM900 357h6v1h-6zM902 346h3v1h-3zM902 356h4v1h-4zM903 355h2v1h-2zM905 370h6v1h-6zM906 340h8v1h-8zM907 339h5v1h-5zM908 371h2v1h-2zM908 338h3v1h-3zM910 343h9v1h-9zM910 360h9v1h-9zM911 359h8v1h-8zM912 344h9v1h-9zM912 358h22v1h-22zM913 345h21v1h-21zM913 356h21v2h-21zM914 355h20v1h-20zM915 346h19v1h-19zM915 354h19v1h-19zM916 347h18v1h-18zM916 352h18v2h-18zM917 348h17v1h-17zM917 351h17v1h-17zM918 349h11v1h-11zM918 350h16v1h-16zM923 359h11v1h-11zM926 344h8v1h-8zM926 360h8v1h-8zM928 343h6v1h-6zM930 361h4v1h-4zM933 342h1v1h-1z"/>
<path fill="#cb0000" d="M133 348h7v2h-7zM135 350h5v1h-5zM136 347h4v1h-4zM136 351h4v1h-4zM137 346h3v1h-3zM137 352h3v1h-3zM138 353h2v1h-2zM139 345h1v1h-1zM139 354h1v2h-1zM164 345h9v1h-9zM164 357h9v1h-9zM164 346h10v1h-10zM164 355h10v2h-10zM164 347h11v1h-11zM164 353h11v2h-11zM164 352h13v1h-13zM164 350h16v2h-16zM164 348h19v1h-19zM164 349h21v1h-21zM165 358h8v1h-8zM166 359h6v1h-6zM167 344h4v1h-4zM168 360h4v1h-4zM169 361h2v1h-2zM170 362h1v1h-1zM186 349h9v1h-9zM187 348h13v1h-13zM190 347h9v1h-9zM192 346h6v1h-6zM193 345h5v1h-5zM194 344h3v1h-3zM195 343h1v1h-1zM196 349h4v1h-4zM202 349h8v1h-8zM203 348h7v1h-7zM204 347h6v1h-6zM205 346h5v1h-5zM303 349h8v1h-8zM303 348h28v1h-28zM303 350h28v1h-28zM304 347h52v1h-52zM304 351h52v1h-52zM304 352h53v1h-53zM305 346h52v1h-52zM305 353h52v1h-52zM306 344h20v1h-20zM306 345h51v1h-51zM306 354h51v1h-51zM307 343h17v1h-17zM307 355h44v1h-44zM308 342h13v1h-13zM309 341h8v1h-8zM309 356h39v1h-39zM310 340h5v1h-5zM310 357h15v1h-15zM311 339h2v1h-2zM312 358h12v1h-12zM315 359h8v1h-8zM316 349h14v1h-14zM327 357h9v1h-9zM327 344h24v1h-24zM328 358h7v1h-7zM328 343h12v1h-12zM329 359h5v1h-5zM329 342h7v1h-7zM330 360h3v1h-3zM331 361h1v1h-1zM331 341h2v1h-2zM332 350h24v1h-24zM333 348h22v1h-22zM334 349h21v1h-21zM343 343h5v1h-5zM352 344h5v1h-5zM352 355h5v2h-5zM353 343h4v1h-4zM353 357h4v1h-4zM354 358h3v1h-3zM355 342h2v1h-2zM355 359h2v1h-2zM356 341h1v1h-1zM356 360h1v1h-1zM391 347h26v6h-26zM392 353h25v1h-25zM403 346h14v1h-14zM403 354h14v2h-14zM404 345h13v1h-13zM404 356h13v1h-13zM405 357h12v1h-12zM406 344h8v1h-8zM406 358h10v1h-10zM407 359h2v1h-2zM444 351h12v1h-12zM444 349h18v1h-18zM444 348h73v1h-73zM444 350h73v1h-73zM445 353h7v1h-7zM445 352h9v1h-9zM445 346h10v1h-10zM445 347h40v1h-40zM446 355h3v1h-3zM446 344h4v1h-4zM446 354h5v1h-5zM446 345h6v1h-6zM447 343h1v1h-1zM447 356h1v1h-1zM458 346h23v1h-23zM458 352h27v1h-27zM458 351h29v1h-29zM459 344h8v1h-8zM459 345h19v1h-19zM459 353h24v1h-24zM460 343h5v1h-5zM460 355h5v1h-5zM460 354h6v1h-6zM461 342h3v1h-3zM461 356h3v1h-3zM463 349h72v1h-72zM471 354h11v1h-11zM474 355h6v1h-6zM476 356h2v1h-2zM488 351h28v1h-28zM489 347h25v1h-25zM490 352h25v1h-25zM491 353h9v1h-9zM492 346h6v1h-6zM496 354h2v1h-2zM503 353h11v1h-11zM504 354h9v1h-9zM505 346h6v1h-6zM506 355h5v1h-5zM507 345h1v1h-1zM507 356h2v1h-2zM518 348h17v1h-17zM518 350h17v1h-17zM519 351h15v1h-15zM520 347h14v1h-14zM520 352h14v1h-14zM521 346h12v1h-12zM522 353h11v1h-11zM523 345h10v1h-10zM525 354h6v1h-6zM527 344h1v1h-1zM558 363h1v1h-1zM558 362h2v1h-2zM558 343h3v1h-3zM558 361h3v1h-3zM558 359h4v2h-4zM558 344h13v1h-13zM558 358h13v1h-13zM558 345h14v1h-14zM558 357h14v1h-14zM558 348h21v1h-21zM558 351h23v1h-23zM558 347h24v1h-24zM558 346h31v1h-31zM558 352h31v5h-31zM559 349h18v1h-18zM559 350h20v1h-20zM564 359h6v1h-6zM565 343h4v1h-4zM567 342h1v1h-1zM573 345h16v1h-16zM573 357h16v1h-16zM574 358h15v1h-15zM575 344h12v1h-12zM575 359h14v1h-14zM576 343h10v1h-10zM577 360h12v1h-12zM578 342h6v1h-6zM580 361h9v1h-9zM581 341h2v1h-2zM583 347h6v1h-6zM584 351h5v1h-5zM584 362h5v1h-5zM585 348h4v1h-4zM585 350h4v1h-4zM586 349h3v1h-3zM586 363h3v1h-3zM587 364h2v1h-2zM588 344h1v1h-1zM655 349h18v1h-18zM655 348h47v1h-47zM655 350h47v1h-47zM656 352h21v2h-21zM656 347h22v1h-22zM656 351h22v1h-22zM657 346h10v1h-10zM657 355h18v1h-18zM657 354h19v1h-19zM658 345h7v1h-7zM658 356h9v1h-9zM659 357h7v1h-7zM661 358h4v1h-4zM669 346h8v1h-8zM670 356h5v1h-5zM670 345h6v1h-6zM671 344h4v1h-4zM672 343h2v1h-2zM672 357h2v1h-2zM673 342h1v1h-1zM674 349h9v1h-9zM679 347h24v1h-24zM679 351h24v1h-24zM679 352h31v1h-31zM680 346h30v1h-30zM680 353h30v1h-30zM681 345h29v1h-29zM681 354h29v2h-29zM682 344h9v1h-9zM682 356h28v2h-28zM683 358h10v1h-10zM687 359h3v1h-3zM687 349h14v1h-14zM694 358h2v1h-2zM696 344h14v1h-14zM699 343h11v1h-11zM699 358h11v1h-11zM700 342h10v1h-10zM700 359h10v1h-10zM701 341h9v1h-9zM701 360h9v1h-9zM702 361h8v1h-8zM703 362h3v1h-3zM703 340h7v1h-7zM704 339h6v1h-6zM765 348h3v2h-3zM765 350h4v1h-4zM765 345h10v1h-10zM765 346h11v1h-11zM765 356h11v3h-11zM765 347h12v1h-12zM765 353h12v3h-12zM765 351h13v2h-13zM766 344h9v1h-9zM766 359h9v1h-9zM767 343h7v1h-7zM767 360h8v1h-8zM768 342h3v1h-3zM768 361h7v1h-7zM769 362h6v1h-6zM770 348h8v1h-8zM770 350h8v1h-8zM771 349h7v1h-7zM772 363h2v1h-2zM780 349h18v1h-18zM781 350h47v1h-47zM782 348h46v1h-46zM782 351h46v1h-46zM783 352h44v1h-44zM784 353h43v1h-43zM785 347h41v1h-41zM785 354h41v1h-41zM786 355h40v1h-40zM787 346h31v1h-31zM788 356h38v1h-38zM789 357h25v1h-25zM790 358h19v1h-19zM790 345h26v1h-26zM791 359h17v1h-17zM793 360h14v1h-14zM794 361h12v1h-12zM795 362h10v1h-10zM795 344h12v1h-12zM797 363h7v1h-7zM798 364h3v1h-3zM798 343h7v1h-7zM804 349h25v1h-25zM820 357h5v1h-5zM821 358h4v1h-4zM823 359h2v1h-2zM871 349h8v1h-8zM872 350h6v1h-6zM873 351h4v1h-4zM873 348h5v1h-5zM874 347h1v1h-1zM874 352h2v1h-2zM880 349h29v1h-29zM881 348h36v1h-36zM881 350h37v1h-37zM882 351h35v1h-35zM884 347h32v1h-32zM884 352h32v1h-32zM885 354h9v1h-9zM885 346h17v1h-17zM885 353h31v1h-31zM886 345h7v1h-7zM886 355h7v1h-7zM887 356h5v1h-5zM888 357h3v1h-3zM888 344h4v1h-4zM889 343h1v1h-1zM889 358h1v1h-1zM895 354h20v1h-20zM897 355h6v1h-6zM898 356h4v1h-4zM899 357h1v1h-1zM905 355h9v1h-9zM905 346h10v1h-10zM906 356h7v2h-7zM907 358h5v1h-5zM907 345h6v1h-6zM908 359h3v1h-3zM908 344h4v1h-4zM909 343h1v1h-1zM909 360h1v1h-1zM910 349h8v1h-8zM929 349h5v1h-5z"/>
<path fill="#b20000" d="M195 349h1v1h-1zM311 349h5v1h-5zM330 349h4v1h-4zM331 350h1v1h-1zM331 348h2v1h-2zM355 348h2v2h-2zM356 347h1v1h-1zM356 350h1v2h-1zM462 349h1v1h-1zM558 349h1v2h-1zM577 349h9v1h-9zM579 348h6v1h-6zM579 350h6v1h-6zM581 351h3v1h-3zM582 347h1v1h-1zM673 349h1v1h-1zM683 349h4v1h-4zM701 349h9v1h-9zM702 348h8v1h-8zM702 350h8v1h-8zM703 347h7v1h-7zM703 351h7v1h-7zM768 348h2v1h-2zM768 349h3v1h-3zM769 350h1v1h-1zM798 349h6v1h-6zM909 349h1v1h-1z"/></g>
<path d="M90.5 104.5H933.5V398.5H90.5zM90.5 104.5v-5M90.5 398.5v5.5M95.5 104.5v-5M95.5 398.5v5.5M100.5 104.5v-5M100.5 398.5v5.5M105.5 104.5v-5M105.5 398.5v5.5M110.5 104.5v-5M110.5 398.5v5.5M115.5 104.5v-10M115.5 398.5v9.0M120.5 104.5v-5M120.5 398.5v5.5M125.5 104.5v-5M125.5 398.5v5.5M130.5 104.5v-5M130.5 398.5v5.5M135.5 104.5v-5M135.5 398.5v5.5M140.5 104.5v-5M140.5 398.5v5.5M145.5 104.5v-5M145.5 398.5v5.5M150.5 104.5v-5M150.5 398.5v5.5M155.5 104.5v-5M155.5 398.5v5.5M160.5 104.5v-5M160.5 398.5v5.5M165.5 104.5v-5M165.5 398.5v5.5M170.5 104.5v-5M170.5 398.5v5.5M175.5 104.5v-5M175.5 398.5v5.5M180.5 104.5v-5M180.5 398.5v5.5M185.5 104.5v-5M185.5 398.5v5.5M190.5 104.5v-5M190.5 398.5v5.5M195.5 104.5v-5M195.5 398.5v5.5M200.5 104.5v-5M200.5 398.5v5.5M205.5 104.5v-5M205.5 398.5v5.5M210.5 104.5v-5M210.5 398.5v5.5M215.5 104.5v-5M215.5 398.5v5.5M220.5 104.5v-5M220.5 398.5v5.5M225.5 104.5v-5M225.5 398.5v5.5M230.5 104.5v-5M230.5 398.5v5.5M235.5 104.5v-10M235.5 398.5v9.0M240.5 104.5v-5M240.5 398.5v5.5M246.5 104.5v-5M246.5 398.5v5.5M251.5 104.5v-5M251.5 398.5v5.5M256.5 104.5v-5M256.5 398.5v5.5M261.5 104.5v-5M261.5 398.5v5.5M266.5 104.5v-5M266.5 398.5v5.5M271.5 104.5v-5M271.5 398.5v5.5M276.5 104.5v-5M276.5 398.5v5.5M281.5 104.5v-5M281.5 398.5v5.5M286.5 104.5v-5M286.5 398.5v5.5M291.5 104.5v-5M291.5 398.5v5.5M296.5 104.5v-5M296.5 398.5v5.5M301.5 104.5v-5M301.5 398.5v5.5M306.5 104.5v-5M306.5 398.5v5.5M311.5 104.5v-5M311.5 398.5v5.5M316.5 104.5v-5M316.5 398.5v5.5M321.5 104.5v-5M321.5 398.5v5.5M326.5 104.5v-5M326.5 398.5v5.5M331.5 104.5v-5M331.5 398.5v5.5M336.5 104.5v-5M336.5 398.5v5.5M341.5 104.5v-5M341.5 398.5v5.5M346.5 104.5v-5M346.5 398.5v5.5M351.5 104.5v-5M351.5 398.5v5.5M356.5 104.5v-10M356.5 398.5v9.0M361.5 104.5v-5M361.5 398.5v5.5M366.5 104.5v-5M366.5 398.5v5.5M371.5 104.5v-5M371.5 398.5v5.5M376.5 104.5v-5M376.5 398.5v5.5M381.5 104.5v-5M381.5 398.5v5.5M386.5 104.5v-5M386.5 398.5v5.5M391.5 104.5v-5M391.5 398.5v5.5M396.5 104.5v-5M396.5 398.5v5.5M401.5 104.5v-5M401.5 398.5v5.5M406.5 104.5v-5M406.5 398.5v5.5M411.5 104.5v-5M411.5 398.5v5.5M416.5 104.5v-5M416.5 398.5v5.5M421.5 104.5v-5M421.5 398.5v5.5M426.5 104.5v-5M426.5 398.5v5.5M432.5 104.5v-5M432.5 398.5v5.5M437.5 104.5v-5M437.5 398.5v5.5M442.5 104.5v-5M442.5 398.5v5.5M447.5 104.5v-5M447.5 398.5v5.5M452.5 104.5v-5M452.5 398.5v5.5M457.5 104.5v-5M457.5 398.5v5.5M462.5 104.5v-5M462.5 398.5v5.5M467.5 104.5v-5M467.5 398.5v5.5M472.5 104.5v-5M472.5 398.5v5.5M477.5 104.5v-10M477.5 398.5v9.0M482.5 104.5v-5M482.5 398.5v5.5M487.5 104.5v-5M487.5 398.5v5.5M492.5 104.5v-5M492.5 398.5v5.5M497.5 104.5v-5M497.5 398.5v5.5M502.5 104.5v-5M502.5 398.5v5.5M507.5 104.5v-5M507.5 398.5v5.5M512.5 104.5v-5M512.5 398.5v5.5M517.5 104.5v-5M517.5 398.5v5.5M522.5 104.5v-5M522.5 398.5v5.5M527.5 104.5v-5M527.5 398.5v5.5M532.5 104.5v-5M532.5 398.5v5.5M537.5 104.5v-5M537.5 398.5v5.5M542.5 104.5v-5M542.5 398.5v5.5M547.5 104.5v-5M547.5 398.5v5.5M552.5 104.5v-5M552.5 398.5v5.5M557.5 104.5v-5M557.5 398.5v5.5M562.5 104.5v-5M562.5 398.5v5.5M567.5 104.5v-5M567.5 398.5v5.5M572.5 104.5v-5M572.5 398.5v5.5M577.5 104.5v-5M577.5 398.5v5.5M582.5 104.5v-5M582.5 398.5v5.5M587.5 104.5v-5M587.5 398.5v5.5M592.5 104.5v-5M592.5 398.5v5.5M597.5 104.5v-10M597.5 398.5v9.0M602.5 104.5v-5M602.5 398.5v5.5M607.5 104.5v-5M607.5 398.5v5.5M612.5 104.5v-5M612.5 398.5v5.5M618.5 104.5v-5M618.5 398.5v5.5M623.5 104.5v-5M623.5 398.5v5.5M628.5 104.5v-5M628.5 398.5v5.5M633.5 104.5v-5M633.5 398.5v5.5M638.5 104.5v-5M638.5 398.5v5.5M643.5 104.5v-5M643.5 398.5v5.5M648.5 104.5v-5M648.5 398.5v5.5M653.5 104.5v-5M653.5 398.5v5.5M658.5 104.5v-5M658.5 398.5v5.5M663.5 104.5v-5M663.5 398.5v5.5M668.5 104.5v-5M668.5 398.5v5.5M673.5 104.5v-5M673.5 398.5v5.5M678.5 104.5v-5M678.5 398.5v5.5M683.5 104.5v-5M683.5 398.5v5.5M688.5 104.5v-5M688.5 398.5v5.5M693.5 104.5v-5M693.5 398.5v5.5M698.5 104.5v-5M698.5 398.5v5.5M703.5 104.5v-5M703.5 398.5v5.5M708.5 104.5v-5M708.5 398.5v5.5M713.5 104.5v-5M713.5 398.5v5.5M718.5 104.5v-10M718.5 398.5v9.0M723.5 104.5v-5M723.5 398.5v5.5M728.5 104.5v-5M728.5 398.5v5.5M733.5 104.5v-5M733.5 398.5v5.5M738.5 104.5v-5M738.5 398.5v5.5M743.5 104.5v-5M743.5 398.5v5.5M748.5 104.5v-5M748.5 398.5v5.5M753.5 104.5v-5M753.5 398.5v5.5M758.5 104.5v-5M758.5 398.5v5.5M763.5 104.5v-5M763.5 398.5v5.5M768.5 104.5v-5M768.5 398.5v5.5M773.5 104.5v-5M773.5 398.5v5.5M778.5 104.5v-5M778.5 398.5v5.5M783.5 104.5v-5M783.5 398.5v5.5M788.5 104.5v-5M788.5 398.5v5.5M793.5 104.5v-5M793.5 398.5v5.5M798.5 104.5v-5M798.5 398.5v5.5M803.5 104.5v-5M803.5 398.5v5.5M809.5 104.5v-5M809.5 398.5v5.5M814.5 104.5v-5M814.5 398.5v5.5M819.5 104.5v-5M819.5 398.5v5.5M824.5 104.5v-5M824.5 398.5v5.5M829.5 104.5v-5M829.5 398.5v5.5M834.5 104.5v-5M834.5 398.5v5.5M839.5 104.5v-10M839.5 398.5v9.0M844.5 104.5v-5M844.5 398.5v5.5M849.5 104.5v-5M849.5 398.5v5.5M854.5 104.5v-5M854.5 398.5v5.5M859.5 104.5v-5M859.5 398.5v5.5M864.5 104.5v-5M864.5 398.5v5.5M869.5 104.5v-5M869.5 398.5v5.5M874.5 104.5v-5M874.5 398.5v5.5M879.5 104.5v-5M879.5 398.5v5.5M884.5 104.5v-5M884.5 398.5v5.5M889.5 104.5v-5M889.5 398.5v5.5M894.5 104.5v-5M894.5 398.5v5.5M899.5 104.5v-5M899.5 398.5v5.5M904.5 104.5v-5M904.5 398.5v5.5M909.5 104.5v-5M909.5 398.5v5.5M914.5 104.5v-5M914.5 398.5v5.5M919.5 104.5v-5M919.5 398.5v5.5M924.5 104.5v-5M924.5 398.5v5.5M929.5 104.5v-5M929.5 398.5v5.5M90.5 123.5h-10M933.5 123.5h10M90.5 143.5h-10M933.5 143.5h10M90.5 162.5h-10M933.5 162.5h10M90.5 182.5h-10M933.5 182.5h10M90.5 202.5h-10M933.5 202.5h10M90.5 221.5h-10M933.5 221.5h10M90.5 241.5h-10M933.5 241.5h10M90.5 261.5h-10M933.5 261.5h10M90.5 280.5h-10M933.5 280.5h10M90.5 300.5h-10M933.5 300.5h10M90.5 319.5h-10M933.5 319.5h10M90.5 339.5h-10M933.5 339.5h10M90.5 359.5h-10M933.5 359.5h10M90.5 378.5h-10M933.5 378.5h10M90.5 398.5h-10M933.5 398.5h10" fill="none" stroke="#000" stroke-width="1" shape-rendering="crispEdges"/>
<rect x="948.5" y="391.5" width="22.0" height="7" fill="#cc00ff" stroke="#000" stroke-width="1" shape-rendering="crispEdges"/>
<rect x="948.5" y="384.5" width="22.0" height="7" fill="#b708ff" stroke="#000" stroke-width="1" shape-rendering="crispEdges"/>
<rect x="948.5" y="377.5" width="22.0" height="7" fill="#a311ff" stroke="#000" stroke-width="1" shape-rendering="crispEdges"/>
<rect x="948.5" y="370.5" width="22.0" height="7" fill="#8e19ff" stroke="#000" stroke-width="1" shape-rendering="crispEdges"/>
<rect x="948.5" y="363.5" width="22.0" height="7" fill="#7921ff" stroke="#000" stroke-width="1" shape-rendering="crispEdges"/>
<rect x="948.5" y="356.5" width="22.0" height="7" fill="#6429ff" stroke="#000" stroke-width="1" shape-rendering="crispEdges"/>
<rect x="948.5" y="349.5" width="22.0" height="7" fill="#5032ff" stroke="#000" stroke-width="1" shape-rendering="crispEdges"/>
<rect x="948.5" y="342.5" width="22.0" height="7" fill="#453eec" stroke="#000" stroke-width="1" shape-rendering="crispEdges"/>
<rect x="948.5" y="335.5" width="22.0" height="7" fill="#3b4ad7" stroke="#000" stroke-width="1" shape-rendering="crispEdges"/>
<rect x="948.5" y="328.5" width="22.0" height="7" fill="#3256c1" stroke="#000" stroke-width="1" shape-rendering="crispEdges"/>
<rect x="948.5" y="321.5" width="22.0" height="7" fill="#2963ab" stroke="#000" stroke-width="1" shape-rendering="crispEdges"/>
<rect x="948.5" y="314.5" width="22.0" height="7" fill="#1f6f95" stroke="#000" stroke-width="1" shape-rendering="crispEdges"/>
<rect x="948.5" y="307.5" width="22.0" height="7" fill="#167c80" stroke="#000" stroke-width="1" shape-rendering="crispEdges"/>
<rect x="948.5" y="300.5" width="22.0" height="7" fill="#0d886a" stroke="#000" stroke-width="1" shape-rendering="crispEdges"/>
<rect x="948.5" y="293.5" width="22.0" height="7" fill="#039554" stroke="#000" stroke-width="1" shape-rendering="crispEdges"/>
<rect x="948.5" y="286.5" width="22.0" height="7" fill="#0d9e48" stroke="#000" stroke-width="1" shape-rendering="crispEdges"/>
<rect x="948.5" y="279.5" width="22.0" height="7" fill="#22a742" stroke="#000" stroke-width="1" shape-rendering="crispEdges"/>
<rect x="948.5" y="272.5" width="22.0" height="7" fill="#37af3c" stroke="#000" stroke-width="1" shape-rendering="crispEdges"/>
<rect x="948.5" y="265.5" width="22.0" height="7" fill="#4cb736" stroke="#000" stroke-width="1" shape-rendering="crispEdges"/>
<rect x="948.5" y="258.5" width="22.0" height="7" fill="#60c030" stroke="#000" stroke-width="1" shape-rendering="crispEdges"/>
<rect x="948.5" y="251.5" width="22.0" height="7" fill="#75c829" stroke="#000" stroke-width="1" shape-rendering="crispEdges"/>
<rect x="948.5" y="244.5" width="22.0" height="7" fill="#8ad023" stroke="#000" stroke-width="1" shape-rendering="crispEdges"/>
<rect x="948.5" y="237.5" width="22.0" height="7" fill="#9fd81d" stroke="#000" stroke-width="1" shape-rendering="crispEdges"/>
<rect x="948.5" y="230.5" width="22.0" height="7" fill="#b3e117" stroke="#000" stroke-width="1" shape-rendering="crispEdges"/>
<rect x="948.5" y="223.5" width="22.0" height="7" fill="#c8e910" stroke="#000" stroke-width="1" shape-rendering="crispEdges"/>
<rect x="948.5" y="216.5" width="22.0" height="7" fill="#ddf10a" stroke="#000" stroke-width="1" shape-rendering="crispEdges"/>
<rect x="948.5" y="209.5" width="22.0" height="7" fill="#f2fa04" stroke="#000" stroke-width="1" shape-rendering="crispEdges"/>
<rect x="948.5" y="202.5" width="22.0" height="7" fill="#fff600" stroke="#000" stroke-width="1" shape-rendering="crispEdges"/>
<rect x="948.5" y="195.5" width="22.0" height="7" fill="#ffdd00" stroke="#000" stroke-width="1" shape-rendering="crispEdges"/>
<rect x="948.5" y="188.5" width="22.0" height="7" fill="#ffc500" stroke="#000" stroke-width="1" shape-rendering="crispEdges"/>
<rect x="948.5" y="181.5" width="22.0" height="7" fill="#ffac00" stroke="#000" stroke-width="1" shape-rendering="crispEdges"/>
<rect x="948.5" y="174.5" width="22.0" height="7" fill="#ff9300" stroke="#000" stroke-width="1" shape-rendering="crispEdges"/>
<rect x="948.5" y="167.5" width="22.0" height="7" fill="#ff7a00" stroke="#000" stroke-width="1" shape-rendering="crispEdges"/>
<rect x="948.5" y="160.5" width="22.0" height="7" fill="#ff6100" stroke="#000" stroke-width="1" shape-rendering="crispEdges"/>
<rect x="948.5" y="153.5" width="22.0" height="7" fill="#ff4800" stroke="#000" stroke-width="1" shape-rendering="crispEdges"/>
<rect x="948.5" y="146.5" width="22.0" height="7" fill="#ff2f00" stroke="#000" stroke-width="1" shape-rendering="crispEdges"/>
<rect x="948.5" y="139.5" width="22.0" height="7" fill="#ff1600" stroke="#000" stroke-width="1" shape-rendering="crispEdges"/>
<rect x="948.5" y="132.5" width="22.0" height="7" fill="#fd0000" stroke="#000" stroke-width="1" shape-rendering="crispEdges"/>
<rect x="948.5" y="125.5" width="22.0" height="7" fill="#e40000" stroke="#000" stroke-width="1" shape-rendering="crispEdges"/>
<rect x="948.5" y="118.5" width="22.0" height="7" fill="#cb0000" stroke="#000" stroke-width="1" shape-rendering="crispEdges"/>
<rect x="948.5" y="111.5" width="22.0" height="7" fill="#b20000" stroke="#000" stroke-width="1" shape-rendering="crispEdges"/>
<rect x="948.5" y="104.5" width="22.0" height="7" fill="#990000" stroke="#000" stroke-width="1" shape-rendering="crispEdges"/>
<text x="974.6" y="109.3" font-family="Liberation Sans, sans-serif" font-size="12" textLength="30.2" lengthAdjust="spacingAndGlyphs">34.26</text>
<text x="974.6" y="123.3" font-family="Liberation Sans, sans-serif" font-size="12" textLength="30.2" lengthAdjust="spacingAndGlyphs">34.22</text>
<text x="974.6" y="137.3" font-family="Liberation Sans, sans-serif" font-size="12" textLength="30.2" lengthAdjust="spacingAndGlyphs">34.18</text>
<text x="974.6" y="151.3" font-family="Liberation Sans, sans-serif" font-size="12" textLength="30.2" lengthAdjust="spacingAndGlyphs">34.14</text>
<text x="974.6" y="165.3" font-family="Liberation Sans, sans-serif" font-size="12" textLength="22.2" lengthAdjust="spacingAndGlyphs">34.1</text>
<text x="974.6" y="179.3" font-family="Liberation Sans, sans-serif" font-size="12" textLength="30.2" lengthAdjust="spacingAndGlyphs">34.06</text>
<text x="974.6" y="193.3" font-family="Liberation Sans, sans-serif" font-size="12" textLength="30.2" lengthAdjust="spacingAndGlyphs">34.02</text>
<text x="974.6" y="207.3" font-family="Liberation Sans, sans-serif" font-size="12" textLength="30.2" lengthAdjust="spacingAndGlyphs">33.98</text>
<text x="974.6" y="221.3" font-family="Liberation Sans, sans-serif" font-size="12" textLength="30.2" lengthAdjust="spacingAndGlyphs">33.94</text>
<text x="974.6" y="235.3" font-family="Liberation Sans, sans-serif" font-size="12" textLength="22.2" lengthAdjust="spacingAndGlyphs">33.9</text>
<text x="974.6" y="249.3" font-family="Liberation Sans, sans-serif" font-size="12" textLength="30.2" lengthAdjust="spacingAndGlyphs">33.86</text>
<text x="974.6" y="263.3" font-family="Liberation Sans, sans-serif" font-size="12" textLength="30.2" lengthAdjust="spacingAndGlyphs">33.82</text>
<text x="974.6" y="277.3" font-family="Liberation Sans, sans-serif" font-size="12" textLength="30.2" lengthAdjust="spacingAndGlyphs">33.78</text>
<text x="974.6" y="291.3" font-family="Liberation Sans, sans-serif" font-size="12" textLength="30.2" lengthAdjust="spacingAndGlyphs">33.74</text>
<text x="974.6" y="305.3" font-family="Liberation Sans, sans-serif" font-size="12" textLength="22.2" lengthAdjust="spacingAndGlyphs">33.7</text>
<text x="974.6" y="319.3" font-family="Liberation Sans, sans-serif" font-size="12" textLength="30.2" lengthAdjust="spacingAndGlyphs">33.66</text>
<text x="974.6" y="333.3" font-family="Liberation Sans, sans-serif" font-size="12" textLength="30.2" lengthAdjust="spacingAndGlyphs">33.62</text>
<text x="974.6" y="347.3" font-family="Liberation Sans, sans-serif" font-size="12" textLength="30.2" lengthAdjust="spacingAndGlyphs">33.58</text>
<text x="974.6" y="361.3" font-family="Liberation Sans, sans-serif" font-size="12" textLength="30.2" lengthAdjust="spacingAndGlyphs">33.54</text>
<text x="974.6" y="375.3" font-family="Liberation Sans, sans-serif" font-size="12" textLength="22.2" lengthAdjust="spacingAndGlyphs">33.5</text>
<text x="974.6" y="389.3" font-family="Liberation Sans, sans-serif" font-size="12" textLength="30.2" lengthAdjust="spacingAndGlyphs">33.46</text>
<text x="974.6" y="403.3" font-family="Liberation Sans, sans-serif" font-size="12" textLength="30.2" lengthAdjust="spacingAndGlyphs">33.42</text>
<text x="75" y="127.7" text-anchor="end" font-family="Liberation Sans, sans-serif" font-size="11.5">20</text>
<text x="75" y="167.0" text-anchor="end" font-family="Liberation Sans, sans-serif" font-size="11.5">60</text>
<text x="75" y="206.3" text-anchor="end" font-family="Liberation Sans, sans-serif" font-size="11.5">100</text>
<text x="75" y="245.6" text-anchor="end" font-family="Liberation Sans, sans-serif" font-size="11.5">140</text>
<text x="75" y="284.9" text-anchor="end" font-family="Liberation Sans, sans-serif" font-size="11.5">180</text>
<text x="75" y="324.1" text-anchor="end" font-family="Liberation Sans, sans-serif" font-size="11.5">220</text>
<text x="75" y="363.4" text-anchor="end" font-family="Liberation Sans, sans-serif" font-size="11.5">260</text>
<text x="75" y="402.7" text-anchor="end" font-family="Liberation Sans, sans-serif" font-size="11.5">300</text>
<text transform="translate(44.8,288.3) rotate(-90)" font-family="Liberation Sans, sans-serif" font-size="13"><tspan x="0" textLength="40.7" lengthAdjust="spacingAndGlyphs">DEPTH</tspan> <tspan x="49.6" textLength="23.8" lengthAdjust="spacingAndGlyphs">(m)</tspan></text>
<text x="108.5" y="418.6" font-family="Liberation Sans, sans-serif" font-size="11.5" textLength="13.6" lengthAdjust="spacingAndGlyphs">00</text>
<text x="138.7" y="418.6" font-family="Liberation Sans, sans-serif" font-size="11.5" textLength="13.6" lengthAdjust="spacingAndGlyphs">06</text>
<text x="168.8" y="418.6" font-family="Liberation Sans, sans-serif" font-size="11.5" textLength="13.6" lengthAdjust="spacingAndGlyphs">12</text>
<text x="199.0" y="418.6" font-family="Liberation Sans, sans-serif" font-size="11.5" textLength="13.6" lengthAdjust="spacingAndGlyphs">18</text>
<text x="229.1" y="418.6" font-family="Liberation Sans, sans-serif" font-size="11.5" textLength="13.6" lengthAdjust="spacingAndGlyphs">00</text>
<text x="259.3" y="418.6" font-family="Liberation Sans, sans-serif" font-size="11.5" textLength="13.6" lengthAdjust="spacingAndGlyphs">06</text>
<text x="289.5" y="418.6" font-family="Liberation Sans, sans-serif" font-size="11.5" textLength="13.6" lengthAdjust="spacingAndGlyphs">12</text>
<text x="319.6" y="418.6" font-family="Liberation Sans, sans-serif" font-size="11.5" textLength="13.6" lengthAdjust="spacingAndGlyphs">18</text>
<text x="349.8" y="418.6" font-family="Liberation Sans, sans-serif" font-size="11.5" textLength="13.6" lengthAdjust="spacingAndGlyphs">00</text>
<text x="380.0" y="418.6" font-family="Liberation Sans, sans-serif" font-size="11.5" textLength="13.6" lengthAdjust="spacingAndGlyphs">06</text>
<text x="410.1" y="418.6" font-family="Liberation Sans, sans-serif" font-size="11.5" textLength="13.6" lengthAdjust="spacingAndGlyphs">12</text>
<text x="440.3" y="418.6" font-family="Liberation Sans, sans-serif" font-size="11.5" textLength="13.6" lengthAdjust="spacingAndGlyphs">18</text>
<text x="470.4" y="418.6" font-family="Liberation Sans, sans-serif" font-size="11.5" textLength="13.6" lengthAdjust="spacingAndGlyphs">00</text>
<text x="500.6" y="418.6" font-family="Liberation Sans, sans-serif" font-size="11.5" textLength="13.6" lengthAdjust="spacingAndGlyphs">06</text>
<text x="530.8" y="418.6" font-family="Liberation Sans, sans-serif" font-size="11.5" textLength="13.6" lengthAdjust="spacingAndGlyphs">12</text>
<text x="560.9" y="418.6" font-family="Liberation Sans, sans-serif" font-size="11.5" textLength="13.6" lengthAdjust="spacingAndGlyphs">18</text>
<text x="591.1" y="418.6" font-family="Liberation Sans, sans-serif" font-size="11.5" textLength="13.6" lengthAdjust="spacingAndGlyphs">00</text>
<text x="621.3" y="418.6" font-family="Liberation Sans, sans-serif" font-size="11.5" textLength="13.6" lengthAdjust="spacingAndGlyphs">06</text>
<text x="651.4" y="418.6" font-family="Liberation Sans, sans-serif" font-size="11.5" textLength="13.6" lengthAdjust="spacingAndGlyphs">12</text>
<text x="681.6" y="418.6" font-family="Liberation Sans, sans-serif" font-size="11.5" textLength="13.6" lengthAdjust="spacingAndGlyphs">18</text>
<text x="711.7" y="418.6" font-family="Liberation Sans, sans-serif" font-size="11.5" textLength="13.6" lengthAdjust="spacingAndGlyphs">00</text>
<text x="741.9" y="418.6" font-family="Liberation Sans, sans-serif" font-size="11.5" textLength="13.6" lengthAdjust="spacingAndGlyphs">06</text>
<text x="772.1" y="418.6" font-family="Liberation Sans, sans-serif" font-size="11.5" textLength="13.6" lengthAdjust="spacingAndGlyphs">12</text>
<text x="802.2" y="418.6" font-family="Liberation Sans, sans-serif" font-size="11.5" textLength="13.6" lengthAdjust="spacingAndGlyphs">18</text>
<text x="832.4" y="418.6" font-family="Liberation Sans, sans-serif" font-size="11.5" textLength="13.6" lengthAdjust="spacingAndGlyphs">00</text>
<text x="862.6" y="418.6" font-family="Liberation Sans, sans-serif" font-size="11.5" textLength="13.6" lengthAdjust="spacingAndGlyphs">06</text>
<text x="892.7" y="418.6" font-family="Liberation Sans, sans-serif" font-size="11.5" textLength="13.6" lengthAdjust="spacingAndGlyphs">12</text>
<text x="922.9" y="418.6" font-family="Liberation Sans, sans-serif" font-size="11.5" textLength="13.6" lengthAdjust="spacingAndGlyphs">18</text>
<text x="142.0" y="438.7" font-family="Liberation Sans, sans-serif" font-size="17" textLength="31.0" lengthAdjust="spacingAndGlyphs">OCT</text>
<text x="191.0" y="438.7" font-family="Liberation Sans, sans-serif" font-size="17">1</text>
<text x="262.0" y="438.7" font-family="Liberation Sans, sans-serif" font-size="17" textLength="31.0" lengthAdjust="spacingAndGlyphs">OCT</text>
<text x="311.0" y="438.7" font-family="Liberation Sans, sans-serif" font-size="17">2</text>
<text x="382.8" y="438.7" font-family="Liberation Sans, sans-serif" font-size="17" textLength="31.0" lengthAdjust="spacingAndGlyphs">OCT</text>
<text x="431.8" y="438.7" font-family="Liberation Sans, sans-serif" font-size="17">3</text>
<text x="503.9" y="438.7" font-family="Liberation Sans, sans-serif" font-size="17" textLength="30.9" lengthAdjust="spacingAndGlyphs">OCT</text>
<text x="552.8" y="438.7" font-family="Liberation Sans, sans-serif" font-size="17">4</text>
<text x="625.0" y="438.7" font-family="Liberation Sans, sans-serif" font-size="17" textLength="30.2" lengthAdjust="spacingAndGlyphs">OCT</text>
<text x="673.2" y="438.7" font-family="Liberation Sans, sans-serif" font-size="17">5</text>
<text x="745.3" y="438.7" font-family="Liberation Sans, sans-serif" font-size="17" textLength="30.5" lengthAdjust="spacingAndGlyphs">OCT</text>
<text x="793.8" y="438.7" font-family="Liberation Sans, sans-serif" font-size="17">6</text>
<text x="853.3" y="438.7" font-family="Liberation Sans, sans-serif" font-size="17" textLength="30.7" lengthAdjust="spacingAndGlyphs">OCT</text>
<text x="902.0" y="438.7" font-family="Liberation Sans, sans-serif" font-size="17">7</text>
<text y="35.1" font-family="Liberation Sans, sans-serif" font-size="13"><tspan x="90.6" textLength="60.5" lengthAdjust="spacingAndGlyphs">LONGITUDE</tspan> <tspan x="156.5">:</tspan> <tspan x="168.7" textLength="69.9" lengthAdjust="spacingAndGlyphs">122W(-122)</tspan> </text>
<text y="47.1" font-family="Liberation Sans, sans-serif" font-size="11"><tspan x="90.6" textLength="48.5" lengthAdjust="spacingAndGlyphs">LATITUDE</tspan> <tspan x="146.0">:</tspan> <tspan x="156.4" textLength="32.0" lengthAdjust="spacingAndGlyphs">36.8N</tspan> </text>
<text y="60.0" font-family="Liberation Sans, sans-serif" font-size="11"><tspan x="90.6" textLength="27.6" lengthAdjust="spacingAndGlyphs">YEAR</tspan> <tspan x="124.5">:</tspan> <tspan x="134.2" textLength="27.1" lengthAdjust="spacingAndGlyphs">2010</tspan> </text>
<text y="80.7" font-family="Liberation Sans, sans-serif" font-size="13"><tspan x="225.9" textLength="40.8" lengthAdjust="spacingAndGlyphs">Hourly</tspan> <tspan x="273.8" textLength="50.3" lengthAdjust="spacingAndGlyphs">Gridded</tspan> <tspan x="331.5" textLength="37.8" lengthAdjust="spacingAndGlyphs">MBARI</tspan> <tspan x="377.0" textLength="52.0" lengthAdjust="spacingAndGlyphs">Mooring</tspan> <tspan x="435.6" textLength="19.3" lengthAdjust="spacingAndGlyphs">M1</tspan> <tspan x="462.3" textLength="22.3" lengthAdjust="spacingAndGlyphs">Sea</tspan> <tspan x="493.1" textLength="36.6" lengthAdjust="spacingAndGlyphs">Water</tspan> <tspan x="538.2" textLength="83.1" lengthAdjust="spacingAndGlyphs">Temperature</tspan> <tspan x="628.8" textLength="22.9" lengthAdjust="spacingAndGlyphs">and</tspan> <tspan x="659.2" textLength="47.1" lengthAdjust="spacingAndGlyphs">Salinity</tspan> <tspan x="713.8" textLength="85.0" lengthAdjust="spacingAndGlyphs">Observations</tspan> </text>
<text y="475.5" font-family="Liberation Serif, serif" font-size="24"><tspan x="400.6" textLength="39.2" lengthAdjust="spacingAndGlyphs">Sea</tspan> <tspan x="453.5" textLength="67.0" lengthAdjust="spacingAndGlyphs">Water</tspan> <tspan x="533.9" textLength="90.4" lengthAdjust="spacingAndGlyphs">Salinity</tspan> </text>
</svg>
</body></html>
